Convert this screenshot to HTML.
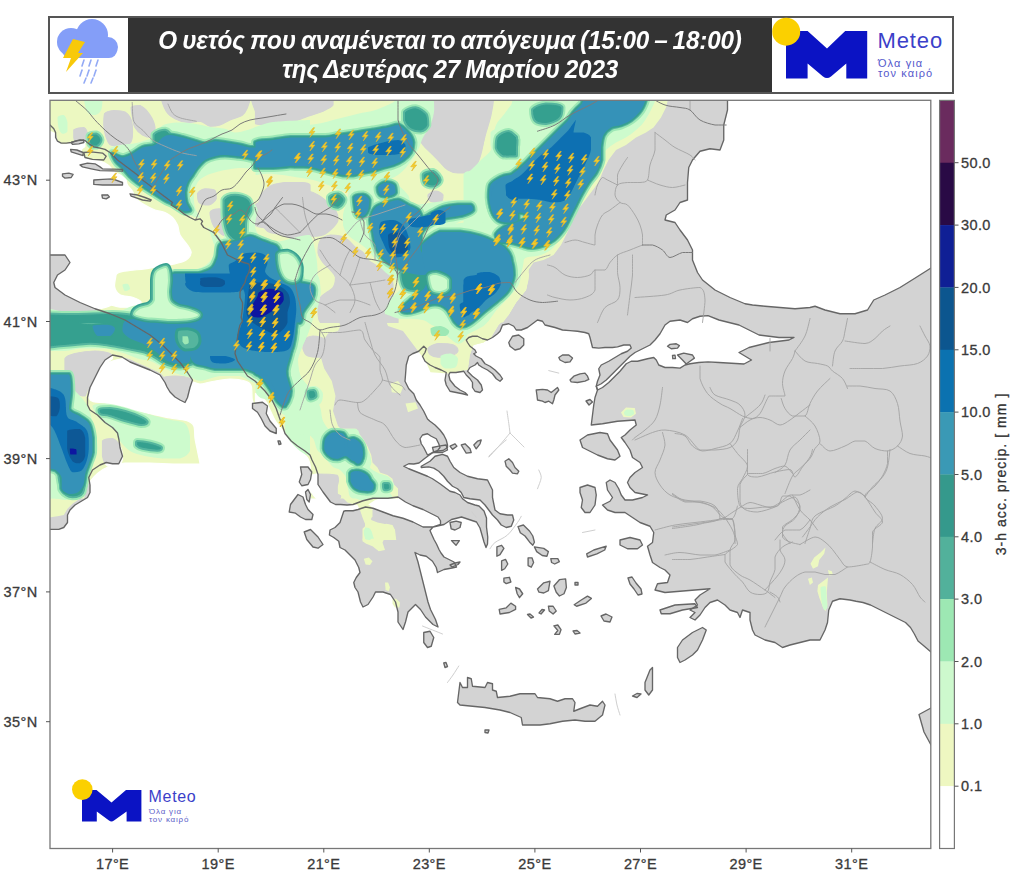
<!DOCTYPE html>
<html><head><meta charset="utf-8"><style>
html,body{margin:0;padding:0;background:#fff;width:1024px;height:884px;overflow:hidden;font-family:"Liberation Sans",sans-serif}
.ttl{color:#fff;font-weight:bold;font-style:italic;font-size:25px;line-height:26px;white-space:nowrap;letter-spacing:-0.2px;word-spacing:-1.5px;transform:scaleX(0.972);transform-origin:50% 50%}
.tk{font-family:"Liberation Sans",sans-serif;font-size:14.5px;fill:#3a3a3a;letter-spacing:0.4px;stroke:#3a3a3a;stroke-width:0.3px}
.tk2{font-family:"Liberation Sans",sans-serif;font-size:14px;fill:#333;letter-spacing:1.05px;stroke:#333;stroke-width:0.3px}
</style></head><body>
<svg style="position:absolute;left:0;top:0" width="1024" height="884" viewBox="0 0 1024 884">
<defs><clipPath id="mc"><rect x="50" y="100.3" width="880.8" height="748.2"/></clipPath><filter id="soft" x="0" y="0" width="1024" height="884" filterUnits="userSpaceOnUse"><feGaussianBlur stdDeviation="0.75"/></filter></defs>
<g clip-path="url(#mc)"><g filter="url(#soft)"><rect x="40" y="90" width="905" height="780" fill="#d3d3d3"/>
<path d="M40,125 L50,125 L53.8,128.8 L55.6,132.5 L55.6,137.5 L57.5,141.2 L61.2,143.1 L66.2,143.1 L71.2,142.5 L75,141.2 L80,140 L85,140.6 L88.8,143.8 L93.8,146.9 L100,148.1 L105,149.4 L110,152.5 L113.8,156.2 L117.5,160 L122.5,163.8 L127.5,167.5 L132.5,171.2 L137.5,175 L142.5,180 L147.5,183.8 L152.5,187.5 L157.5,191.2 L162.5,195 L167.5,198.8 L172.5,202.5 L171.2,205 L177.5,208.8 L183.8,213.8 L190,217.5 L195,220 L200,218.8 L202.5,221.2 L201.2,223.8 L203.8,227.5 L208.8,230 L213.8,232.5 L217.5,237.5 L221.2,242.5 L225,250 L227.5,255 L232.5,257.5 L237.5,260 L243.8,262.5 L248.8,263.8 L250,267.5 L248.8,272.5 L246.2,277.5 L245,282.5 L241.2,288.8 L240,292.5 L240,297.5 L242.5,302.5 L242.5,307.5 L241.9,312.5 L241.2,317.5 L242.5,321.2 L240,325 L238.8,330 L237.5,337.5 L236.2,346 L235,353.5 L237.5,361 L242.5,368.5 L247.5,376 L255,381 L260,386 L265,391 L268.8,396 L272.5,401 L276.2,408.5 L278.8,416 L282.5,426 L285,433.5 L291.2,441 L297.5,446 L305,451 L310,455 L312,460 L315.5,467 L318,474.5 L318,484.5 L323,492 L330.5,502 L335.5,504.5 L340.5,504.5 L347,505 L353,504.5 L363,500.75 L373,498.25 L388,498.25 L398,497 L405.5,502 L413,505.75 L423,509.5 L430.5,513.25 L438,517 L440.5,520.75 L440.5,524.5 L433,527 L423,527 L413,522 L403,518.25 L393,515.75 L383,512 L373,508.25 L365.5,507 L358,509.5 L353,510.75 L345.5,510.75 L343.75,511.25 L340,522.5 L335,527.5 L330,530 L329.4,535 L333.75,537.5 L338.75,541.25 L340,547.5 L345,550 L350,555 L355,560 L358.75,567.5 L360,572.5 L356.25,577.5 L353.75,582.5 L355,587.5 L358,592 L360.5,602 L363,607 L368,604.5 L373,597 L375.5,592 L383,592 L390.5,594.5 L395.5,602 L398,612 L398,622 L403,629.5 L405.5,622 L408,612 L415.5,604.5 L420.5,609.5 L425.5,617 L433,624.5 L438,627 L435.5,619.5 L430.5,609.5 L428,602 L425.5,592 L423,582 L420.5,572 L418,562 L415,552.5 L420,555 L426.25,556.25 L432.5,561.25 L436.25,567.5 L437.5,572.5 L444,569.5 L452,568 L456.5,567 L454,562 L448,559 L444,557 L441,553 L439,549.5 L436.5,544 L434,539.5 L431.5,534 L430,530.5 L433,527 L444,524.5 L451.5,519.5 L461.5,517 L469,519.5 L476.5,522 L480,528 L482,535 L484,542 L486,547.5 L487.5,544 L487.75,537 L486.5,527 L486.5,518 L484,511 L479,506 L475,505 L467.5,502.5 L462.5,498.75 L460,495 L455,492.5 L450,491.25 L445,487.5 L440,483.75 L436.25,481.25 L432.5,478.75 L427.5,476.25 L421.25,473.75 L415,471.25 L408.75,468.75 L403.75,466.25 L408.75,463.75 L413.75,464 L419,463 L424,459 L428,456 L433,452.5 L438,451 L443,450.5 L447.5,447.5 L447.5,445 L446.25,440 L443.75,435 L440,430 L435,425 L430,421.25 L427.5,419 L423.75,411.25 L420,405 L416.25,400 L413.75,393.75 L408.75,388.75 L405,381.25 L405.6,373.75 L406.25,365 L408.75,356.25 L412.5,353.75 L418.75,351.25 L423.75,346.25 L426.25,348.75 L425,352.5 L422.5,356.25 L425,361.25 L430,365 L435,367.5 L441.25,370 L446.25,372.5 L445,380 L446.25,385 L450,391.25 L456.25,392.5 L462.5,393.75 L467.5,395 L465,392.5 L460,390 L455,386.25 L450,380 L448.75,375 L450,372.5 L456,372.5 L463.75,371.25 L466.25,375 L470,378.75 L472.5,382.5 L472.5,387.5 L475,391.25 L480,392.5 L482.5,390 L481.25,385 L477.5,380 L472.5,376.25 L467.5,371.25 L470,367.5 L475,365 L477.5,362.5 L478.75,365 L482.5,367.5 L487.5,370 L492.5,373.75 L496.25,378.75 L500,381.25 L502.5,378.75 L500,375 L495,370 L490,366.25 L485,363.75 L481.25,358.75 L476,356 L473.75,353.75 L476.25,352.5 L475,350 L470,346.25 L467.5,342.5 L466.25,340 L468.75,337.5 L472.5,336.25 L477.5,336.25 L482.5,338.75 L487.5,340 L492.5,337.5 L497.5,333.75 L500,331.25 L502.5,325 L508.75,323.75 L513.75,326.25 L516.25,330 L521.25,330 L527.5,327.5 L532.5,323.75 L537.5,320 L542.5,321.25 L545,325 L550,326.25 L555,327.5 L562.5,330 L570,330.6 L577.5,331.25 L585,332.5 L588.75,333.75 L590,337.5 L591.25,342.5 L592.5,347.5 L598.75,348.1 L605,347.5 L612.5,347.5 L617.5,346.9 L623.75,345 L630,345 L631.25,348.1 L627.5,351.25 L621.25,353.75 L615,357.5 L608.75,361.25 L601.25,365 L598.75,368.75 L600,375 L597.5,381.25 L596.25,386.25 L597.5,390 L595,397.5 L593.75,405 L591.25,425 L602.5,423.75 L617.5,421.25 L635,420 L636.25,425 L630,430 L625,435 L621.25,437.5 L625,442.5 L630,450 L632.5,457.5 L640,462.5 L642.5,467.5 L635,472.5 L630,477.5 L627.5,482.5 L630,487.5 L635,492.5 L647.5,495 L642.5,497.5 L632.5,500 L625,500 L621.25,495 L618.75,488.75 L615,482.5 L610,480 L606.25,482.5 L607.5,490 L612.5,497.5 L610,501.25 L602.5,505 L607.5,510 L615,512.5 L625,512.5 L632.5,517.5 L640,522.5 L650,526.25 L653.75,532.5 L652.5,542.5 L647.5,546.25 L650,555 L652.5,562.5 L660,567.5 L665,570 L670,575 L667.5,582.5 L657.5,583.75 L655,590 L665,592.5 L680,591.25 L695,590 L710,588.75 L700,595 L695,600 L697.5,605 L690,610 L695,612.5 L690,617.5 L695,620 L700,615 L705,607.5 L710,602.5 L717.5,600 L725,605 L730,610 L737.5,612.5 L740,617.5 L742.5,610 L750,612.5 L750,620 L752.5,630 L755,635 L765,640 L775,642.5 L782.5,647.5 L790,645 L800,642.5 L810,640 L820,640 L822.5,635 L825,630 L827.5,622.5 L828.75,610 L832.5,601.25 L840,598.75 L850,600 L856,601.25 L863,602.5 L870.5,605 L878,608.75 L888,613.75 L898,618.75 L905.5,622.5 L910.5,627.5 L914.25,633.75 L918,641 L924,646 L931,652 L945,655 L945,870 L40,870Z" fill="#fff" />
<path d="M727.5,90 L727.5,100 L727.5,110 L723.75,125 L723.75,140 L720,150 L710,148.75 L700,151.25 L692.5,160 L688.75,167.5 L687.5,182.5 L687.5,200 L680,202.5 L675,210 L666.25,215 L665,220 L675,222.5 L680,230 L687.5,240 L692.5,250 L692.5,260 L697.5,272.5 L702.5,280 L715,290 L730,297.5 L745,303.75 L752.5,305 L765,306.25 L780,307.5 L795,308.75 L810,307.5 L815,306.25 L825,310 L840,313.75 L855,313.75 L867.5,310 L873.75,300 L885,295 L900,287.5 L910,281.25 L916,277.5 L931,268 L945,262 L945,90Z" fill="#fff" />
<path d="M596.25,386.25 L601.25,383.75 L606.25,380 L610,376.25 L615,371.25 L620,366.25 L625,361.25 L630,356.25 L635,352.5 L640,350 L645,347.5 L650,345 L655,340 L660,333.75 L665,325 L670,321.25 L680,320 L687.5,322.5 L692.5,318.75 L700,316.25 L708,315.6 L719,320 L739,325 L749,330 L759,335 L779,337.5 L794,337.5 L789,340 L769,342.5 L749,347.5 L739,352.5 L751.5,360 L744,364 L719,362.5 L708,361.9 L698.75,362.5 L690,363.75 L685,365 L680,368.1 L672.5,367.5 L665,367.5 L658.75,365 L656.25,360 L653.75,357.5 L647.5,358.75 L642.5,360 L637.5,361.25 L631.25,361.25 L626.25,363.75 L620,371.25 L613.75,377.5 L608.75,382.5 L602.5,387.5 L597.5,390Z" fill="#fff" />
<path d="M420,438.75 L422.5,435 L427.5,433.75 L431.25,436.25 L436.25,438.75 L438.75,443.75 L440,447.5 L437.5,450.6 L433.75,451.9 L430,453.75 L427.5,455 L426.25,452.5 L423.75,447.5 L421.25,443.75Z" fill="#fff" />
<path d="M30,250 L50,255 L65,255 L70,262.5 L65,270 L57.5,275 L53.75,282.5 L55,287.5 L65,295 L80,302.5 L95,308.75 L110,313.75 L125,320 L137.5,327.5 L150,335 L162.5,345 L172.5,355 L180,362.5 L187.5,372.5 L192.5,380 L190,387.5 L187.5,397.5 L185,402.5 L180,400 L175,397 L170,392 L167,387 L165,382.5 L160,375 L150,370 L140,366 L130,362 L122,357 L112.5,355 L105,360 L100,367.5 L95,377.5 L90,387.5 L87.5,397.5 L87.5,405 L90,410 L97.5,415 L105,422.5 L112.5,427.5 L117.5,433 L119,440 L120,447.5 L122.5,456.25 L118.75,463.75 L112.5,463.75 L106.25,462.5 L100,465 L92.5,470 L88.75,477.5 L90,485 L90,492.5 L87.5,497.5 L81.25,501.25 L75,505 L70,510 L67.5,515 L67.5,522.5 L63.75,527.5 L58.75,529.4 L50,529.4 L30,529.4Z" fill="#d3d3d3" />
<path d="M421.25,466.25 L430,461.25 L435,456.25 L442.5,454.4 L447.5,456.25 L450,461.25 L453.75,467.5 L460,472.5 L467.5,476.25 L477.5,478.75 L487.5,480 L490,485 L492.5,490 L492.5,497.5 L493.75,503.75 L495,510 L500,513.75 L507.5,515 L512.5,515 L513.75,520 L511.25,526.25 L506.25,527.5 L501.25,525 L497.5,520 L492.5,515 L488.75,510 L485,505 L480,500 L470,498.75 L463.75,497.5 L461.25,492.5 L457.5,488.75 L452.5,486.25 L447.5,481.25 L443.75,476.25 L438.75,471.25 L433.75,468.1 L428.75,466.9 L421.25,467.5Z" fill="#d3d3d3" />
<path d="M457.5,702.5 L460,682.5 L462.5,687.5 L467.5,687.5 L467.5,677.5 L471.25,678.75 L472.5,686.25 L485,687.5 L487.5,682.5 L492.5,683.75 L492.5,690 L496.25,691.25 L497.5,697.5 L510,696.25 L520,693.75 L535,693.75 L537.5,697.5 L550,698.75 L557.5,701.25 L565,698.75 L572.5,698.75 L575,702.5 L573.75,711.25 L580,708.75 L590,705 L597.5,706.25 L602.5,701.25 L605,705 L602.5,715 L595,721.25 L585,721.25 L575,720 L562.5,721.25 L550,723.75 L540,725 L522.5,725 L521.25,717.5 L510,712.5 L500,710 L485,707.5 L472.5,706.25 L460,705Z" fill="#d3d3d3" />
<path d="M677.5,647.5 L682.5,640 L692.5,632.5 L702.5,627.5 L706.25,630 L702.5,640 L697.5,650 L692.5,655 L685,660 L680,662.5 L677.5,657.5Z" fill="#d3d3d3" />
<path d="M645,682.5 L650,670 L652.5,667.5 L652.5,677.5 L652.5,690 L648.75,695 L645,690Z" fill="#d3d3d3" />
<path d="M632.5,696 L637,693.5 L641,694 L637,697.5Z" fill="#d3d3d3" />
<path d="M660,610 L675,605 L695,603.75 L697.5,607.5 L682.5,610 L670,613.75 L661.25,613.75Z" fill="#d3d3d3" />
<path d="M628,578 L632,577 L636,583 L641,589 L642,594 L638,595 L634,589 L630,584Z" fill="#d3d3d3" />
<path d="M601,616 L606,614 L612,617 L610,622 L604,621Z" fill="#d3d3d3" />
<path d="M580,440 L587.5,435 L600,432.5 L607.5,433.75 L610,440 L617.5,450 L620,456.25 L615,460 L607.5,458.75 L597.5,455 L590,451.25 L582.5,447.5Z" fill="#d3d3d3" />
<path d="M580,487.5 L587.5,485 L595,487.5 L596.25,495 L595,505 L590,512.5 L585,512.5 L581.25,507.5 L582.5,500 L580,492.5Z" fill="#d3d3d3" />
<path d="M620,540 L630,537.5 L640,540 L642.5,545 L637.5,548.75 L627.5,548.75 L620,545Z" fill="#d3d3d3" />
<path d="M586.7,553.9 L593.75,550 L606.25,546.1 L604.7,550 L596.9,553.9 L587.5,557Z" fill="#d3d3d3" />
<path d="M536.2,390 L542.5,389.4 L547.5,390 L551.2,392.5 L557.5,387.5 L558.8,390 L555,395 L553.8,400 L552.5,403.8 L548.8,401.2 L545,402.5 L542.5,401.2 L537.5,400 L536.9,395Z" fill="#d3d3d3" />
<path d="M558.8,357.5 L562.5,355 L568.8,355 L572.5,358.1 L570,361.9 L565,362.5 L560,360Z" fill="#d3d3d3" />
<path d="M570,380 L573.8,376.2 L580,373.8 L585,373.1 L587.5,376.2 L588.8,379.4 L585,381.2 L577.5,382.5 L571.2,381.9Z" fill="#d3d3d3" />
<path d="M586,401 L590,399.5 L592.5,402 L589,405Z" fill="#d3d3d3" />
<path d="M508.75,342.5 L512.5,336.25 L518.75,335 L523.75,338.75 L523.75,345 L520,348.75 L515,350 L510,346.25Z" fill="#d3d3d3" />
<path d="M505,461.2 L508.8,458.8 L512.5,462.5 L515,467.5 L518.8,471.2 L517.5,473.8 L512.5,473.1 L510,470 L506.2,466.2Z" fill="#d3d3d3" />
<path d="M432.5,447.5 L438.8,446.2 L446.2,445 L447.5,450 L442.5,452.5 L433.8,452.5Z" fill="#d3d3d3" />
<path d="M450,446.2 L455,443.8 L456.9,446.2 L452.5,449.4Z" fill="#d3d3d3" />
<path d="M461.2,445 L465,443.8 L470,448.8 L471.2,452.5 L466.2,453.1Z" fill="#d3d3d3" />
<path d="M473.8,445 L477.5,441.2 L481.2,440 L480,443.8 L476.2,448.8Z" fill="#d3d3d3" />
<path d="M518,526.6 L523.4,525 L529.7,531.25 L532.8,536 L534.4,542.2 L532.8,545.3 L529.7,542.2 L525,536 L520.3,532.8Z" fill="#d3d3d3" />
<path d="M534.4,546.9 L543.75,548.4 L548.4,551.6 L546.9,556.25 L542.2,555.5 L536.7,551.6Z" fill="#d3d3d3" />
<path d="M550.8,558.6 L557.8,558.6 L559.4,561.7 L554.7,564 L551.6,562.5Z" fill="#d3d3d3" />
<path d="M528.1,557.8 L532,557.8 L533.6,562.5 L531.25,567.2 L528.1,565.6Z" fill="#d3d3d3" />
<path d="M496.9,546.9 L501.6,545.3 L503.9,548.4 L500,554.7 L496.9,556.25Z" fill="#d3d3d3" />
<path d="M501.6,560.9 L505.5,559.4 L507.8,564 L504.7,568.75 L501.6,570.3Z" fill="#d3d3d3" />
<path d="M503.9,578.1 L509.4,577.3 L510.9,582 L506.25,583.6 L503.9,582Z" fill="#d3d3d3" />
<path d="M515.6,587.5 L519.5,589 L522.7,593.75 L519.5,597.7 L517.2,593.75Z" fill="#d3d3d3" />
<path d="M537.5,589 L543.75,582.8 L550,581.25 L548.4,590.6 L543.75,593 L539,592.2Z" fill="#d3d3d3" />
<path d="M553.9,586 L559.4,579.7 L565.6,578.9 L566.4,587.5 L564,593.75 L559.4,596 L556.25,592.2Z" fill="#d3d3d3" />
<path d="M499.2,609.4 L506.25,607.8 L510.9,603.1 L515.6,606.25 L515.6,609.4 L509.4,612.5 L500,614Z" fill="#d3d3d3" />
<path d="M548.4,606.25 L553.1,606.25 L556.25,611 L553.1,614 L549.2,611Z" fill="#d3d3d3" />
<path d="M574.2,604.7 L581.25,600 L587.5,596.1 L591.4,598.4 L586,603.1 L576.6,606.25Z" fill="#d3d3d3" />
<path d="M553.9,625.8 L557.8,625 L561,629.7 L559.4,634.4 L554.7,634.4 L557.8,630.5Z" fill="#d3d3d3" />
<path d="M527.5,614.5 L530,614 L533.5,617 L531,618Z" fill="#d3d3d3" />
<path d="M539,613 L542,609.5 L544.5,610 L541,614Z" fill="#d3d3d3" />
<path d="M573,631 L577,630.5 L580,633 L575,634Z" fill="#d3d3d3" />
<path d="M575,582.5 L578,582.5 L578,585 L575,585Z" fill="#d3d3d3" />
<path d="M451.5,540.6 L459.4,540.6 L456,545.3Z" fill="#d3d3d3" />
<path d="M450,522.5 L456.2,521.2 L461.2,522.5 L460,527.5 L455,530 L451.2,528.8Z" fill="#d3d3d3" />
<path d="M450,565 L455,563 L460,562 L458,564.5 L452,567Z" fill="#d3d3d3" />
<path d="M423.75,632.5 L430,631.25 L433.75,637.5 L431.25,646.25 L427.5,647.5 L423.75,642.5Z" fill="#d3d3d3" />
<path d="M443.75,663 L446,662.5 L447.5,666.5 L445,667.5Z" fill="#d3d3d3" />
<path d="M485,730 L489,730 L488,733 L485,732.5Z" fill="#d3d3d3" />
<path d="M252.5,403.5 L262.5,402.25 L267.5,406 L266.25,413.5 L270,421 L276.25,428.5 L276.25,433.5 L270,431 L265,426 L261.25,418.5 L257.5,412.25 L252.5,408.5Z" fill="#d3d3d3" />
<path d="M278,441 L280,441 L281,444 L279,444.5Z" fill="#d3d3d3" />
<path d="M300.5,467 L308,467 L311.75,472 L310.5,479.5 L308,484.5 L301.75,485.75 L299.25,482 L301.75,474.5Z" fill="#d3d3d3" />
<path d="M290.5,504.5 L298,494.5 L303,497 L305.5,504.5 L308,509.5 L313,514.5 L311.8,519.5 L305.5,519.5 L300.5,517 L295.5,513.2 L289.2,512Z" fill="#d3d3d3" />
<path d="M305.5,492 L308,489.5 L310.5,494.5 L309.2,502 L306.8,499.5Z" fill="#d3d3d3" />
<path d="M304.2,532 L310.5,529.5 L318,537 L323,544.5 L318,548.2 L313,547 L306.8,539.5Z" fill="#d3d3d3" />
<path d="M919,714.5 L931,708 L945,708 L945,745 L931,745 L924,732Z" fill="#d3d3d3" />
<path d="M70.6,149.4 L76.9,150 L83.1,152.5 L83.1,155.6 L77.5,153.8 L71.2,151.9Z" fill="#d3d3d3" />
<path d="M83.8,152.5 L91.2,151.9 L102.5,153.1 L106.2,156.2 L103.8,160 L92.5,159.4 L85,157.5Z" fill="#d3d3d3" />
<path d="M80,165 L87.5,163.1 L95,163.8 L100,166.9 L102.5,168.8 L122.5,169.4 L122.5,171.2 L100,170.6 L91.2,168.8 L82.5,166.9Z" fill="#d3d3d3" />
<path d="M62.5,173.8 L68.8,173.1 L73.1,174.4 L71.2,177.5 L65,178.1 L62.5,176.2Z" fill="#d3d3d3" />
<path d="M93.8,180 L102.5,179.4 L112.5,178.8 L122.5,182.5 L122.5,185 L112.5,185 L102.5,185 L93.8,184.4Z" fill="#d3d3d3" />
<path d="M101.9,195 L107.5,194.8 L109.4,196.9 L106.2,198.8 L102.5,198.1Z" fill="#d3d3d3" />
<path d="M130,193.8 L137.5,195 L145,197.5 L151.2,200 L150,201.2 L142.5,200 L131.2,196.2Z" fill="#d3d3d3" />
<path d="M71.2,142.5 L77.5,140.6 L83.8,140 L83.8,142.5 L78.8,143.8 L72.5,144.4Z" fill="#d3d3d3" />
<path d="M667.5,346.25 L670,344.4 L676.25,343.75 L679.4,345.6 L677.5,348.1 L671.25,348.75Z" fill="#d3d3d3" />
<path d="M677.5,355 L683.75,353.1 L692.5,355 L694.4,358.1 L690,361.25 L686.25,364 L682.5,360Z" fill="#d3d3d3" />
<path d="M672.5,355.5 L675,355.2 L675.5,358.5 L672.8,358.7Z" fill="#d3d3d3" />
<mask id="ym" maskUnits="userSpaceOnUse" x="0" y="0" width="1024" height="884">
<path d="M47.5,97.5 L310,97.5 L310,322.5 L47.5,322.5Z" fill="#fff"/>
<path d="M255.5,97.5 L518,97.5 L528,275 L526,290 L516,302.5 L508.5,315 L503,322.5 L255.5,322.5Z" fill="#fff"/>
<path d="M463.5,97.5 L668.5,97.5 L666,107.5 L661,117.5 L653.5,127.5 L646,132.5 L636,137.5 L626,145 L616,150 L608.5,160 L603.5,170 L598.5,182.5 L591,192.5 L583.5,202.5 L576,212.5 L571,225 L566,235 L561,245 L553.5,255 L543.5,260 L533.5,262.5 L528.5,270 L528.5,280 L526,290 L516,300 L503.5,310 L496,322.5 L463.5,322.5Z" fill="#fff"/>
<path d="M47.5,273.5 L310,273.5 L310,498.5 L47.5,498.5Z" fill="#fff"/>
<path d="M255.5,273.5 L318,273.5 L325.5,288.5 L333,306 L340.5,326 L338,331 L328,333.5 L323,341 L320.5,356 L324.2,368.5 L331.8,381 L335.5,396 L333,411 L338,426 L348,436 L358,446 L365.5,456 L373,466 L380.5,476 L390.5,481 L398,488.5 L398,498.5 L255.5,498.5Z" fill="#fff"/>
<path d="M378,273.5 L529.2,273.5 L528.5,277.5 L526,290 L516,302.5 L508.5,315 L498.5,325 L491,337.5 L483.5,342.5 L473.5,345 L469.8,355 L468.5,365 L468,369.8 L448,373.5 L430.5,372.2 L425.5,361 L418,351 L410.5,341 L403,331 L388,326 L383,313.5 L378,296Z" fill="#fff"/>
<path d="M390.5,383.5 L398,381 L403,387.2 L400.5,393.5 L391.8,392.2Z" fill="#fff"/>
<path d="M405.5,403.5 L415.5,402.2 L418,408.5 L408,412.2Z" fill="#fff"/>
<path d="M463.5,237.5 L563.5,237.5 L558.5,247.5 L548.5,257.5 L536,260 L528.5,265 L528.5,277.5 L526,290 L516,302.5 L508.5,315 L498.5,325 L491,337.5 L483.5,342.5 L473.5,345 L469.8,355 L468.5,365 L463.5,367.5Z" fill="#fff"/>
<path d="M621,412.5 L626,407.5 L634.8,408 L636,413.8 L631,417.5 L623.5,417Z" fill="#fff"/>
<path d="M290,437.5 L296.25,440 L302.5,447.5 L308.75,453.75 L315,457.5 L318.75,465 L326,467.5 L335,471 L337.5,477.5 L337.5,486 L338.75,492.5 L342.5,497.5 L347.5,502.5 L352.5,504 L357.5,505 L360,510 L362.5,517.5 L365,523.75 L365,530 L362.5,540 L396.25,540 L395,530 L390,525 L377.5,522.5 L371.25,520 L370,511.25 L367.5,505 L375,500 L382.5,497.5 L390,493.75 L393.75,485 L392.5,478.75 L387.5,475 L380,472.5 L377.5,467.5 L372.5,462.5 L371.25,455 L367.5,446.25 L363.75,440 L360,435 L356.25,428.75 L290,428.75Z" fill="#fff"/>
<path d="M361.2,505 L367.5,503.8 L372.5,507.5 L372.5,516.2 L368.8,522.5 L365,521.2 L362.5,513.8Z" fill="#fff"/>
<path d="M362.5,528.8 L367.5,523.8 L376.2,526.2 L386.2,523.8 L392.5,525 L395,530 L392.5,536.2 L385,537.5 L382.5,542.5 L385,550 L378.8,551.2 L372.5,546.2 L366.2,543.8 L362.5,541.2Z" fill="#fff"/>
<path d="M363.8,558.8 L368.8,557.5 L372.5,561.2 L370,565 L365.6,564.4Z" fill="#fff"/>
<path d="M385,582.5 L388.1,582.5 L390,587.5 L388.8,591.2 L385.6,590Z" fill="#fff"/>
<path d="M392.5,598.8 L396.2,598.8 L400,602.5 L399.4,607.5 L395,607.5 L392.5,603.8Z" fill="#fff"/>
<path d="M810.5,563.8 L814.2,557.5 L820.5,552.5 L825.5,547.5 L824.2,553.8 L819.2,560 L818,566.2 L813,568.8Z" fill="#fff"/>
<path d="M828,570 L831.8,571.2 L833,575 L829.2,575.6Z" fill="#fff"/>
<path d="M808,578.8 L811.8,577.5 L813,582.5 L809.9,585Z" fill="#fff"/>
<path d="M818,585 L828,577.5 L826.8,592.5 L827.4,605 L825.5,611.2 L823,607.5 L819.2,597.5 L817.4,591.2Z" fill="#fff"/>
<path d="M48.8,438.8 L103.8,438.8 L103.8,447.5 L102.5,457.5 L97.5,463.8 L91.2,470 L87.5,477.5 L88.8,487.5 L86.2,493.8 L80,498.8 L72.5,503.8 L67.5,508.8 L63.8,515 L57.5,516.2 L48.8,517.5Z" fill="#fff"/>
<path d="M47.5,131.2 C48.8,131.2 53.3,132.1 55,133.8 C56.7,135.5 56.0,139.4 57.5,141.2 C59.0,143.0 61.1,144.3 63.8,144.5 C66.5,144.5 70.7,142.9 73.8,142.5 C76.9,142.1 80.6,142.0 82.5,142 C84.4,142.6 85.0,144.9 85,146.2 C84.8,147.5 81.6,148.3 81.2,150 C81.2,151.7 81.2,154.5 82.5,156.2 C84.0,157.9 87.1,159.2 90,160 C92.9,160.8 96.9,160.3 100,161.2 C103.1,162.1 106.7,164.0 108.8,165.5 C110.9,167.0 111.0,168.6 112.5,170 C114.0,171.4 115.4,172.6 117.5,173.8 C119.6,175.1 123.3,175.6 125,177.5 C126.7,179.4 126.2,182.7 127.5,185 C128.8,187.3 131.1,188.9 132.5,191.2 C133.9,193.5 134.1,196.5 136.2,198.8 C138.3,201.1 141.9,203.1 145,205 C148.1,206.9 151.7,208.8 155,210 C158.3,211.2 162.1,211.2 165,212.5 C167.9,213.8 170.4,215.4 172.5,217.5 C174.6,219.6 176.2,222.1 177.5,225 C178.8,227.9 178.3,231.7 180,235 C181.7,238.3 185.6,242.1 187.5,245 C189.4,247.9 191.2,250.0 191.2,252.5 C191.0,255.0 188.9,258.1 186.2,260 C183.5,261.9 179.4,262.8 175,263.8 C170.6,264.8 165.0,265.4 160,266.2 C155.0,267.0 150.0,268.1 145,268.8 C140.0,269.5 134.4,269.9 130,270.5 C125.6,271.1 121.5,271.3 118.8,272.5 C116.1,273.7 114.8,275.0 113.8,277.5 C112.8,280.0 112.5,284.2 112.5,287.5 C112.6,290.8 114.5,294.6 114.5,297.5 C114.3,300.4 113.6,303.1 111.2,305 C108.8,306.9 104.0,307.6 100,308.8 C96.0,310.1 91.7,311.7 87.5,312.5 C83.3,313.3 79.6,313.8 75,313.8 C70.4,313.8 64.6,312.7 60,312.5 C55.4,312.5 49.6,312.5 47.5,312.5 C47.5,282.3 47.5,161.0 47.5,131.2Z" fill="#000" stroke="#000" stroke-width="1.2"/>
<path d="M73.8,130 C75.5,128.3 81.5,127.5 83.8,127.5 C86.1,128.3 87.3,132.4 87.5,135 C87.5,137.6 86.9,141.8 85,143 C83.1,143.0 78.1,143.0 76.2,142.5 C74.3,141.6 74.2,139.6 73.8,137.5 C73.8,135.4 73.8,131.7 73.8,130Z" fill="#000" stroke="#000" stroke-width="1.2"/>
<path d="M104.5,113.8 C106.2,111.4 110.4,110.8 113.8,110.5 C117.2,110.5 122.1,110.5 125,112 C127.9,113.6 129.9,116.6 131.2,120 C132.4,123.4 132.5,128.8 132.5,132.5 C132.4,136.2 132.5,140.2 130.5,142.5 C128.4,144.8 123.4,145.9 120,146.2 C116.6,146.2 112.4,146.2 110,144.5 C107.6,142.6 106.5,138.2 105.5,135 C104.5,131.8 104.0,128.5 103.8,125 C103.8,121.5 103.8,116.2 104.5,113.8Z" fill="#000" stroke="#000" stroke-width="1.2"/>
<path d="M131.2,107.5 C132.4,105.5 136.9,105.5 140,105.5 C143.1,106.8 147.5,111.3 150,115 C152.5,118.7 154.6,123.8 155,127.5 C155.0,131.2 154.6,136.2 152.5,137.5 C150.4,137.5 145.4,136.7 142.5,135 C139.6,133.3 136.7,130.4 135,127.5 C133.3,124.6 133.1,120.8 132.5,117.5 C131.9,114.2 131.2,109.5 131.2,107.5Z" fill="#000" stroke="#000" stroke-width="1.2"/>
<path d="M161.2,97.5 C175.2,97.5 235.6,97.5 250,97.5 C250.0,99.2 248.8,104.6 247.5,107.5 C246.2,110.4 245.4,112.9 242.5,115 C239.6,117.1 233.8,118.3 230,120 C226.2,121.7 223.3,124.0 220,125 C216.7,126.0 213.3,126.2 210,126.2 C206.7,125.6 203.8,121.8 200,121.2 C196.2,121.2 191.7,122.5 187.5,122.5 C183.3,122.1 178.6,120.7 175,118.8 C171.4,116.9 168.5,114.8 166.2,111.2 C163.9,107.7 161.2,99.8 161.2,97.5Z" fill="#000" stroke="#000" stroke-width="1.2"/>
<path d="M251.2,97.5 C259.9,97.5 300.2,97.5 310,97.5 C310.0,100.2 310.0,110.0 310,113.8 C307.1,117.5 297.5,118.3 292.5,120 C287.5,121.7 284.2,123.4 280,123.8 C275.8,123.8 271.2,123.8 267.5,122.5 C263.8,121.0 260.2,119.2 257.5,115 C254.8,110.8 251.2,100.4 251.2,97.5Z" fill="#000" stroke="#000" stroke-width="1.2"/>
<path d="M197.5,193.8 C198.5,191.5 202.1,189.4 205,188.8 C207.9,188.8 213.1,188.8 215,190.5 C216.2,192.2 216.2,196.4 216.2,198.8 C215.2,201.2 211.6,204.4 208.8,205 C206.0,205.0 201.1,204.4 199.2,202.5 C197.5,200.6 197.5,196.1 197.5,193.8Z" fill="#000" stroke="#000" stroke-width="1.2"/>
<path d="M210,212.5 C211.0,209.6 216.9,208.8 220,208.8 C223.1,209.6 227.1,213.6 228.8,217.5 C230.5,221.4 230.5,229.5 230.5,232.5 C229.7,235.5 226.6,235.5 223.8,235.5 C221.0,234.4 216.1,230.0 213.8,226.2 C211.5,222.4 210.0,215.4 210,212.5Z" fill="#000" stroke="#000" stroke-width="1.2"/>
<path d="M259.5,197.5 C261.4,193.9 265.8,188.7 270,186.2 C274.2,183.7 280.0,183.1 285,182.5 C290.0,182.5 295.8,182.5 300,182.5 C304.2,182.9 308.3,182.5 310,185 C310.0,194.6 310.0,230.8 310,240 C307.7,240.0 300.8,240.0 296.2,240 C291.6,239.2 287.3,236.5 282.5,235 C277.7,233.5 271.1,233.7 267.5,231.2 C263.9,228.7 262.2,223.9 260.8,220 C259.4,216.1 259.0,211.2 258.8,207.5 C258.8,203.8 258.8,201.1 259.5,197.5Z" fill="#000" stroke="#000" stroke-width="1.2"/>
<path d="M255.5,97.5 C268.4,97.5 320.1,97.5 333,97.5 C333.0,98.8 333.0,102.7 333,105 C331.3,107.3 327.2,109.3 323,111.2 C318.8,113.1 313.4,114.3 308,116.2 C302.6,118.1 296.3,121.0 290.5,122.5 C284.7,124.0 278.8,124.8 273,125 C267.2,125.0 258.4,125.0 255.5,123.8 C255.5,119.2 255.5,101.9 255.5,97.5Z" fill="#000" stroke="#000" stroke-width="1.2"/>
<path d="M255.5,205 C257.2,201.2 261.8,203.5 265.5,201.2 C269.2,198.9 273.8,193.5 278,191.2 C282.2,188.9 285.9,187.7 290.5,187.5 C295.1,187.5 300.9,188.8 305.5,190 C310.1,191.2 314.2,192.9 318,195 C321.8,197.1 325.1,200.0 328,202.5 C330.9,205.0 333.8,207.1 335.5,210 C337.2,212.9 338.0,217.1 338,220 C337.6,222.9 335.5,225.0 333,227.5 C330.5,230.0 326.3,233.6 323,235 C319.7,236.2 316.3,236.2 313,236.2 C309.7,236.2 306.3,235.6 303,235 C299.7,234.4 296.3,233.3 293,232.5 C289.7,231.7 286.3,230.4 283,230 C279.7,230.0 276.3,230.0 273,230 C269.7,229.6 265.9,228.3 263,227.5 C260.1,226.7 256.8,227.5 255.5,225 C255.5,221.2 255.5,209.0 255.5,205Z" fill="#000" stroke="#000" stroke-width="1.2"/>
<path d="M320.5,240 C322.6,237.1 327.2,235.6 330.5,235 C333.8,235.0 337.6,235.4 340.5,236.2 C343.4,237.0 345.5,238.1 348,240 C350.5,241.9 353.0,245.4 355.5,247.5 C358.0,249.6 360.9,250.4 363,252.5 C365.1,254.6 365.9,257.9 368,260 C370.1,262.1 373.0,263.3 375.5,265 C378.0,266.7 380.5,268.3 383,270 C385.5,271.7 388.8,272.5 390.5,275 C392.2,277.5 392.6,281.2 393,285 C393.0,288.8 393.0,293.8 393,297.5 C393.8,301.2 397.2,303.3 398,307.5 C398.0,311.7 398.0,320.0 398,322.5 C385.1,322.5 333.8,322.5 320.5,322.5 C318.0,320.4 318.0,314.2 318,310 C318.0,305.8 318.0,301.2 320.5,297.5 C323.0,293.8 330.5,290.8 333,287.5 C335.5,284.2 335.5,280.4 335.5,277.5 C335.1,274.6 332.6,272.5 330.5,270 C328.4,267.5 325.1,265.4 323,262.5 C320.9,259.6 318.4,256.2 318,252.5 C318.0,248.8 318.4,242.9 320.5,240Z" fill="#000" stroke="#000" stroke-width="1.2"/>
<path d="M433,97.5 C442.6,97.5 476.8,97.5 485.5,97.5 C485.5,102.1 485.5,117.1 485.5,125 C485.1,132.9 484.2,138.8 483,145 C481.8,151.2 480.1,158.1 478,162.5 C475.9,166.9 473.8,169.4 470.5,171.2 C467.2,172.9 461.8,173.0 458,173 C454.2,172.8 451.3,172.2 448,170 C444.7,167.8 440.9,162.9 438,160 C435.1,157.1 433.0,155.0 430.5,152.5 C428.0,150.0 425.1,147.9 423,145 C420.9,142.1 418.4,138.3 418,135 C418.0,131.7 418.8,128.3 420.5,125 C422.2,121.7 425.9,119.6 428,115 C430.1,110.4 428.0,100.4 433,97.5Z" fill="#000" stroke="#000" stroke-width="1.2"/>
<path d="M428,195 C428.8,193.3 433.0,191.2 435.5,191.2 C438.0,191.2 442.2,193.1 443,195 C443.0,196.9 442.6,201.5 440.5,202.5 C438.4,202.5 432.6,202.4 430.5,201.2 C428.4,199.9 428.0,196.7 428,195Z" fill="#000" stroke="#000" stroke-width="1.2"/>
<path d="M463.5,97.5 C468.5,97.5 488.9,97.5 493.5,97.5 C493.5,100.4 492.2,109.2 491,115 C489.8,120.8 487.7,126.7 486,132.5 C484.3,138.3 483.1,145.0 481,150 C478.9,155.0 476.4,158.8 473.5,162.5 C470.6,166.2 465.2,172.5 463.5,172.5 C463.5,161.7 463.5,110.0 463.5,97.5Z" fill="#000" stroke="#000" stroke-width="1.2"/>
<path d="M47.5,273.5 C59.0,273.5 105.0,273.5 116.2,273.5 C116.2,275.6 114.5,282.4 114.5,286 C115.1,289.6 117.0,292.9 120,294.8 C123.0,296.7 129.0,296.0 132.5,297.2 C136.0,298.4 141.2,300.5 141.2,302.2 C141.2,303.9 136.0,306.4 132.5,307.2 C129.0,307.2 123.8,307.2 120,307.2 C116.2,306.8 113.3,305.5 110,304.8 C106.7,304.1 103.3,304.1 100,303 C96.7,301.9 93.3,299.8 90,298 C86.7,296.2 84.2,294.0 80,292.2 C75.8,290.4 69.2,288.4 65,287.2 C60.8,286.0 57.9,285.2 55,284.8 C52.1,284.8 48.8,284.8 47.5,284.8 C47.5,282.9 47.5,275.4 47.5,273.5Z" fill="#000" stroke="#000" stroke-width="1.2"/>
<path d="M87.5,376 C89.2,370.6 95.8,369.7 100,367.2 C104.2,364.7 108.3,362.4 112.5,361 C116.7,359.6 120.8,358.5 125,358.5 C129.2,358.9 133.3,361.8 137.5,363.5 C141.7,365.2 146.2,367.2 150,369 C153.8,370.8 157.1,372.0 160,374 C162.9,376.0 164.2,379.3 167.5,381 C170.8,382.7 176.2,383.9 180,384 C183.8,384.0 186.7,381.5 190,381.5 C193.3,381.5 196.2,384.0 200,384 C203.8,384.0 207.5,382.3 212.5,381.5 C217.5,380.7 224.6,379.1 230,379 C235.4,379.0 241.5,379.8 245,381 C248.5,382.2 249.9,382.7 251.2,386 C252.4,389.3 251.4,396.8 252.5,401 C253.6,405.2 255.0,407.7 257.5,411 C260.0,414.3 264.6,417.7 267.5,421 C270.4,424.3 272.9,427.7 275,431 C277.1,434.3 277.5,437.7 280,441 C282.5,444.3 286.7,447.7 290,451 C293.3,454.3 296.7,457.7 300,461 C303.3,464.3 308.3,464.8 310,471 C310.0,477.2 310.0,493.9 310,498.5 C272.5,498.5 122.1,498.5 85,498.5 C85.0,496.4 85.4,490.2 87.5,486 C89.6,481.8 93.8,476.8 97.5,473.5 C101.2,470.2 105.4,467.8 110,466 C114.6,464.2 118.3,463.5 125,463 C131.7,463.0 141.7,463.0 150,463 C158.3,463.2 166.7,463.8 175,464 C183.3,464.0 196.2,464.0 200,464 C200.0,461.8 198.3,455.2 197.5,451 C196.7,446.8 195.6,442.7 195,438.5 C194.4,434.3 195.0,429.0 193.8,426 C192.3,423.0 190.2,421.8 186.2,420.5 C182.2,419.2 175.2,418.9 170,418 C164.8,417.1 160.4,416.0 155,414.8 C149.6,413.6 143.3,412.5 137.5,411 C131.7,409.5 125.4,407.3 120,406 C114.6,404.7 110.0,404.0 105,403 C100.0,402.0 92.9,403.0 90,399.8 C87.5,395.3 87.5,381.4 87.5,376Z" fill="#000" stroke="#000" stroke-width="1.2"/>
<path d="M65,358.5 C66.7,355.6 70.0,354.8 75,353.5 C80.0,352.2 89.2,351.0 95,351 C100.8,351.0 107.1,352.2 110,353.5 C112.5,354.8 112.5,356.2 112.5,358.5 C110.8,360.8 103.8,364.3 100,367.2 C96.2,370.1 92.1,372.9 90,376 C87.9,379.1 88.3,382.7 87.5,386 C86.7,389.3 86.7,394.8 85,396 C83.3,396.0 80.0,396.0 77.5,393.5 C75.0,391.0 72.1,384.8 70,381 C67.9,377.2 65.8,374.8 65,371 C65.0,367.2 65.0,361.4 65,358.5Z" fill="#000" stroke="#000" stroke-width="1.2"/>
<path d="M102.5,441 C104.2,438.5 109.6,438.5 112.5,438.5 C115.4,439.3 118.3,442.7 120,446 C121.7,449.3 122.5,455.2 122.5,458.5 C122.1,461.8 120.0,464.8 117.5,466 C115.0,466.0 110.0,466.0 107.5,466 C105.0,464.3 103.3,460.2 102.5,456 C102.5,451.8 102.5,443.9 102.5,441Z" fill="#000" stroke="#000" stroke-width="1.2"/>
<path d="M162.5,378.5 C164.2,376.0 170.4,376.0 175,376 C179.6,376.0 187.1,376.8 190,378.5 C192.5,380.2 192.5,381.8 192.5,386 C191.9,390.2 189.1,401.0 186.2,403.5 C183.3,403.5 178.5,402.7 175,401 C171.5,399.3 167.1,397.2 165,393.5 C162.9,389.8 162.5,381.4 162.5,378.5Z" fill="#000" stroke="#000" stroke-width="1.2"/>
<path d="M255.5,393.5 C257.2,393.5 263.0,398.1 265.5,401 C268.0,403.9 268.8,407.7 270.5,411 C272.2,414.3 273.4,417.7 275.5,421 C277.6,424.3 280.5,427.7 283,431 C285.5,434.3 287.6,437.7 290.5,441 C293.4,444.3 297.6,448.1 300.5,451 C303.4,453.9 306.3,455.2 308,458.5 C309.7,461.8 310.5,466.8 310.5,471 C310.1,475.2 306.8,478.9 305.5,483.5 C304.2,488.1 305.5,496.0 303,498.5 C294.7,498.5 263.4,498.5 255.5,498.5 C255.5,481.0 255.5,409.8 255.5,393.5Z" fill="#000" stroke="#000" stroke-width="1.2"/>
<path d="M304.2,339.8 C305.9,337.7 309.9,336.2 313,336 C316.1,336.0 320.9,336.4 323,338.5 C325.1,340.6 325.5,345.4 325.5,348.5 C325.1,351.6 323.4,355.9 320.5,357.2 C317.6,357.2 310.9,357.2 308,356 C305.1,354.6 303.6,351.2 303,348.5 C303.0,345.8 303.0,341.9 304.2,339.8Z" fill="#000" stroke="#000" stroke-width="1.2"/>
<path d="M428,348.5 C429.2,346.6 433.8,344.1 438,343.5 C442.2,343.5 449.7,343.6 453,344.8 C456.3,346.1 458.0,349.1 458,351 C457.6,352.9 453.8,355.0 450.5,356 C447.2,357.0 441.3,357.2 438,357.2 C434.7,357.0 432.2,356.2 430.5,354.8 C428.8,353.4 428.0,350.4 428,348.5Z" fill="#000" stroke="#000" stroke-width="1.2"/>
<path d="M316,474 C321.2,474.0 333.5,474.3 337.2,475.4 C338.4,476.5 338.4,478.8 338.4,480.7 C338.4,482.6 337.4,484.5 337.2,486.6 C337.2,488.8 337.2,492.0 337.2,493.6 C337.8,495.2 340.5,494.8 340.7,496 C340.7,497.2 339.6,499.3 338.4,500.7 C337.2,502.1 335.3,503.6 333.6,504.2 C331.9,504.2 330.6,504.2 328,504 C325.4,503.3 321.0,502.3 318,500 C315.0,497.7 312.0,493.3 310,490 C308.0,486.7 306.0,482.7 306,480 C307.0,477.3 310.8,474.8 316,474Z" fill="#000" stroke="#000" stroke-width="1.2"/>
</mask>
<rect x="40" y="90" width="905" height="780" fill="#ecf8c1" mask="url(#ym)"/>
<path d="M108.8,152.5 C108.8,149.8 109.3,148.8 111.2,147.5 C113.1,146.2 116.5,145.6 120,145 C123.5,144.4 128.8,144.4 132.5,143.8 C136.2,143.2 139.2,142.2 142.5,141.2 C145.8,140.1 149.6,139.8 152.5,137.5 C155.4,135.2 157.5,129.8 160,127.5 C162.5,125.2 164.2,124.6 167.5,123.8 C170.8,123.0 175.4,122.5 180,122.5 C184.6,122.5 190.0,123.0 195,123.8 C200.0,124.5 205.0,126.2 210,127 C215.0,127.8 220.8,127.9 225,128.8 C229.2,129.7 231.2,132.3 235,132.5 C238.8,132.5 243.8,131.1 247.5,130 C251.2,128.9 253.8,127.5 257.5,126.2 C261.2,125.0 265.8,123.3 270,122.5 C274.2,121.7 275.8,121.6 282.5,121.2 C289.2,120.8 305.4,120.0 310,120 C310.0,129.0 310.0,165.6 310,175 C307.9,176.2 301.2,176.2 297.5,176.2 C293.8,176.2 291.2,175.4 287.5,175 C283.8,174.6 278.8,174.6 275,173.8 C271.2,173.1 268.8,171.3 265,170.5 C261.2,169.7 256.7,169.2 252.5,168.8 C248.3,168.4 244.6,168.0 240,168 C235.4,168.2 229.2,169.2 225,170 C220.8,170.8 218.3,171.5 215,172.5 C211.7,173.5 207.9,174.5 205,176.2 C202.1,177.9 199.4,179.4 197.5,182.5 C195.6,185.6 194.2,190.8 193.8,195 C193.8,199.2 194.0,203.8 195,207.5 C196.0,211.2 200.0,216.1 200,217.5 C199.6,217.5 195.0,217.2 192.5,216.2 C190.0,215.1 187.9,212.9 185,211.2 C182.1,209.5 178.3,207.6 175,206.2 C171.7,204.8 168.3,203.7 165,202.5 C161.7,201.3 158.3,200.5 155,198.8 C151.7,197.1 148.3,194.6 145,192.5 C141.7,190.4 138.3,188.6 135,186.2 C131.7,183.8 127.9,180.5 125,178 C122.1,175.5 119.6,173.6 117.5,171.2 C115.4,168.8 114.0,166.9 112.5,163.8 C111.0,160.7 109.0,155.2 108.8,152.5Z" fill="#cdfbcd"/>
<path d="M207.5,227.5 C208.3,227.5 212.5,230.6 215,232.5 C217.5,234.4 220.8,238.8 222.5,238.8 C224.2,238.4 225.0,234.0 225,230 C225.0,226.0 223.3,219.6 222.5,215 C221.7,210.4 220.0,205.6 220,202.5 C220.4,199.4 222.1,197.4 225,196.2 C227.9,195.0 233.3,195.0 237.5,195 C241.7,195.6 246.7,197.5 250,200 C253.3,202.5 256.7,205.8 257.5,210 C257.5,214.2 255.0,220.8 255,225 C255.2,229.2 256.7,232.5 258.8,235 C260.9,237.5 264.0,239.0 267.5,240 C271.0,241.0 276.2,241.2 280,241.2 C283.8,241.0 286.7,239.6 290,238.8 C293.3,238.0 296.7,236.8 300,236.2 C303.3,235.6 307.5,235.0 310,235 C312.5,237.3 313.8,244.2 315,250 C316.2,255.8 317.5,263.3 317.5,270 C317.5,276.7 316.2,283.3 315,290 C313.8,296.7 311.2,304.6 310,310 C308.8,315.4 310.0,320.4 307.5,322.5 C263.8,322.5 90.8,322.5 47.5,322.5 C47.5,320.6 47.5,312.9 47.5,311.2 C50.0,311.2 55.8,311.7 62.5,312 C69.2,312.3 79.2,313.0 87.5,313 C95.8,313.0 104.2,312.0 112.5,312 C120.8,312.2 129.6,314.4 137.5,314.5 C145.4,314.5 155.2,314.5 160,312.5 C164.8,310.1 164.5,304.4 166.2,300 C167.9,295.6 168.5,290.2 170,286.2 C171.5,282.2 172.5,278.7 175,276.2 C177.5,273.7 180.8,272.6 185,271.2 C189.2,269.8 195.8,269.7 200,268 C204.2,266.3 207.5,264.2 210,261.2 C212.5,258.2 214.6,253.5 215,250 C215.0,246.5 213.3,242.9 212.5,240 C211.7,237.1 210.8,234.6 210,232.5 C209.2,230.4 207.5,227.5 207.5,227.5Z" fill="#cdfbcd"/>
<path d="M57.5,117.5 C58.3,115.2 62.1,115.0 63.8,115 C65.5,115.8 66.9,119.8 67.5,122.5 C67.5,125.2 67.5,129.3 67.5,131.2 C66.7,133.1 64.0,133.8 62.5,133.8 C61.0,133.4 59.6,131.5 58.8,128.8 C58.0,126.1 57.5,119.8 57.5,117.5Z" fill="#cdfbcd"/>
<path d="M83.8,97.5 C86.3,97.5 99.6,97.5 102.5,97.5 C102.5,99.6 102.5,107.1 101.2,110 C100.0,112.9 97.3,114.6 95,115 C92.7,115.0 89.4,115.0 87.5,112.5 C85.6,109.6 83.8,100.0 83.8,97.5Z" fill="#cdfbcd"/>
<path d="M87.5,137.5 C88.5,135.8 91.7,133.8 93.8,133.8 C95.9,133.8 99.0,135.6 100,137.5 C100.0,139.4 100.0,143.3 100,145 C98.8,146.7 94.6,147.5 92.5,147.5 C90.4,147.3 88.3,145.5 87.5,143.8 C87.5,142.1 87.5,139.2 87.5,137.5Z" fill="#cdfbcd"/>
<path d="M281.2,255 C282.7,251.2 286.9,250.4 290,250 C293.1,250.0 297.9,250.0 300,252.5 C302.1,255.0 302.5,260.8 302.5,265 C302.1,269.2 300.0,275.0 297.5,277.5 C295.0,280.0 290.2,280.0 287.5,280 C284.8,279.2 282.2,276.7 281.2,272.5 C281.2,268.3 281.2,258.8 281.2,255Z" fill="#cdfbcd"/>
<path d="M122.5,285 C122.9,283.8 126.2,283.8 127.5,283.8 C128.8,284.4 130.0,287.6 130,288.8 C129.6,290.0 126.2,291.2 125,291.2 C123.8,290.6 122.5,286.2 122.5,285Z" fill="#cdfbcd"/>
<path d="M255.5,133.8 C259.2,130.0 270.9,131.3 278,130 C285.1,128.7 291.3,127.2 298,126.2 C304.7,125.2 311.3,125.0 318,123.8 C324.7,122.6 331.3,120.5 338,118.8 C344.7,117.1 351.8,115.3 358,113.8 C364.2,112.3 369.7,111.9 375.5,110 C381.3,108.1 389.2,104.6 393,102.5 C396.8,100.4 393.0,98.3 398,97.5 C404.7,97.5 427.0,97.5 433,97.5 C434.2,99.6 434.2,105.4 434.2,110 C433.8,114.6 432.4,120.4 430.5,125 C428.6,129.6 425.1,133.3 423,137.5 C420.9,141.7 420.5,145.4 418,150 C415.5,154.6 411.3,160.8 408,165 C404.7,169.2 402.2,172.1 398,175 C393.8,177.9 388.0,180.4 383,182.5 C378.0,184.6 373.0,185.8 368,187.5 C363.0,189.2 357.6,192.1 353,192.5 C348.4,192.5 344.7,191.2 340.5,190 C336.3,188.8 332.6,186.7 328,185 C323.4,183.3 318.0,181.2 313,180 C308.0,178.8 303.0,178.3 298,177.5 C293.0,176.7 288.0,175.6 283,175 C278.0,174.4 272.6,173.8 268,173.8 C263.4,173.8 257.6,175.0 255.5,175 C255.5,168.3 255.5,141.3 255.5,133.8Z" fill="#cdfbcd"/>
<path d="M353,182.5 C356.8,180.0 364.7,180.4 370.5,180 C376.3,180.0 383.4,180.0 388,180 C392.6,180.8 394.7,182.5 398,185 C401.3,187.5 405.5,191.7 408,195 C410.5,198.3 408.8,203.8 413,205 C417.2,205.0 426.3,203.3 433,202.5 C439.7,201.7 446.8,200.4 453,200 C459.2,200.0 466.8,200.0 470.5,200 C474.2,201.2 475.5,204.6 475.5,207.5 C475.5,210.4 473.4,215.0 470.5,217.5 C467.6,220.0 461.8,220.4 458,222.5 C454.2,224.6 450.9,227.1 448,230 C445.1,232.9 442.2,235.8 440.5,240 C438.8,244.2 439.2,250.0 438,255 C436.8,260.0 435.5,266.7 433,270 C430.5,273.3 426.3,273.8 423,275 C419.7,276.2 416.3,276.7 413,277.5 C409.7,278.3 406.3,280.0 403,280 C399.7,280.0 396.3,279.2 393,277.5 C389.7,275.8 385.9,272.9 383,270 C380.1,267.1 378.0,263.3 375.5,260 C373.0,256.7 370.9,252.9 368,250 C365.1,247.1 361.3,245.0 358,242.5 C354.7,240.0 350.5,237.9 348,235 C345.5,232.1 343.8,228.3 343,225 C343.0,221.7 343.0,218.3 343,215 C343.4,211.7 344.7,208.3 345.5,205 C346.3,201.7 346.8,198.8 348,195 C349.2,191.2 349.2,185.0 353,182.5Z" fill="#cdfbcd"/>
<path d="M490.5,132.5 C492.2,129.6 495.9,128.8 500.5,127.5 C505.1,126.2 515.1,125.0 518,125 C518.0,130.8 518.0,156.2 518,162.5 C515.9,162.5 509.2,162.5 505.5,162.5 C501.8,161.2 498.0,157.9 495.5,155 C493.0,152.1 491.3,148.8 490.5,145 C490.5,141.2 490.5,135.4 490.5,132.5Z" fill="#cdfbcd"/>
<path d="M255.5,240 C257.6,240.0 263.8,240.0 268,240 C272.2,240.8 276.3,243.3 280.5,245 C284.7,246.7 289.7,247.5 293,250 C296.3,252.5 298.4,255.8 300.5,260 C302.6,264.2 304.2,270.0 305.5,275 C306.8,280.0 307.6,285.0 308,290 C308.0,295.0 308.0,299.6 308,305 C307.6,310.4 308.0,319.6 305.5,322.5 C296.8,322.5 263.8,322.5 255.5,322.5 C255.5,308.8 255.5,253.8 255.5,240Z" fill="#cdfbcd"/>
<path d="M516,97.5 C540.2,97.5 633.5,97.5 656,97.5 C656.0,99.6 653.1,105.8 651,110 C648.9,114.2 646.0,119.2 643.5,122.5 C641.0,125.8 638.9,127.5 636,130 C633.1,132.5 629.3,135.4 626,137.5 C622.7,139.6 619.3,140.4 616,142.5 C612.7,144.6 608.5,147.1 606,150 C603.5,152.9 602.7,156.2 601,160 C599.3,163.8 597.7,168.8 596,172.5 C594.3,176.2 593.1,179.2 591,182.5 C588.9,185.8 586.0,189.2 583.5,192.5 C581.0,195.8 578.1,199.2 576,202.5 C573.9,205.8 572.7,209.2 571,212.5 C569.3,215.8 567.7,219.2 566,222.5 C564.3,225.8 563.1,229.2 561,232.5 C558.9,235.8 556.0,239.6 553.5,242.5 C551.0,245.4 548.9,247.9 546,250 C543.1,252.1 539.3,253.8 536,255 C532.7,256.2 528.5,255.8 526,257.5 C523.5,259.2 521.8,262.1 521,265 C521.0,267.9 521.0,271.7 521,275 C520.6,278.3 520.2,281.7 518.5,285 C516.8,288.3 513.9,291.7 511,295 C508.1,298.3 504.3,301.7 501,305 C497.7,308.3 493.5,312.1 491,315 C488.5,317.9 490.6,321.2 486,322.5 C481.4,322.5 467.2,322.5 463.5,322.5 C463.5,297.9 463.5,200.4 463.5,175 C464.8,170.0 468.1,172.5 471,170 C473.9,167.5 477.7,163.3 481,160 C484.3,156.7 488.9,153.8 491,150 C493.1,146.2 492.7,141.7 493.5,137.5 C494.3,133.3 494.3,128.8 496,125 C497.7,121.2 501.0,118.3 503.5,115 C506.0,111.7 508.9,107.9 511,105 C513.1,102.1 511.0,98.8 516,97.5Z" fill="#cdfbcd"/>
<path d="M47.5,308.5 C49.6,308.5 55.4,310.2 60,311 C64.6,311.8 70.0,312.9 75,313.5 C80.0,314.1 85.0,314.8 90,314.8 C95.0,314.8 100.0,314.1 105,313.5 C110.0,312.9 115.4,312.2 120,311 C124.6,309.8 128.3,307.2 132.5,306 C136.7,304.8 141.2,305.2 145,303.5 C148.8,301.8 152.5,298.9 155,296 C157.5,293.1 158.3,289.8 160,286 C161.7,282.2 160.0,275.6 165,273.5 C190.9,273.5 289.6,273.5 315.5,273.5 C320.5,276.4 320.1,285.6 320.5,291 C320.5,296.4 319.2,301.4 318,306 C316.8,310.6 314.7,313.9 313,318.5 C311.3,323.1 310.1,328.1 308,333.5 C305.9,338.9 302.2,346.4 300.5,351 C298.8,355.6 298.0,356.8 298,361 C298.0,365.2 298.8,371.8 300.5,376 C302.2,380.2 305.5,382.7 308,386 C310.5,389.3 315.2,390.2 315.5,396 C315.5,401.8 312.6,417.7 310,421 C307.4,421.0 303.3,417.7 300,416 C296.7,414.3 293.3,412.7 290,411 C286.7,409.3 283.3,408.5 280,406 C276.7,403.5 273.3,399.3 270,396 C266.7,392.7 263.3,388.5 260,386 C256.7,383.5 253.3,382.7 250,381 C246.7,379.3 243.3,376.8 240,376 C236.7,376.0 233.3,376.0 230,376 C226.7,376.0 223.3,376.0 220,376 C216.7,376.4 213.3,377.7 210,378.5 C206.7,379.3 203.3,381.0 200,381 C196.7,380.8 193.3,378.2 190,377.2 C186.7,376.2 183.3,375.8 180,374.8 C176.7,373.8 173.3,372.5 170,371 C166.7,369.5 163.3,367.7 160,366 C156.7,364.3 153.8,362.2 150,361 C146.2,359.8 141.7,359.8 137.5,358.5 C133.3,357.2 128.8,354.8 125,353.5 C121.2,352.2 117.9,351.8 115,351 C112.1,350.2 110.8,348.9 107.5,348.5 C104.2,348.5 99.6,348.5 95,348.5 C90.4,348.5 85.0,348.5 80,348.5 C75.0,348.9 70.4,350.6 65,351 C59.6,351.0 50.4,351.0 47.5,351 C47.5,343.9 47.5,315.2 47.5,308.5Z" fill="#cdfbcd"/>
<path d="M47.5,371 C49.6,371.0 56.2,373.5 60,376 C63.8,378.5 66.7,382.7 70,386 C73.3,389.3 77.1,392.7 80,396 C82.9,399.3 85.4,401.8 87.5,406 C89.6,410.2 91.2,416.0 92.5,421 C93.8,426.0 95.0,431.0 95,436 C95.0,441.0 93.8,446.0 92.5,451 C91.2,456.0 89.6,461.0 87.5,466 C85.4,471.0 82.1,475.6 80,481 C77.9,486.4 80.0,495.6 75,498.5 C69.6,498.5 52.1,498.5 47.5,498.5 C47.5,477.2 47.5,391.4 47.5,371Z" fill="#cdfbcd"/>
<path d="M92.5,406 C93.8,403.9 100.4,403.5 105,403.5 C109.6,403.5 114.6,404.8 120,406 C125.4,407.2 131.7,409.3 137.5,411 C143.3,412.7 149.6,414.5 155,416 C160.4,417.5 165.0,418.6 170,419.8 C175.0,421.1 181.7,420.8 185,423.5 C188.3,426.2 189.2,431.4 190,436 C190.0,440.6 190.0,447.2 190,451 C188.3,454.8 184.6,457.2 180,458.5 C175.4,458.5 168.3,458.5 162.5,458.5 C156.7,458.1 150.4,457.2 145,456 C139.6,454.8 134.2,453.5 130,451 C125.8,448.5 122.5,444.3 120,441 C117.5,437.7 117.5,433.9 115,431 C112.5,428.1 107.9,426.0 105,423.5 C102.1,421.0 99.6,418.9 97.5,416 C95.4,413.1 92.5,408.1 92.5,406Z" fill="#cdfbcd"/>
<path d="M285,416 C286.7,416.0 290.8,416.0 295,416 C299.2,416.4 307.5,416.0 310,418.5 C310.0,425.2 310.0,450.6 310,456 C308.3,456.0 303.3,453.5 300,451 C296.7,448.5 292.5,444.3 290,441 C287.5,437.7 285.8,435.2 285,431 C285.0,426.8 285.0,418.5 285,416Z" fill="#cdfbcd"/>
<path d="M255.5,273.5 C265.5,273.5 304.7,273.5 315.5,273.5 C320.5,276.4 320.1,285.6 320.5,291 C320.5,296.4 319.2,301.4 318,306 C316.8,310.6 314.7,313.9 313,318.5 C311.3,323.1 310.1,328.1 308,333.5 C305.9,338.9 302.2,346.4 300.5,351 C298.8,355.6 298.0,356.8 298,361 C298.0,365.2 298.8,371.8 300.5,376 C302.2,380.2 305.5,382.7 308,386 C310.5,389.3 313.4,392.2 315.5,396 C317.6,399.8 319.2,404.3 320.5,408.5 C321.8,412.7 321.3,417.2 323,421 C324.7,424.8 327.6,428.5 330.5,431 C333.4,433.5 336.8,434.8 340.5,436 C344.2,437.2 349.2,436.8 353,438.5 C356.8,440.2 360.5,443.1 363,446 C365.5,448.9 367.2,452.7 368,456 C368.0,459.3 368.0,462.7 368,466 C368.8,469.3 371.3,472.7 373,476 C374.7,479.3 375.5,483.5 378,486 C380.5,488.5 385.5,488.9 388,491 C390.5,493.1 393.0,497.2 393,498.5 C387.2,498.5 360.5,498.5 353,498.5 C348.0,496.8 349.2,492.2 348,488.5 C346.8,484.8 346.8,479.8 345.5,476 C344.2,472.2 343.4,469.3 340.5,466 C337.6,462.7 331.8,458.5 328,456 C324.2,453.5 320.5,453.9 318,451 C315.5,448.1 315.5,441.8 313,438.5 C310.5,435.2 306.3,433.1 303,431 C299.7,428.9 295.9,428.5 293,426 C290.1,423.5 288.0,418.5 285.5,416 C283.0,413.5 280.5,413.5 278,411 C275.5,408.5 274.2,404.3 270.5,401 C266.8,397.7 258.0,401.0 255.5,391 C255.5,369.8 255.5,293.1 255.5,273.5Z" fill="#cdfbcd"/>
<path d="M305.5,388.5 C307.2,386.4 312.6,386.0 315.5,386 C318.4,386.8 322.2,390.6 323,393.5 C323.0,396.4 322.6,401.4 320.5,403.5 C318.4,405.6 313.0,406.0 310.5,406 C308.0,405.2 306.3,401.4 305.5,398.5 C305.5,395.6 305.5,390.6 305.5,388.5Z" fill="#cdfbcd"/>
<path d="M293,423.5 C294.2,421.6 297.6,418.5 300.5,418.5 C303.4,418.5 308.8,421.2 310.5,423.5 C310.5,425.8 310.5,430.3 310.5,432.2 C308.8,434.1 303.4,434.8 300.5,434.8 C297.6,434.4 294.2,431.7 293,429.8 C293.0,427.9 293.0,425.4 293,423.5Z" fill="#cdfbcd"/>
<path d="M440.5,356 C442.2,354.3 447.6,353.5 450.5,353.5 C453.4,353.9 457.2,356.2 458,358.5 C458.0,360.8 457.6,365.5 455.5,367.2 C453.4,368.5 448.0,368.5 445.5,368.5 C443.0,367.9 441.3,365.6 440.5,363.5 C440.5,361.4 440.5,357.7 440.5,356Z" fill="#cdfbcd"/>
<path d="M380.5,481 C381.5,479.3 385.7,478.5 388,478.5 C390.3,479.1 394.0,482.7 394.2,484.8 C394.2,486.9 391.3,490.4 389.2,491 C387.1,491.0 383.2,490.2 381.8,488.5 C380.5,486.8 380.5,482.7 380.5,481Z" fill="#cdfbcd"/>
<path d="M463.5,237.5 C479.3,237.5 543.5,237.5 558.5,237.5 C558.5,239.2 556.4,244.6 553.5,247.5 C550.6,250.4 545.6,253.3 541,255 C536.4,256.7 530.2,256.2 526,257.5 C521.8,258.8 518.1,259.2 516,262.5 C513.9,265.8 514.3,272.9 513.5,277.5 C512.7,282.1 512.7,285.8 511,290 C509.3,294.2 506.8,298.3 503.5,302.5 C500.2,306.7 494.8,311.2 491,315 C487.2,318.8 484.3,322.1 481,325 C477.7,327.9 473.9,330.8 471,332.5 C468.1,334.2 464.8,335.0 463.5,335 C463.5,319.2 463.5,253.8 463.5,237.5Z" fill="#cdfbcd"/>
<path d="M624,412.5 C624.3,411.5 625.7,409.9 627.2,409.5 C628.7,409.5 631.9,409.5 633,410 C634.0,410.7 634.0,412.8 634,413.8 C633.6,414.8 631.9,415.7 630.5,416 C629.1,416.0 626.6,416.0 625.5,415.5 C624.4,414.9 624.0,413.5 624,412.5Z" fill="#cdfbcd"/>
<path d="M320,428.75 C325.8,428.8 348.3,428.8 355,428.75 C360.0,429.8 358.5,433.1 360,435 C361.5,436.9 362.7,438.1 363.75,440 C364.8,441.9 365.2,443.8 366.25,446.25 C367.3,448.8 369.2,452.3 370,455 C370.8,457.7 371.2,460.4 371.25,462.5 C371.2,464.6 370.0,466.0 370,467.5 C370.6,469.0 373.3,470.2 375,471.25 C376.7,472.3 377.9,472.9 380,473.75 C382.1,474.6 385.6,475.2 387.5,476.25 C389.4,477.3 390.4,478.5 391.25,480 C392.1,481.5 392.5,483.3 392.5,485 C392.1,486.7 390.4,488.8 388.75,490 C387.1,491.2 384.8,491.7 382.5,492.5 C380.2,493.3 377.1,494.2 375,495 C372.9,495.8 371.7,496.7 370,497.5 C368.3,498.3 366.7,499.6 365,500 C363.3,500.0 361.7,500.0 360,500 C358.3,499.6 356.7,498.8 355,497.5 C353.3,496.2 351.2,494.6 350,492.5 C348.8,490.4 348.1,487.5 347.5,485 C346.9,482.5 347.5,480.0 346.25,477.5 C345.0,475.0 342.1,471.7 340,470 C337.9,468.3 335.4,468.5 333.75,467.5 C332.1,466.5 331.5,465.4 330,463.75 C328.5,462.1 326.5,459.8 325,457.5 C323.5,455.2 322.1,452.5 321.25,450 C320.4,447.5 320.2,445.0 320,442.5 C320.0,440.0 320.0,437.3 320,435 C320.0,432.7 320.0,429.8 320,428.75Z" fill="#cdfbcd"/>
<path d="M365,527.5 C365.8,527.5 368.8,527.5 370,528.8 C371.2,530.0 372.5,533.1 372.5,535 C372.5,536.9 371.2,539.4 370,540 C368.8,540.0 365.8,540.0 365,538.8 C365.0,536.7 365.0,529.2 365,527.5Z" fill="#cdfbcd"/>
<path d="M363.8,530 C364.5,528.8 367.4,528.8 368.8,528.8 C370.2,529.6 371.7,533.3 372.5,535 C373.3,536.7 373.8,538.2 373.8,538.8 C373.0,538.8 369.1,538.8 367.5,538.8 C365.9,538.4 365.0,537.7 364.4,536.2 C363.8,534.7 363.8,531.2 363.8,530Z" fill="#cdfbcd"/>
<path d="M820.5,587.5 C821.1,586.2 824.5,586.2 825.5,586.2 C826.5,588.3 826.5,596.5 826.8,600 C827.1,603.5 827.4,605.8 827.4,607.5 C827.0,609.2 825.1,610.0 824.2,610 C823.3,609.2 822.4,606.2 821.8,602.5 C821.2,598.8 820.5,590.2 820.5,587.5Z" fill="#cdfbcd"/>
<path d="M48.8,438.8 C56.5,438.8 86.9,438.8 95,438.8 C97.5,440.2 97.3,444.8 97.5,447.5 C97.5,450.2 97.0,452.5 96.2,455 C95.4,457.5 94.0,460.2 92.5,462.5 C91.0,464.8 89.0,466.3 87.5,468.8 C86.0,471.3 84.4,474.4 83.8,477.5 C83.8,480.6 83.8,484.8 83.8,487.5 C83.2,490.2 81.9,492.1 80,493.8 C78.1,495.5 75.0,496.5 72.5,497.5 C70.0,498.5 67.5,499.8 65,500 C62.5,500.0 60.2,499.2 57.5,498.8 C54.8,498.4 50.2,498.8 48.8,497.5 C48.8,487.5 48.8,448.6 48.8,438.8Z" fill="#cdfbcd"/>
<path d="M430,230 C438.7,226.2 458.3,222.8 470,222 C481.7,222.0 492.5,222.8 500,225 C507.5,227.2 512.1,230.8 515,235 C517.5,239.2 516.0,245.9 517.5,250 C519.0,254.1 523.2,255.2 523.75,259.4 C523.8,263.6 522.2,270.3 520.6,275 C519.0,279.7 517.0,283.9 514.4,287.5 C511.8,291.1 507.6,293.8 505,296.9 C502.4,300.0 500.8,303.1 498.75,306.25 C496.7,309.4 494.6,312.7 492.5,315.6 C490.4,318.5 488.3,321.3 486.25,323.4 C484.2,325.5 482.1,326.8 480,328.1 C477.9,329.4 475.8,330.2 473.75,331.25 C471.7,332.3 469.1,332.8 467.5,334.4 C465.9,336.0 466.0,339.0 464.4,340.6 C462.8,342.2 460.7,343.8 458.1,343.75 C455.5,343.2 451.9,340.1 448.75,337.5 C445.6,334.9 442.3,330.2 439.4,328.1 C436.5,326.0 434.2,326.3 431.6,325 C429.0,323.7 427.1,321.3 423.75,320.3 C420.4,319.3 415.4,319.0 411.25,318.75 C407.1,318.8 402.4,318.8 398.75,318.75 C395.1,318.2 391.7,316.6 389.4,315.6 C387.1,314.6 384.7,315.1 384.7,312.5 C384.8,309.9 387.4,303.8 390,300 C392.6,296.2 396.7,293.3 400,290 C403.3,286.7 407.5,284.2 410,280 C412.5,275.8 413.7,270.8 415,265 C416.3,259.2 415.5,250.8 418,245 C420.5,239.2 421.3,233.8 430,230Z" fill="#cdfbcd"/>
<path d="M225,200 C226.7,197.3 231.2,196.2 235,196.2 C238.8,196.2 245.0,197.7 247.5,200 C250.0,202.3 250.0,206.7 250,210 C249.6,213.3 246.0,215.8 245,220 C244.0,224.2 245.0,231.7 243.8,235 C242.6,238.3 239.8,240.0 237.5,240 C235.2,240.0 231.9,237.5 230,235 C228.1,232.5 227.0,228.8 226.2,225 C225.4,221.2 225.2,216.7 225,212.5 C225.0,208.3 225.0,202.7 225,200Z" fill="#9de8b5" stroke="#9de8b5" stroke-width="9" stroke-linejoin="round"/>
<path d="M90,136.2 C90.8,135.0 94.5,135.0 96.2,135 C97.9,135.6 100.0,138.3 100,140 C100.0,141.7 97.7,144.4 96.2,145 C94.7,145.0 92.2,145.0 91.2,143.8 C90.2,142.3 90.0,137.7 90,136.2Z" fill="#9de8b5" stroke="#9de8b5" stroke-width="9" stroke-linejoin="round"/>
<path d="M47.5,315 C52.1,315.0 64.2,315.5 75,315.5 C85.8,315.4 102.1,314.5 112.5,314.5 C122.9,314.7 129.2,316.4 137.5,316.5 C145.8,316.5 157.9,315.0 162.5,315 C165.0,316.0 165.0,321.2 165,322.5 C145.8,322.5 67.1,322.5 47.5,322.5 C47.5,321.2 47.5,316.2 47.5,315Z" fill="#9de8b5" stroke="#9de8b5" stroke-width="9" stroke-linejoin="round"/>
<path d="M155,135 C156.7,132.7 162.5,131.2 165,131.2 C167.5,131.6 169.6,134.4 170,137.5 C170.0,140.6 169.2,147.5 167.5,150 C165.8,152.5 162.1,152.5 160,152.5 C157.9,151.7 155.8,147.9 155,145 C155.0,142.1 155.0,137.3 155,135Z" fill="#9de8b5" stroke="#9de8b5" stroke-width="9" stroke-linejoin="round"/>
<path d="M405.5,112.5 C407.2,110.6 412.2,108.8 415.5,108.8 C418.8,109.2 423.6,112.3 425.5,115 C426.8,117.7 426.8,122.5 426.8,125 C426.0,127.5 423.2,129.6 420.5,130 C417.8,130.0 413.0,129.2 410.5,127.5 C408.0,125.8 406.3,122.5 405.5,120 C405.5,117.5 405.5,114.4 405.5,112.5Z" fill="#9de8b5" stroke="#9de8b5" stroke-width="9" stroke-linejoin="round"/>
<path d="M330.5,197.5 C331.5,196.0 335.9,195.0 338,195 C340.1,195.4 343.0,198.1 343,200 C343.0,201.9 339.9,205.6 338,206.2 C336.1,206.2 333.1,205.2 331.8,203.8 C330.6,202.4 330.5,199.0 330.5,197.5Z" fill="#9de8b5" stroke="#9de8b5" stroke-width="9" stroke-linejoin="round"/>
<path d="M424.2,175 C425.4,173.3 430.5,172.5 433,172.5 C435.5,173.3 439.2,177.9 439.2,180 C439.2,182.1 435.3,184.6 433,185 C430.7,185.0 427.0,184.2 425.5,182.5 C424.2,180.8 424.2,176.7 424.2,175Z" fill="#9de8b5" stroke="#9de8b5" stroke-width="9" stroke-linejoin="round"/>
<path d="M499.2,140 C500.0,137.7 502.8,135.4 505.5,135 C508.2,135.0 513.8,135.0 515.5,137.5 C515.5,140.8 515.5,152.1 515.5,155 C514.0,155.0 509.3,155.0 506.8,155 C504.3,154.0 501.8,151.3 500.5,148.8 C499.2,146.3 499.2,142.3 499.2,140Z" fill="#9de8b5" stroke="#9de8b5" stroke-width="9" stroke-linejoin="round"/>
<path d="M498.5,137.5 C500.4,135.0 505.6,132.5 508.5,132.5 C511.4,132.9 515.2,136.7 516,140 C516.0,143.3 515.6,150.0 513.5,152.5 C511.4,155.0 506.2,155.0 503.5,155 C500.8,154.2 498.0,150.4 497.2,147.5 C497.2,144.6 497.2,140.0 498.5,137.5Z" fill="#9de8b5" stroke="#9de8b5" stroke-width="9" stroke-linejoin="round"/>
<path d="M533.5,110 C535.2,107.5 541.4,105.4 546,105 C550.6,105.0 558.9,105.4 561,107.5 C561.0,109.6 561.0,115.0 558.5,117.5 C556.0,120.0 549.8,122.1 546,122.5 C542.2,122.5 538.1,122.1 536,120 C533.9,117.9 533.5,112.5 533.5,110Z" fill="#9de8b5" stroke="#9de8b5" stroke-width="9" stroke-linejoin="round"/>
<path d="M100,410.2 C101.5,409.6 105.8,409.5 110,409.5 C114.2,409.9 120.0,411.1 125,412.5 C130.0,413.9 136.5,416.4 140,418 C143.5,419.6 146.0,421.1 146.2,422 C146.2,422.9 144.7,423.5 141.2,423.5 C137.7,423.1 130.2,421.0 125,419.5 C119.8,418.0 114.0,415.6 110,414.5 C106.0,413.4 102.9,413.7 101.2,413 C100.0,412.3 100.0,410.8 100,410.2Z" fill="#9de8b5" stroke="#9de8b5" stroke-width="9" stroke-linejoin="round"/>
<path d="M137.5,442.5 C139.6,442.5 146.2,443.3 150,444.2 C153.8,445.1 159.2,447.0 160.5,447.8 C160.5,448.6 160.5,449.2 157.5,449.2 C154.5,449.1 145.8,447.9 142.5,447.2 C139.2,446.5 138.3,445.6 137.5,444.8 C137.5,444.0 137.5,442.6 137.5,442.5Z" fill="#9de8b5" stroke="#9de8b5" stroke-width="9" stroke-linejoin="round"/>
<path d="M47.5,318.5 C50.4,318.5 59.6,318.5 65,318.5 C70.4,319.3 75.0,322.4 80,323.5 C85.0,324.6 90.0,324.8 95,324.8 C100.0,324.6 105.0,323.0 110,322.2 C115.0,321.4 120.0,320.6 125,319.8 C130.0,319.0 135.8,318.2 140,317.2 C144.2,316.1 147.1,315.4 150,313.5 C152.9,311.6 155.0,308.1 157.5,306 C160.0,303.9 163.3,301.0 165,301 C166.7,302.2 166.7,309.3 167.5,313.5 C168.3,317.7 167.9,323.1 170,326 C172.1,328.9 176.7,329.8 180,331 C183.3,332.2 186.7,332.7 190,333.5 C193.3,334.3 197.5,333.5 200,336 C202.5,338.5 205.0,344.8 205,348.5 C205.0,352.2 202.5,356.0 200,358.5 C197.5,361.0 193.3,362.2 190,363.5 C186.7,364.8 183.8,366.0 180,366 C176.2,366.0 171.7,365.2 167.5,363.5 C163.3,361.8 158.8,358.1 155,356 C151.2,353.9 148.8,352.2 145,351 C141.2,349.8 136.7,349.3 132.5,348.5 C128.3,347.7 124.6,346.8 120,346 C115.4,345.2 110.0,344.1 105,343.5 C100.0,342.9 95.0,342.2 90,342.2 C85.0,342.2 80.0,343.1 75,343.5 C70.0,343.9 64.6,344.4 60,344.8 C55.4,345.2 49.6,346.0 47.5,346 C47.5,341.6 47.5,323.1 47.5,318.5Z" fill="#9de8b5" stroke="#9de8b5" stroke-width="9" stroke-linejoin="round"/>
<path d="M309.2,392.2 C309.7,391.5 312.5,391.5 313.5,391.5 C314.5,392.1 315.0,394.9 315,396 C314.5,397.1 311.5,398.0 310.5,398 C309.5,397.4 309.2,393.3 309.2,392.2Z" fill="#9de8b5" stroke="#9de8b5" stroke-width="9" stroke-linejoin="round"/>
<path d="M401.8,273.5 C406.0,273.5 426.1,273.5 430.5,273.5 C430.5,275.6 430.1,283.3 428,286 C425.9,288.7 421.8,289.6 418,289.8 C414.2,289.8 408.2,289.8 405.5,287.2 C402.8,284.5 401.8,275.8 401.8,273.5Z" fill="#9de8b5" stroke="#9de8b5" stroke-width="9" stroke-linejoin="round"/>
<path d="M384.4,484.4 C384.9,484.4 387.4,484.4 388.1,484.4 C388.8,485.0 388.8,487.4 388.8,488.1 C388.3,488.8 385.7,488.8 385,488.8 C384.4,488.2 384.4,485.1 384.4,484.4Z" fill="#9de8b5" stroke="#9de8b5" stroke-width="9" stroke-linejoin="round"/>
<path d="M59.9,474.1 C61.4,472.3 68.7,472.3 72.6,472.3 C76.5,472.9 81.9,474.4 83.4,477.7 C83.4,481.0 83.4,489.2 81.6,492.2 C79.8,495.2 75.6,495.8 72.6,495.8 C69.6,495.5 65.6,494.0 63.5,490.4 C61.4,486.8 59.9,477.1 59.9,474.1Z" fill="#9de8b5" stroke="#9de8b5" stroke-width="9" stroke-linejoin="round"/>
<path d="M112.5,153.8 C113.5,153.8 119.2,157.5 122.5,157.5 C125.8,157.5 129.2,155.5 132.5,153.8 C135.8,152.1 138.8,149.0 142.5,147.5 C146.2,146.0 151.7,146.7 155,145 C158.3,143.3 160.0,139.2 162.5,137.5 C165.0,135.8 166.7,135.0 170,135 C173.3,135.0 178.3,136.5 182.5,137.5 C186.7,138.5 191.2,140.1 195,141.2 C198.8,142.2 201.7,143.8 205,143.8 C208.3,143.8 211.7,141.4 215,141.2 C218.3,141.2 220.8,141.9 225,142.5 C229.2,143.1 235.8,144.2 240,145 C244.2,145.8 246.2,147.1 250,147.5 C253.8,147.5 258.3,147.5 262.5,147.5 C266.7,147.1 270.8,145.6 275,145 C279.2,144.4 281.7,144.0 287.5,143.8 C293.3,143.8 306.2,143.8 310,143.8 C310.0,147.5 310.0,162.5 310,166.2 C307.5,166.2 299.6,166.2 295,166.2 C290.4,165.8 286.7,164.4 282.5,163.8 C278.3,163.2 274.2,163.1 270,162.5 C265.8,161.9 261.2,160.8 257.5,160 C253.8,159.2 250.8,158.1 247.5,157.5 C244.2,156.9 241.2,156.6 237.5,156.2 C233.8,155.8 228.8,155.0 225,155 C221.2,155.0 218.3,155.4 215,156.2 C211.7,157.0 207.9,158.1 205,160 C202.1,161.9 199.6,165.0 197.5,167.5 C195.4,170.0 194.2,172.5 192.5,175 C190.8,177.5 188.8,179.6 187.5,182.5 C186.2,185.4 185.2,189.2 185,192.5 C185.0,195.8 185.4,199.6 186.2,202.5 C187.0,205.4 190.0,208.6 190,210 C189.8,211.2 187.5,211.2 185,211.2 C182.5,210.4 178.3,206.9 175,205 C171.7,203.1 168.3,201.9 165,200 C161.7,198.1 158.3,195.9 155,193.8 C151.7,191.7 147.9,189.4 145,187.5 C142.1,185.6 140.0,184.4 137.5,182.5 C135.0,180.6 132.5,178.7 130,176.2 C127.5,173.7 124.8,170.0 122.5,167.5 C120.2,165.0 117.9,163.5 116.2,161.2 C114.5,158.9 112.5,154.4 112.5,153.8Z" fill="#9de8b5" stroke="#9de8b5" stroke-width="9" stroke-linejoin="round"/>
<path d="M220,245 C222.1,242.5 226.7,243.3 230,242.5 C233.3,241.7 236.7,241.1 240,240 C243.3,238.9 246.7,236.2 250,236.2 C253.3,236.2 256.7,238.7 260,240 C263.3,241.3 267.1,242.6 270,243.8 C272.9,245.1 275.8,244.8 277.5,247.5 C279.2,250.2 279.8,255.4 280,260 C280.0,264.6 278.8,271.2 278.8,275 C279.6,278.8 282.3,281.2 285,282.5 C287.7,282.5 290.6,282.5 295,282.5 C299.4,282.9 308.1,283.8 311.2,285 C313.8,286.2 313.6,287.9 313.8,290 C313.8,292.1 313.6,295.0 312.5,297.5 C311.4,300.0 309.2,302.5 307.5,305 C305.8,307.5 303.8,309.6 302.5,312.5 C301.2,315.4 302.5,320.8 300,322.5 C277.1,322.5 187.1,322.5 165,322.5 C165.0,320.4 166.7,314.2 167.5,310 C168.3,305.8 169.2,301.7 170,297.5 C170.8,293.3 170.8,288.3 172.5,285 C174.2,281.7 177.1,279.2 180,277.5 C182.9,275.8 186.2,275.8 190,275 C193.8,274.2 198.8,273.8 202.5,272.5 C206.2,271.2 210.0,270.0 212.5,267.5 C215.0,265.0 216.2,261.2 217.5,257.5 C218.8,253.8 217.9,247.5 220,245Z" fill="#9de8b5" stroke="#9de8b5" stroke-width="9" stroke-linejoin="round"/>
<path d="M255.5,142.5 C258.4,140.0 267.2,140.8 273,140 C278.8,139.2 284.7,137.9 290.5,137.5 C296.3,137.5 302.2,137.5 308,137.5 C313.8,137.5 320.1,137.5 325.5,137.5 C330.9,137.1 335.1,135.8 340.5,135 C345.9,134.2 352.6,133.3 358,132.5 C363.4,131.7 368.0,130.8 373,130 C378.0,129.2 383.8,128.3 388,127.5 C392.2,126.7 394.7,125.0 398,125 C401.3,125.8 405.5,129.6 408,132.5 C410.5,135.4 412.6,139.2 413,142.5 C413.0,145.8 412.2,149.6 410.5,152.5 C408.8,155.4 405.9,157.9 403,160 C400.1,162.1 396.3,163.8 393,165 C389.7,166.2 385.9,166.7 383,167.5 C380.1,168.3 378.8,169.2 375.5,170 C372.2,170.8 366.8,171.7 363,172.5 C359.2,173.3 356.3,174.6 353,175 C349.7,175.0 346.3,175.0 343,175 C339.7,174.6 336.3,173.3 333,172.5 C329.7,171.7 326.3,170.8 323,170 C319.7,169.2 316.8,168.3 313,167.5 C309.2,166.7 304.7,165.2 300.5,165 C296.3,165.0 292.6,165.8 288,166.2 C283.4,166.6 278.4,167.3 273,167.5 C267.6,167.5 258.4,167.5 255.5,167.5 C255.5,163.3 255.5,147.1 255.5,142.5Z" fill="#9de8b5" stroke="#9de8b5" stroke-width="9" stroke-linejoin="round"/>
<path d="M375.5,207.5 C378.4,204.6 384.2,203.8 388,202.5 C391.8,201.2 394.7,200.0 398,200 C401.3,200.4 404.7,203.3 408,205 C411.3,206.7 415.5,207.9 418,210 C420.5,212.1 420.5,217.1 423,217.5 C425.5,217.5 429.7,214.2 433,212.5 C436.3,210.8 438.8,208.8 443,207.5 C447.2,206.2 453.4,205.4 458,205 C462.6,205.0 468.0,205.0 470.5,205 C473.0,205.8 473.0,208.3 473,210 C471.8,211.7 467.2,213.8 463,215 C458.8,216.2 452.2,216.7 448,217.5 C443.8,218.3 441.3,218.8 438,220 C434.7,221.2 430.9,222.5 428,225 C425.1,227.5 421.8,230.8 420.5,235 C420.5,239.2 420.5,245.8 420.5,250 C421.8,254.2 426.3,256.2 428,260 C429.7,263.8 430.5,270.0 430.5,272.5 C429.2,275.0 424.2,275.0 420.5,275 C416.8,275.0 411.8,273.8 408,272.5 C404.2,271.2 401.3,269.2 398,267.5 C394.7,265.8 390.9,264.6 388,262.5 C385.1,260.4 382.6,257.9 380.5,255 C378.4,252.1 376.8,248.8 375.5,245 C374.2,241.2 373.8,236.7 373,232.5 C372.2,228.3 370.5,224.2 370.5,220 C370.9,215.8 372.6,210.4 375.5,207.5Z" fill="#9de8b5" stroke="#9de8b5" stroke-width="9" stroke-linejoin="round"/>
<path d="M354.2,197.5 C355.2,195.0 360.5,195.0 363,195 C365.5,195.4 368.4,197.5 369.2,200 C369.2,202.5 369.0,207.3 368,210 C367.0,212.7 364.9,215.6 363,216.2 C361.1,216.2 358.3,216.2 356.8,213.8 C355.3,210.7 354.2,200.6 354.2,197.5Z" fill="#9de8b5" stroke="#9de8b5" stroke-width="9" stroke-linejoin="round"/>
<path d="M378,187.5 C378.8,185.4 382.8,182.9 385.5,182.5 C388.2,182.5 392.5,183.3 394.2,185 C395.5,186.7 395.5,190.6 395.5,192.5 C394.5,194.4 390.5,195.8 388,196.2 C385.5,196.2 382.2,196.2 380.5,195 C378.8,193.6 378.0,189.6 378,187.5Z" fill="#9de8b5" stroke="#9de8b5" stroke-width="9" stroke-linejoin="round"/>
<path d="M490.5,185 C492.4,181.7 497.2,179.2 500.5,177.5 C503.8,175.8 507.6,175.4 510.5,175 C513.4,175.0 516.8,175.0 518,175 C518.0,182.5 518.0,212.1 518,220 C516.3,222.5 511.3,222.5 508,222.5 C504.7,222.5 500.7,222.1 498,220 C495.3,217.9 493.3,213.8 491.8,210 C490.3,206.2 489.4,201.7 489.2,197.5 C489.2,193.3 489.2,188.3 490.5,185Z" fill="#9de8b5" stroke="#9de8b5" stroke-width="9" stroke-linejoin="round"/>
<path d="M255.5,250 C257.6,247.5 263.8,247.5 268,247.5 C272.2,247.9 276.8,250.0 280.5,252.5 C284.2,255.0 288.0,258.8 290.5,262.5 C293.0,266.2 294.2,270.4 295.5,275 C296.8,279.6 297.6,285.0 298,290 C298.0,295.0 298.0,299.6 298,305 C297.6,310.4 298.0,319.6 295.5,322.5 C288.4,322.5 262.2,322.5 255.5,322.5 C255.5,310.4 255.5,262.5 255.5,250Z" fill="#9de8b5" stroke="#9de8b5" stroke-width="9" stroke-linejoin="round"/>
<path d="M493.5,187.5 C495.2,184.6 498.1,182.1 501,180 C503.9,177.9 507.2,177.5 511,175 C514.8,172.5 520.2,167.9 523.5,165 C526.8,162.1 528.5,160.0 531,157.5 C533.5,155.0 536.0,152.5 538.5,150 C541.0,147.5 543.5,145.0 546,142.5 C548.5,140.0 551.0,137.5 553.5,135 C556.0,132.5 558.5,130.0 561,127.5 C563.5,125.0 566.4,122.5 568.5,120 C570.6,117.5 571.4,115.0 573.5,112.5 C575.6,110.0 578.1,107.5 581,105 C583.9,102.5 581.0,98.8 591,97.5 C601.8,97.5 637.7,97.5 646,97.5 C646.0,99.6 643.5,106.2 641,110 C638.5,113.8 634.3,117.5 631,120 C627.7,122.5 624.3,123.8 621,125 C617.7,126.2 613.9,125.8 611,127.5 C608.1,129.2 605.2,131.7 603.5,135 C601.8,138.3 601.4,143.3 601,147.5 C601.0,151.7 601.0,155.8 601,160 C600.2,164.2 598.1,168.8 596,172.5 C593.9,176.2 591.0,178.8 588.5,182.5 C586.0,186.2 583.1,191.2 581,195 C578.9,198.8 577.7,201.7 576,205 C574.3,208.3 572.7,211.7 571,215 C569.3,218.3 567.7,222.1 566,225 C564.3,227.9 563.1,230.0 561,232.5 C558.9,235.0 556.4,237.9 553.5,240 C550.6,242.1 547.2,243.8 543.5,245 C539.8,246.2 534.8,247.5 531,247.5 C527.2,247.5 524.3,245.8 521,245 C517.7,244.2 514.3,242.9 511,242.5 C507.7,242.5 503.5,242.5 501,242.5 C498.5,241.2 496.0,237.5 496,235 C496.4,232.5 500.2,229.6 503.5,227.5 C506.8,225.4 511.8,224.2 516,222.5 C520.2,220.8 527.7,219.2 528.5,217.5 C528.5,215.8 524.3,212.9 521,212.5 C517.7,212.5 512.7,214.2 508.5,215 C504.3,215.8 498.9,217.5 496,217.5 C493.1,216.2 491.8,210.8 491,207.5 C491.0,204.2 491.0,200.8 491,197.5 C491.4,194.2 491.8,190.4 493.5,187.5Z" fill="#9de8b5" stroke="#9de8b5" stroke-width="9" stroke-linejoin="round"/>
<path d="M463.5,240 C465.6,237.5 471.4,237.5 476,237.5 C480.6,237.9 486.4,240.4 491,242.5 C495.6,244.6 500.2,247.1 503.5,250 C506.8,252.9 509.3,255.8 511,260 C512.7,264.2 513.5,270.0 513.5,275 C513.1,280.0 511.0,285.8 508.5,290 C506.0,294.2 502.2,296.7 498.5,300 C494.8,303.3 490.2,306.7 486,310 C481.8,313.3 477.2,317.9 473.5,320 C469.8,322.1 465.2,322.5 463.5,322.5 C463.5,309.2 463.5,254.2 463.5,240Z" fill="#9de8b5" stroke="#9de8b5" stroke-width="9" stroke-linejoin="round"/>
<path d="M175,273.5 C196.4,273.5 277.1,273.5 297.5,273.5 C297.5,280.2 297.5,302.7 297.5,313.5 C296.9,324.3 295.1,331.4 293.8,338.5 C292.6,345.6 291.3,350.6 290,356 C288.7,361.4 286.6,365.6 286.2,371 C286.2,376.4 287.5,382.7 287.5,388.5 C287.3,394.3 286.7,403.9 285,406 C283.3,406.0 280.0,403.9 277.5,401 C275.0,398.1 272.9,392.7 270,388.5 C267.1,384.3 264.2,379.3 260,376 C255.8,372.7 250.0,369.8 245,368.5 C240.0,368.5 235.0,368.5 230,368.5 C225.0,368.5 219.2,368.5 215,368.5 C210.8,368.1 208.3,366.8 205,366 C201.7,365.2 197.5,365.2 195,363.5 C192.5,361.8 190.8,359.3 190,356 C190.0,352.7 190.0,346.4 190,343.5 C188.8,340.6 185.8,340.2 182.5,338.5 C179.2,336.8 172.5,336.4 170,333.5 C167.5,330.6 168.3,325.6 167.5,321 C166.7,316.4 165.3,311.4 165,306 C165.0,300.6 165.0,292.9 165.5,288.5 C166.1,284.1 167.2,282.3 168.8,279.8 C170.4,277.3 168.8,274.6 175,273.5Z" fill="#9de8b5" stroke="#9de8b5" stroke-width="9" stroke-linejoin="round"/>
<path d="M92.5,326 C94.2,324.8 103.8,324.8 107.5,324.8 C111.2,325.2 114.6,326.6 115,328.5 C115.0,330.4 112.9,334.8 110,336 C107.1,336.0 100.4,336.0 97.5,336 C94.6,334.3 92.5,327.9 92.5,326Z" fill="#9de8b5" stroke="#9de8b5" stroke-width="9" stroke-linejoin="round"/>
<path d="M125,321 C127.9,318.9 135.0,319.3 140,318.5 C145.0,317.7 150.4,316.0 155,316 C159.6,316.0 164.2,316.8 167.5,318.5 C170.8,320.2 172.9,323.1 175,326 C177.1,328.9 177.5,333.5 180,336 C182.5,338.5 188.3,336.8 190,341 C190.0,345.2 190.0,357.2 190,361 C188.3,363.5 183.8,363.5 180,363.5 C176.2,363.5 171.7,363.1 167.5,361 C163.3,358.9 159.2,353.9 155,351 C150.8,348.1 146.7,345.6 142.5,343.5 C138.3,341.4 133.3,340.6 130,338.5 C126.7,336.4 123.3,333.9 122.5,331 C122.5,328.1 122.5,323.1 125,321Z" fill="#9de8b5" stroke="#9de8b5" stroke-width="9" stroke-linejoin="round"/>
<path d="M255.5,273.5 C262.6,273.5 290.5,273.5 298,273.5 C300.5,275.6 300.5,281.4 300.5,286 C300.5,290.6 298.8,296.0 298,301 C297.2,306.0 295.9,311.0 295.5,316 C295.5,321.0 295.5,326.0 295.5,331 C295.1,336.0 294.2,341.4 293,346 C291.8,350.6 289.2,354.3 288,358.5 C286.8,362.7 285.5,367.2 285.5,371 C285.5,374.8 287.2,377.7 288,381 C288.8,384.3 290.5,387.7 290.5,391 C290.5,394.3 289.2,398.5 288,401 C286.8,403.5 284.7,406.0 283,406 C281.3,405.6 279.7,401.8 278,398.5 C276.3,395.2 274.7,389.8 273,386 C271.3,382.2 270.9,378.1 268,376 C265.1,373.9 257.6,376.0 255.5,373.5 C255.5,356.4 255.5,290.2 255.5,273.5Z" fill="#9de8b5" stroke="#9de8b5" stroke-width="9" stroke-linejoin="round"/>
<path d="M325.5,438.5 C327.0,435.8 330.1,433.0 333,432.2 C335.9,432.2 340.5,432.2 343,433.5 C345.5,435.0 346.3,440.2 348,441 C349.7,441.0 350.9,438.5 353,438.5 C355.1,438.9 358.8,441.0 360.5,443.5 C362.2,446.0 363.0,450.6 363,453.5 C363.0,456.4 362.2,459.8 360.5,461 C358.8,461.0 355.5,461.0 353,461 C350.5,460.2 348.0,456.4 345.5,456 C343.0,456.0 340.9,458.5 338,458.5 C335.1,458.3 330.3,456.5 328,454.8 C325.7,453.1 324.6,451.2 324.2,448.5 C324.2,445.8 324.2,441.2 325.5,438.5Z" fill="#9de8b5" stroke="#9de8b5" stroke-width="9" stroke-linejoin="round"/>
<path d="M350.5,473.5 C351.8,471.8 355.1,471.0 358,471 C360.9,471.4 365.9,473.5 368,476 C370.1,478.5 370.5,483.5 370.5,486 C370.1,488.5 368.0,490.6 365.5,491 C363.0,491.0 358.0,490.2 355.5,488.5 C353.0,486.8 351.3,483.5 350.5,481 C350.5,478.5 350.5,475.2 350.5,473.5Z" fill="#9de8b5" stroke="#9de8b5" stroke-width="9" stroke-linejoin="round"/>
<path d="M463.5,245 C466.4,240.0 476.0,240.0 481,240 C486.0,240.4 490.6,244.2 493.5,247.5 C496.4,250.8 496.8,256.2 498.5,260 C500.2,263.8 503.1,266.2 503.5,270 C503.5,273.8 502.7,278.3 501,282.5 C499.3,286.7 496.4,290.8 493.5,295 C490.6,299.2 486.8,303.8 483.5,307.5 C480.2,311.2 476.8,315.4 473.5,317.5 C470.2,319.6 465.2,320.0 463.5,320 C463.5,307.9 463.5,258.3 463.5,245Z" fill="#9de8b5" stroke="#9de8b5" stroke-width="9" stroke-linejoin="round"/>
<path d="M325,442.5 C325.6,439.8 327.9,437.6 330,436.2 C332.1,434.8 335.2,433.8 337.5,433.8 C339.8,434.0 342.6,435.6 343.8,437.5 C345.0,439.4 345.0,442.1 345,445 C344.8,447.9 343.8,452.7 342.5,455 C341.2,457.3 339.4,458.4 337.5,458.8 C335.6,458.8 333.1,458.6 331.2,457.5 C329.3,456.4 327.2,455.0 326.2,452.5 C325.2,450.0 325.0,445.2 325,442.5Z" fill="#9de8b5" stroke="#9de8b5" stroke-width="9" stroke-linejoin="round"/>
<path d="M347.5,440 C348.3,438.8 351.7,438.8 353.8,438.8 C355.9,439.4 358.6,441.5 360,443.8 C361.4,446.1 362.3,449.6 362.5,452.5 C362.5,455.4 362.0,459.3 361.2,461.2 C360.4,463.1 358.9,463.8 357.5,463.8 C356.1,463.4 353.9,460.9 352.5,458.8 C351.1,456.7 349.6,454.3 348.8,451.2 C348.0,448.1 347.5,442.1 347.5,440Z" fill="#9de8b5" stroke="#9de8b5" stroke-width="9" stroke-linejoin="round"/>
<path d="M351.2,472.5 C352.0,471.4 354.1,471.2 356.2,471.2 C358.3,471.8 361.5,474.7 363.8,476.2 C366.1,477.7 368.3,478.5 370,480 C371.7,481.5 373.4,483.3 373.8,485 C373.8,486.7 373.6,489.0 372.5,490 C371.4,491.0 369.4,491.2 367.5,491.2 C365.6,490.8 363.3,488.9 361.2,487.5 C359.1,486.1 356.7,484.2 355,482.5 C353.3,480.8 351.8,479.2 351.2,477.5 C351.2,475.8 351.2,473.6 351.2,472.5Z" fill="#9de8b5" stroke="#9de8b5" stroke-width="9" stroke-linejoin="round"/>
<path d="M422,245 C425.0,241.2 433.7,234.2 440,232 C446.3,232.0 453.3,232.0 460,232 C466.7,232.7 474.2,234.3 480,236 C485.8,237.7 490.8,240.0 495,242 C499.2,244.0 502.3,245.3 505,248 C507.7,250.7 509.9,254.0 511,258 C511.5,262.0 511.5,267.8 511.5,272 C511.0,276.2 509.4,279.8 508,283 C506.6,286.2 504.8,288.5 503,291 C501.2,293.5 499.2,295.7 497,298 C494.8,300.3 492.2,302.8 490,305 C487.8,307.2 486.0,309.0 484,311 C482.0,313.0 480.0,315.2 478,317 C476.0,318.8 474.0,320.6 472,322 C470.0,323.4 468.0,324.8 466,325.5 C464.0,326.0 461.8,326.0 460,326 C458.2,325.4 456.5,323.8 455,322 C453.5,320.2 452.3,317.2 451,315 C449.7,312.8 448.7,310.7 447,309 C445.3,307.3 443.0,305.8 441,305 C439.0,304.2 437.0,304.0 435,304 C433.0,304.0 431.2,304.2 429,305 C426.8,305.8 424.3,307.5 422,308.5 C419.7,309.5 417.5,310.3 415,311 C412.5,311.7 409.2,312.5 407,312.5 C404.8,312.5 402.3,312.2 402,311 C402.0,309.8 403.3,307.0 405,305 C406.7,303.0 409.7,301.0 412,299 C414.3,297.0 416.8,295.0 419,293 C421.2,291.0 423.7,289.5 425,287 C426.3,284.5 427.0,281.5 427,278 C426.8,274.5 424.8,269.8 424,266 C423.2,262.2 422.3,258.5 422,255 C422.0,251.5 422.0,248.8 422,245Z" fill="#9de8b5" stroke="#9de8b5" stroke-width="9" stroke-linejoin="round"/>
<path d="M45.4,374.6 C49.3,374.6 64.8,374.6 69,374.6 C70.8,377.3 70.8,385.2 70.8,390.9 C70.8,396.6 69.0,404.8 69,409 C70.5,413.2 76.5,413.8 79.8,416.2 C83.1,418.6 86.8,419.8 88.9,423.4 C91.0,427.0 91.9,433.1 92.5,437.9 C92.5,442.7 92.5,448.2 92.5,452.4 C91.9,456.6 90.1,459.7 88.9,463.3 C87.7,466.9 86.1,470.5 85.2,474.1 C84.3,477.7 84.6,482.0 83.4,485 C82.2,488.0 80.4,490.7 78,492.2 C75.6,493.7 71.7,494.0 69,494 C66.3,493.4 62.9,491.3 61.7,488.6 C61.7,485.9 61.7,480.7 61.7,477.7 C60.8,474.7 59.0,472.9 56.3,470.5 C53.6,468.1 47.2,470.5 45.4,463.3 C45.4,447.3 45.4,389.4 45.4,374.6Z" fill="#9de8b5" stroke="#9de8b5" stroke-width="9" stroke-linejoin="round"/>
<path d="M225,200 C226.7,197.3 231.2,196.2 235,196.2 C238.8,196.2 245.0,197.7 247.5,200 C250.0,202.3 250.0,206.7 250,210 C249.6,213.3 246.0,215.8 245,220 C244.0,224.2 245.0,231.7 243.8,235 C242.6,238.3 239.8,240.0 237.5,240 C235.2,240.0 231.9,237.5 230,235 C228.1,232.5 227.0,228.8 226.2,225 C225.4,221.2 225.2,216.7 225,212.5 C225.0,208.3 225.0,202.7 225,200Z" fill="#55b59e" stroke="#55b59e" stroke-width="5" stroke-linejoin="round"/>
<path d="M90,136.2 C90.8,135.0 94.5,135.0 96.2,135 C97.9,135.6 100.0,138.3 100,140 C100.0,141.7 97.7,144.4 96.2,145 C94.7,145.0 92.2,145.0 91.2,143.8 C90.2,142.3 90.0,137.7 90,136.2Z" fill="#55b59e" stroke="#55b59e" stroke-width="5" stroke-linejoin="round"/>
<path d="M47.5,315 C52.1,315.0 64.2,315.5 75,315.5 C85.8,315.4 102.1,314.5 112.5,314.5 C122.9,314.7 129.2,316.4 137.5,316.5 C145.8,316.5 157.9,315.0 162.5,315 C165.0,316.0 165.0,321.2 165,322.5 C145.8,322.5 67.1,322.5 47.5,322.5 C47.5,321.2 47.5,316.2 47.5,315Z" fill="#55b59e" stroke="#55b59e" stroke-width="5" stroke-linejoin="round"/>
<path d="M155,135 C156.7,132.7 162.5,131.2 165,131.2 C167.5,131.6 169.6,134.4 170,137.5 C170.0,140.6 169.2,147.5 167.5,150 C165.8,152.5 162.1,152.5 160,152.5 C157.9,151.7 155.8,147.9 155,145 C155.0,142.1 155.0,137.3 155,135Z" fill="#55b59e" stroke="#55b59e" stroke-width="5" stroke-linejoin="round"/>
<path d="M405.5,112.5 C407.2,110.6 412.2,108.8 415.5,108.8 C418.8,109.2 423.6,112.3 425.5,115 C426.8,117.7 426.8,122.5 426.8,125 C426.0,127.5 423.2,129.6 420.5,130 C417.8,130.0 413.0,129.2 410.5,127.5 C408.0,125.8 406.3,122.5 405.5,120 C405.5,117.5 405.5,114.4 405.5,112.5Z" fill="#55b59e" stroke="#55b59e" stroke-width="5" stroke-linejoin="round"/>
<path d="M330.5,197.5 C331.5,196.0 335.9,195.0 338,195 C340.1,195.4 343.0,198.1 343,200 C343.0,201.9 339.9,205.6 338,206.2 C336.1,206.2 333.1,205.2 331.8,203.8 C330.6,202.4 330.5,199.0 330.5,197.5Z" fill="#55b59e" stroke="#55b59e" stroke-width="5" stroke-linejoin="round"/>
<path d="M424.2,175 C425.4,173.3 430.5,172.5 433,172.5 C435.5,173.3 439.2,177.9 439.2,180 C439.2,182.1 435.3,184.6 433,185 C430.7,185.0 427.0,184.2 425.5,182.5 C424.2,180.8 424.2,176.7 424.2,175Z" fill="#55b59e" stroke="#55b59e" stroke-width="5" stroke-linejoin="round"/>
<path d="M499.2,140 C500.0,137.7 502.8,135.4 505.5,135 C508.2,135.0 513.8,135.0 515.5,137.5 C515.5,140.8 515.5,152.1 515.5,155 C514.0,155.0 509.3,155.0 506.8,155 C504.3,154.0 501.8,151.3 500.5,148.8 C499.2,146.3 499.2,142.3 499.2,140Z" fill="#55b59e" stroke="#55b59e" stroke-width="5" stroke-linejoin="round"/>
<path d="M498.5,137.5 C500.4,135.0 505.6,132.5 508.5,132.5 C511.4,132.9 515.2,136.7 516,140 C516.0,143.3 515.6,150.0 513.5,152.5 C511.4,155.0 506.2,155.0 503.5,155 C500.8,154.2 498.0,150.4 497.2,147.5 C497.2,144.6 497.2,140.0 498.5,137.5Z" fill="#55b59e" stroke="#55b59e" stroke-width="5" stroke-linejoin="round"/>
<path d="M533.5,110 C535.2,107.5 541.4,105.4 546,105 C550.6,105.0 558.9,105.4 561,107.5 C561.0,109.6 561.0,115.0 558.5,117.5 C556.0,120.0 549.8,122.1 546,122.5 C542.2,122.5 538.1,122.1 536,120 C533.9,117.9 533.5,112.5 533.5,110Z" fill="#55b59e" stroke="#55b59e" stroke-width="5" stroke-linejoin="round"/>
<path d="M100,410.2 C101.5,409.6 105.8,409.5 110,409.5 C114.2,409.9 120.0,411.1 125,412.5 C130.0,413.9 136.5,416.4 140,418 C143.5,419.6 146.0,421.1 146.2,422 C146.2,422.9 144.7,423.5 141.2,423.5 C137.7,423.1 130.2,421.0 125,419.5 C119.8,418.0 114.0,415.6 110,414.5 C106.0,413.4 102.9,413.7 101.2,413 C100.0,412.3 100.0,410.8 100,410.2Z" fill="#55b59e" stroke="#55b59e" stroke-width="5" stroke-linejoin="round"/>
<path d="M137.5,442.5 C139.6,442.5 146.2,443.3 150,444.2 C153.8,445.1 159.2,447.0 160.5,447.8 C160.5,448.6 160.5,449.2 157.5,449.2 C154.5,449.1 145.8,447.9 142.5,447.2 C139.2,446.5 138.3,445.6 137.5,444.8 C137.5,444.0 137.5,442.6 137.5,442.5Z" fill="#55b59e" stroke="#55b59e" stroke-width="5" stroke-linejoin="round"/>
<path d="M47.5,318.5 C50.4,318.5 59.6,318.5 65,318.5 C70.4,319.3 75.0,322.4 80,323.5 C85.0,324.6 90.0,324.8 95,324.8 C100.0,324.6 105.0,323.0 110,322.2 C115.0,321.4 120.0,320.6 125,319.8 C130.0,319.0 135.8,318.2 140,317.2 C144.2,316.1 147.1,315.4 150,313.5 C152.9,311.6 155.0,308.1 157.5,306 C160.0,303.9 163.3,301.0 165,301 C166.7,302.2 166.7,309.3 167.5,313.5 C168.3,317.7 167.9,323.1 170,326 C172.1,328.9 176.7,329.8 180,331 C183.3,332.2 186.7,332.7 190,333.5 C193.3,334.3 197.5,333.5 200,336 C202.5,338.5 205.0,344.8 205,348.5 C205.0,352.2 202.5,356.0 200,358.5 C197.5,361.0 193.3,362.2 190,363.5 C186.7,364.8 183.8,366.0 180,366 C176.2,366.0 171.7,365.2 167.5,363.5 C163.3,361.8 158.8,358.1 155,356 C151.2,353.9 148.8,352.2 145,351 C141.2,349.8 136.7,349.3 132.5,348.5 C128.3,347.7 124.6,346.8 120,346 C115.4,345.2 110.0,344.1 105,343.5 C100.0,342.9 95.0,342.2 90,342.2 C85.0,342.2 80.0,343.1 75,343.5 C70.0,343.9 64.6,344.4 60,344.8 C55.4,345.2 49.6,346.0 47.5,346 C47.5,341.6 47.5,323.1 47.5,318.5Z" fill="#55b59e" stroke="#55b59e" stroke-width="5" stroke-linejoin="round"/>
<path d="M309.2,392.2 C309.7,391.5 312.5,391.5 313.5,391.5 C314.5,392.1 315.0,394.9 315,396 C314.5,397.1 311.5,398.0 310.5,398 C309.5,397.4 309.2,393.3 309.2,392.2Z" fill="#55b59e" stroke="#55b59e" stroke-width="5" stroke-linejoin="round"/>
<path d="M401.8,273.5 C406.0,273.5 426.1,273.5 430.5,273.5 C430.5,275.6 430.1,283.3 428,286 C425.9,288.7 421.8,289.6 418,289.8 C414.2,289.8 408.2,289.8 405.5,287.2 C402.8,284.5 401.8,275.8 401.8,273.5Z" fill="#55b59e" stroke="#55b59e" stroke-width="5" stroke-linejoin="round"/>
<path d="M384.4,484.4 C384.9,484.4 387.4,484.4 388.1,484.4 C388.8,485.0 388.8,487.4 388.8,488.1 C388.3,488.8 385.7,488.8 385,488.8 C384.4,488.2 384.4,485.1 384.4,484.4Z" fill="#55b59e" stroke="#55b59e" stroke-width="5" stroke-linejoin="round"/>
<path d="M59.9,474.1 C61.4,472.3 68.7,472.3 72.6,472.3 C76.5,472.9 81.9,474.4 83.4,477.7 C83.4,481.0 83.4,489.2 81.6,492.2 C79.8,495.2 75.6,495.8 72.6,495.8 C69.6,495.5 65.6,494.0 63.5,490.4 C61.4,486.8 59.9,477.1 59.9,474.1Z" fill="#55b59e" stroke="#55b59e" stroke-width="5" stroke-linejoin="round"/>
<path d="M112.5,153.8 C113.5,153.8 119.2,157.5 122.5,157.5 C125.8,157.5 129.2,155.5 132.5,153.8 C135.8,152.1 138.8,149.0 142.5,147.5 C146.2,146.0 151.7,146.7 155,145 C158.3,143.3 160.0,139.2 162.5,137.5 C165.0,135.8 166.7,135.0 170,135 C173.3,135.0 178.3,136.5 182.5,137.5 C186.7,138.5 191.2,140.1 195,141.2 C198.8,142.2 201.7,143.8 205,143.8 C208.3,143.8 211.7,141.4 215,141.2 C218.3,141.2 220.8,141.9 225,142.5 C229.2,143.1 235.8,144.2 240,145 C244.2,145.8 246.2,147.1 250,147.5 C253.8,147.5 258.3,147.5 262.5,147.5 C266.7,147.1 270.8,145.6 275,145 C279.2,144.4 281.7,144.0 287.5,143.8 C293.3,143.8 306.2,143.8 310,143.8 C310.0,147.5 310.0,162.5 310,166.2 C307.5,166.2 299.6,166.2 295,166.2 C290.4,165.8 286.7,164.4 282.5,163.8 C278.3,163.2 274.2,163.1 270,162.5 C265.8,161.9 261.2,160.8 257.5,160 C253.8,159.2 250.8,158.1 247.5,157.5 C244.2,156.9 241.2,156.6 237.5,156.2 C233.8,155.8 228.8,155.0 225,155 C221.2,155.0 218.3,155.4 215,156.2 C211.7,157.0 207.9,158.1 205,160 C202.1,161.9 199.6,165.0 197.5,167.5 C195.4,170.0 194.2,172.5 192.5,175 C190.8,177.5 188.8,179.6 187.5,182.5 C186.2,185.4 185.2,189.2 185,192.5 C185.0,195.8 185.4,199.6 186.2,202.5 C187.0,205.4 190.0,208.6 190,210 C189.8,211.2 187.5,211.2 185,211.2 C182.5,210.4 178.3,206.9 175,205 C171.7,203.1 168.3,201.9 165,200 C161.7,198.1 158.3,195.9 155,193.8 C151.7,191.7 147.9,189.4 145,187.5 C142.1,185.6 140.0,184.4 137.5,182.5 C135.0,180.6 132.5,178.7 130,176.2 C127.5,173.7 124.8,170.0 122.5,167.5 C120.2,165.0 117.9,163.5 116.2,161.2 C114.5,158.9 112.5,154.4 112.5,153.8Z" fill="#55b59e" stroke="#55b59e" stroke-width="5" stroke-linejoin="round"/>
<path d="M220,245 C222.1,242.5 226.7,243.3 230,242.5 C233.3,241.7 236.7,241.1 240,240 C243.3,238.9 246.7,236.2 250,236.2 C253.3,236.2 256.7,238.7 260,240 C263.3,241.3 267.1,242.6 270,243.8 C272.9,245.1 275.8,244.8 277.5,247.5 C279.2,250.2 279.8,255.4 280,260 C280.0,264.6 278.8,271.2 278.8,275 C279.6,278.8 282.3,281.2 285,282.5 C287.7,282.5 290.6,282.5 295,282.5 C299.4,282.9 308.1,283.8 311.2,285 C313.8,286.2 313.6,287.9 313.8,290 C313.8,292.1 313.6,295.0 312.5,297.5 C311.4,300.0 309.2,302.5 307.5,305 C305.8,307.5 303.8,309.6 302.5,312.5 C301.2,315.4 302.5,320.8 300,322.5 C277.1,322.5 187.1,322.5 165,322.5 C165.0,320.4 166.7,314.2 167.5,310 C168.3,305.8 169.2,301.7 170,297.5 C170.8,293.3 170.8,288.3 172.5,285 C174.2,281.7 177.1,279.2 180,277.5 C182.9,275.8 186.2,275.8 190,275 C193.8,274.2 198.8,273.8 202.5,272.5 C206.2,271.2 210.0,270.0 212.5,267.5 C215.0,265.0 216.2,261.2 217.5,257.5 C218.8,253.8 217.9,247.5 220,245Z" fill="#55b59e" stroke="#55b59e" stroke-width="5" stroke-linejoin="round"/>
<path d="M255.5,142.5 C258.4,140.0 267.2,140.8 273,140 C278.8,139.2 284.7,137.9 290.5,137.5 C296.3,137.5 302.2,137.5 308,137.5 C313.8,137.5 320.1,137.5 325.5,137.5 C330.9,137.1 335.1,135.8 340.5,135 C345.9,134.2 352.6,133.3 358,132.5 C363.4,131.7 368.0,130.8 373,130 C378.0,129.2 383.8,128.3 388,127.5 C392.2,126.7 394.7,125.0 398,125 C401.3,125.8 405.5,129.6 408,132.5 C410.5,135.4 412.6,139.2 413,142.5 C413.0,145.8 412.2,149.6 410.5,152.5 C408.8,155.4 405.9,157.9 403,160 C400.1,162.1 396.3,163.8 393,165 C389.7,166.2 385.9,166.7 383,167.5 C380.1,168.3 378.8,169.2 375.5,170 C372.2,170.8 366.8,171.7 363,172.5 C359.2,173.3 356.3,174.6 353,175 C349.7,175.0 346.3,175.0 343,175 C339.7,174.6 336.3,173.3 333,172.5 C329.7,171.7 326.3,170.8 323,170 C319.7,169.2 316.8,168.3 313,167.5 C309.2,166.7 304.7,165.2 300.5,165 C296.3,165.0 292.6,165.8 288,166.2 C283.4,166.6 278.4,167.3 273,167.5 C267.6,167.5 258.4,167.5 255.5,167.5 C255.5,163.3 255.5,147.1 255.5,142.5Z" fill="#55b59e" stroke="#55b59e" stroke-width="5" stroke-linejoin="round"/>
<path d="M375.5,207.5 C378.4,204.6 384.2,203.8 388,202.5 C391.8,201.2 394.7,200.0 398,200 C401.3,200.4 404.7,203.3 408,205 C411.3,206.7 415.5,207.9 418,210 C420.5,212.1 420.5,217.1 423,217.5 C425.5,217.5 429.7,214.2 433,212.5 C436.3,210.8 438.8,208.8 443,207.5 C447.2,206.2 453.4,205.4 458,205 C462.6,205.0 468.0,205.0 470.5,205 C473.0,205.8 473.0,208.3 473,210 C471.8,211.7 467.2,213.8 463,215 C458.8,216.2 452.2,216.7 448,217.5 C443.8,218.3 441.3,218.8 438,220 C434.7,221.2 430.9,222.5 428,225 C425.1,227.5 421.8,230.8 420.5,235 C420.5,239.2 420.5,245.8 420.5,250 C421.8,254.2 426.3,256.2 428,260 C429.7,263.8 430.5,270.0 430.5,272.5 C429.2,275.0 424.2,275.0 420.5,275 C416.8,275.0 411.8,273.8 408,272.5 C404.2,271.2 401.3,269.2 398,267.5 C394.7,265.8 390.9,264.6 388,262.5 C385.1,260.4 382.6,257.9 380.5,255 C378.4,252.1 376.8,248.8 375.5,245 C374.2,241.2 373.8,236.7 373,232.5 C372.2,228.3 370.5,224.2 370.5,220 C370.9,215.8 372.6,210.4 375.5,207.5Z" fill="#55b59e" stroke="#55b59e" stroke-width="5" stroke-linejoin="round"/>
<path d="M354.2,197.5 C355.2,195.0 360.5,195.0 363,195 C365.5,195.4 368.4,197.5 369.2,200 C369.2,202.5 369.0,207.3 368,210 C367.0,212.7 364.9,215.6 363,216.2 C361.1,216.2 358.3,216.2 356.8,213.8 C355.3,210.7 354.2,200.6 354.2,197.5Z" fill="#55b59e" stroke="#55b59e" stroke-width="5" stroke-linejoin="round"/>
<path d="M378,187.5 C378.8,185.4 382.8,182.9 385.5,182.5 C388.2,182.5 392.5,183.3 394.2,185 C395.5,186.7 395.5,190.6 395.5,192.5 C394.5,194.4 390.5,195.8 388,196.2 C385.5,196.2 382.2,196.2 380.5,195 C378.8,193.6 378.0,189.6 378,187.5Z" fill="#55b59e" stroke="#55b59e" stroke-width="5" stroke-linejoin="round"/>
<path d="M490.5,185 C492.4,181.7 497.2,179.2 500.5,177.5 C503.8,175.8 507.6,175.4 510.5,175 C513.4,175.0 516.8,175.0 518,175 C518.0,182.5 518.0,212.1 518,220 C516.3,222.5 511.3,222.5 508,222.5 C504.7,222.5 500.7,222.1 498,220 C495.3,217.9 493.3,213.8 491.8,210 C490.3,206.2 489.4,201.7 489.2,197.5 C489.2,193.3 489.2,188.3 490.5,185Z" fill="#55b59e" stroke="#55b59e" stroke-width="5" stroke-linejoin="round"/>
<path d="M255.5,250 C257.6,247.5 263.8,247.5 268,247.5 C272.2,247.9 276.8,250.0 280.5,252.5 C284.2,255.0 288.0,258.8 290.5,262.5 C293.0,266.2 294.2,270.4 295.5,275 C296.8,279.6 297.6,285.0 298,290 C298.0,295.0 298.0,299.6 298,305 C297.6,310.4 298.0,319.6 295.5,322.5 C288.4,322.5 262.2,322.5 255.5,322.5 C255.5,310.4 255.5,262.5 255.5,250Z" fill="#55b59e" stroke="#55b59e" stroke-width="5" stroke-linejoin="round"/>
<path d="M493.5,187.5 C495.2,184.6 498.1,182.1 501,180 C503.9,177.9 507.2,177.5 511,175 C514.8,172.5 520.2,167.9 523.5,165 C526.8,162.1 528.5,160.0 531,157.5 C533.5,155.0 536.0,152.5 538.5,150 C541.0,147.5 543.5,145.0 546,142.5 C548.5,140.0 551.0,137.5 553.5,135 C556.0,132.5 558.5,130.0 561,127.5 C563.5,125.0 566.4,122.5 568.5,120 C570.6,117.5 571.4,115.0 573.5,112.5 C575.6,110.0 578.1,107.5 581,105 C583.9,102.5 581.0,98.8 591,97.5 C601.8,97.5 637.7,97.5 646,97.5 C646.0,99.6 643.5,106.2 641,110 C638.5,113.8 634.3,117.5 631,120 C627.7,122.5 624.3,123.8 621,125 C617.7,126.2 613.9,125.8 611,127.5 C608.1,129.2 605.2,131.7 603.5,135 C601.8,138.3 601.4,143.3 601,147.5 C601.0,151.7 601.0,155.8 601,160 C600.2,164.2 598.1,168.8 596,172.5 C593.9,176.2 591.0,178.8 588.5,182.5 C586.0,186.2 583.1,191.2 581,195 C578.9,198.8 577.7,201.7 576,205 C574.3,208.3 572.7,211.7 571,215 C569.3,218.3 567.7,222.1 566,225 C564.3,227.9 563.1,230.0 561,232.5 C558.9,235.0 556.4,237.9 553.5,240 C550.6,242.1 547.2,243.8 543.5,245 C539.8,246.2 534.8,247.5 531,247.5 C527.2,247.5 524.3,245.8 521,245 C517.7,244.2 514.3,242.9 511,242.5 C507.7,242.5 503.5,242.5 501,242.5 C498.5,241.2 496.0,237.5 496,235 C496.4,232.5 500.2,229.6 503.5,227.5 C506.8,225.4 511.8,224.2 516,222.5 C520.2,220.8 527.7,219.2 528.5,217.5 C528.5,215.8 524.3,212.9 521,212.5 C517.7,212.5 512.7,214.2 508.5,215 C504.3,215.8 498.9,217.5 496,217.5 C493.1,216.2 491.8,210.8 491,207.5 C491.0,204.2 491.0,200.8 491,197.5 C491.4,194.2 491.8,190.4 493.5,187.5Z" fill="#55b59e" stroke="#55b59e" stroke-width="5" stroke-linejoin="round"/>
<path d="M463.5,240 C465.6,237.5 471.4,237.5 476,237.5 C480.6,237.9 486.4,240.4 491,242.5 C495.6,244.6 500.2,247.1 503.5,250 C506.8,252.9 509.3,255.8 511,260 C512.7,264.2 513.5,270.0 513.5,275 C513.1,280.0 511.0,285.8 508.5,290 C506.0,294.2 502.2,296.7 498.5,300 C494.8,303.3 490.2,306.7 486,310 C481.8,313.3 477.2,317.9 473.5,320 C469.8,322.1 465.2,322.5 463.5,322.5 C463.5,309.2 463.5,254.2 463.5,240Z" fill="#55b59e" stroke="#55b59e" stroke-width="5" stroke-linejoin="round"/>
<path d="M175,273.5 C196.4,273.5 277.1,273.5 297.5,273.5 C297.5,280.2 297.5,302.7 297.5,313.5 C296.9,324.3 295.1,331.4 293.8,338.5 C292.6,345.6 291.3,350.6 290,356 C288.7,361.4 286.6,365.6 286.2,371 C286.2,376.4 287.5,382.7 287.5,388.5 C287.3,394.3 286.7,403.9 285,406 C283.3,406.0 280.0,403.9 277.5,401 C275.0,398.1 272.9,392.7 270,388.5 C267.1,384.3 264.2,379.3 260,376 C255.8,372.7 250.0,369.8 245,368.5 C240.0,368.5 235.0,368.5 230,368.5 C225.0,368.5 219.2,368.5 215,368.5 C210.8,368.1 208.3,366.8 205,366 C201.7,365.2 197.5,365.2 195,363.5 C192.5,361.8 190.8,359.3 190,356 C190.0,352.7 190.0,346.4 190,343.5 C188.8,340.6 185.8,340.2 182.5,338.5 C179.2,336.8 172.5,336.4 170,333.5 C167.5,330.6 168.3,325.6 167.5,321 C166.7,316.4 165.3,311.4 165,306 C165.0,300.6 165.0,292.9 165.5,288.5 C166.1,284.1 167.2,282.3 168.8,279.8 C170.4,277.3 168.8,274.6 175,273.5Z" fill="#55b59e" stroke="#55b59e" stroke-width="5" stroke-linejoin="round"/>
<path d="M92.5,326 C94.2,324.8 103.8,324.8 107.5,324.8 C111.2,325.2 114.6,326.6 115,328.5 C115.0,330.4 112.9,334.8 110,336 C107.1,336.0 100.4,336.0 97.5,336 C94.6,334.3 92.5,327.9 92.5,326Z" fill="#55b59e" stroke="#55b59e" stroke-width="5" stroke-linejoin="round"/>
<path d="M125,321 C127.9,318.9 135.0,319.3 140,318.5 C145.0,317.7 150.4,316.0 155,316 C159.6,316.0 164.2,316.8 167.5,318.5 C170.8,320.2 172.9,323.1 175,326 C177.1,328.9 177.5,333.5 180,336 C182.5,338.5 188.3,336.8 190,341 C190.0,345.2 190.0,357.2 190,361 C188.3,363.5 183.8,363.5 180,363.5 C176.2,363.5 171.7,363.1 167.5,361 C163.3,358.9 159.2,353.9 155,351 C150.8,348.1 146.7,345.6 142.5,343.5 C138.3,341.4 133.3,340.6 130,338.5 C126.7,336.4 123.3,333.9 122.5,331 C122.5,328.1 122.5,323.1 125,321Z" fill="#55b59e" stroke="#55b59e" stroke-width="5" stroke-linejoin="round"/>
<path d="M255.5,273.5 C262.6,273.5 290.5,273.5 298,273.5 C300.5,275.6 300.5,281.4 300.5,286 C300.5,290.6 298.8,296.0 298,301 C297.2,306.0 295.9,311.0 295.5,316 C295.5,321.0 295.5,326.0 295.5,331 C295.1,336.0 294.2,341.4 293,346 C291.8,350.6 289.2,354.3 288,358.5 C286.8,362.7 285.5,367.2 285.5,371 C285.5,374.8 287.2,377.7 288,381 C288.8,384.3 290.5,387.7 290.5,391 C290.5,394.3 289.2,398.5 288,401 C286.8,403.5 284.7,406.0 283,406 C281.3,405.6 279.7,401.8 278,398.5 C276.3,395.2 274.7,389.8 273,386 C271.3,382.2 270.9,378.1 268,376 C265.1,373.9 257.6,376.0 255.5,373.5 C255.5,356.4 255.5,290.2 255.5,273.5Z" fill="#55b59e" stroke="#55b59e" stroke-width="5" stroke-linejoin="round"/>
<path d="M325.5,438.5 C327.0,435.8 330.1,433.0 333,432.2 C335.9,432.2 340.5,432.2 343,433.5 C345.5,435.0 346.3,440.2 348,441 C349.7,441.0 350.9,438.5 353,438.5 C355.1,438.9 358.8,441.0 360.5,443.5 C362.2,446.0 363.0,450.6 363,453.5 C363.0,456.4 362.2,459.8 360.5,461 C358.8,461.0 355.5,461.0 353,461 C350.5,460.2 348.0,456.4 345.5,456 C343.0,456.0 340.9,458.5 338,458.5 C335.1,458.3 330.3,456.5 328,454.8 C325.7,453.1 324.6,451.2 324.2,448.5 C324.2,445.8 324.2,441.2 325.5,438.5Z" fill="#55b59e" stroke="#55b59e" stroke-width="5" stroke-linejoin="round"/>
<path d="M350.5,473.5 C351.8,471.8 355.1,471.0 358,471 C360.9,471.4 365.9,473.5 368,476 C370.1,478.5 370.5,483.5 370.5,486 C370.1,488.5 368.0,490.6 365.5,491 C363.0,491.0 358.0,490.2 355.5,488.5 C353.0,486.8 351.3,483.5 350.5,481 C350.5,478.5 350.5,475.2 350.5,473.5Z" fill="#55b59e" stroke="#55b59e" stroke-width="5" stroke-linejoin="round"/>
<path d="M463.5,245 C466.4,240.0 476.0,240.0 481,240 C486.0,240.4 490.6,244.2 493.5,247.5 C496.4,250.8 496.8,256.2 498.5,260 C500.2,263.8 503.1,266.2 503.5,270 C503.5,273.8 502.7,278.3 501,282.5 C499.3,286.7 496.4,290.8 493.5,295 C490.6,299.2 486.8,303.8 483.5,307.5 C480.2,311.2 476.8,315.4 473.5,317.5 C470.2,319.6 465.2,320.0 463.5,320 C463.5,307.9 463.5,258.3 463.5,245Z" fill="#55b59e" stroke="#55b59e" stroke-width="5" stroke-linejoin="round"/>
<path d="M325,442.5 C325.6,439.8 327.9,437.6 330,436.2 C332.1,434.8 335.2,433.8 337.5,433.8 C339.8,434.0 342.6,435.6 343.8,437.5 C345.0,439.4 345.0,442.1 345,445 C344.8,447.9 343.8,452.7 342.5,455 C341.2,457.3 339.4,458.4 337.5,458.8 C335.6,458.8 333.1,458.6 331.2,457.5 C329.3,456.4 327.2,455.0 326.2,452.5 C325.2,450.0 325.0,445.2 325,442.5Z" fill="#55b59e" stroke="#55b59e" stroke-width="5" stroke-linejoin="round"/>
<path d="M347.5,440 C348.3,438.8 351.7,438.8 353.8,438.8 C355.9,439.4 358.6,441.5 360,443.8 C361.4,446.1 362.3,449.6 362.5,452.5 C362.5,455.4 362.0,459.3 361.2,461.2 C360.4,463.1 358.9,463.8 357.5,463.8 C356.1,463.4 353.9,460.9 352.5,458.8 C351.1,456.7 349.6,454.3 348.8,451.2 C348.0,448.1 347.5,442.1 347.5,440Z" fill="#55b59e" stroke="#55b59e" stroke-width="5" stroke-linejoin="round"/>
<path d="M351.2,472.5 C352.0,471.4 354.1,471.2 356.2,471.2 C358.3,471.8 361.5,474.7 363.8,476.2 C366.1,477.7 368.3,478.5 370,480 C371.7,481.5 373.4,483.3 373.8,485 C373.8,486.7 373.6,489.0 372.5,490 C371.4,491.0 369.4,491.2 367.5,491.2 C365.6,490.8 363.3,488.9 361.2,487.5 C359.1,486.1 356.7,484.2 355,482.5 C353.3,480.8 351.8,479.2 351.2,477.5 C351.2,475.8 351.2,473.6 351.2,472.5Z" fill="#55b59e" stroke="#55b59e" stroke-width="5" stroke-linejoin="round"/>
<path d="M422,245 C425.0,241.2 433.7,234.2 440,232 C446.3,232.0 453.3,232.0 460,232 C466.7,232.7 474.2,234.3 480,236 C485.8,237.7 490.8,240.0 495,242 C499.2,244.0 502.3,245.3 505,248 C507.7,250.7 509.9,254.0 511,258 C511.5,262.0 511.5,267.8 511.5,272 C511.0,276.2 509.4,279.8 508,283 C506.6,286.2 504.8,288.5 503,291 C501.2,293.5 499.2,295.7 497,298 C494.8,300.3 492.2,302.8 490,305 C487.8,307.2 486.0,309.0 484,311 C482.0,313.0 480.0,315.2 478,317 C476.0,318.8 474.0,320.6 472,322 C470.0,323.4 468.0,324.8 466,325.5 C464.0,326.0 461.8,326.0 460,326 C458.2,325.4 456.5,323.8 455,322 C453.5,320.2 452.3,317.2 451,315 C449.7,312.8 448.7,310.7 447,309 C445.3,307.3 443.0,305.8 441,305 C439.0,304.2 437.0,304.0 435,304 C433.0,304.0 431.2,304.2 429,305 C426.8,305.8 424.3,307.5 422,308.5 C419.7,309.5 417.5,310.3 415,311 C412.5,311.7 409.2,312.5 407,312.5 C404.8,312.5 402.3,312.2 402,311 C402.0,309.8 403.3,307.0 405,305 C406.7,303.0 409.7,301.0 412,299 C414.3,297.0 416.8,295.0 419,293 C421.2,291.0 423.7,289.5 425,287 C426.3,284.5 427.0,281.5 427,278 C426.8,274.5 424.8,269.8 424,266 C423.2,262.2 422.3,258.5 422,255 C422.0,251.5 422.0,248.8 422,245Z" fill="#55b59e" stroke="#55b59e" stroke-width="5" stroke-linejoin="round"/>
<path d="M45.4,374.6 C49.3,374.6 64.8,374.6 69,374.6 C70.8,377.3 70.8,385.2 70.8,390.9 C70.8,396.6 69.0,404.8 69,409 C70.5,413.2 76.5,413.8 79.8,416.2 C83.1,418.6 86.8,419.8 88.9,423.4 C91.0,427.0 91.9,433.1 92.5,437.9 C92.5,442.7 92.5,448.2 92.5,452.4 C91.9,456.6 90.1,459.7 88.9,463.3 C87.7,466.9 86.1,470.5 85.2,474.1 C84.3,477.7 84.6,482.0 83.4,485 C82.2,488.0 80.4,490.7 78,492.2 C75.6,493.7 71.7,494.0 69,494 C66.3,493.4 62.9,491.3 61.7,488.6 C61.7,485.9 61.7,480.7 61.7,477.7 C60.8,474.7 59.0,472.9 56.3,470.5 C53.6,468.1 47.2,470.5 45.4,463.3 C45.4,447.3 45.4,389.4 45.4,374.6Z" fill="#55b59e" stroke="#55b59e" stroke-width="5" stroke-linejoin="round"/>
<path d="M225,200 C226.7,197.3 231.2,196.2 235,196.2 C238.8,196.2 245.0,197.7 247.5,200 C250.0,202.3 250.0,206.7 250,210 C249.6,213.3 246.0,215.8 245,220 C244.0,224.2 245.0,231.7 243.8,235 C242.6,238.3 239.8,240.0 237.5,240 C235.2,240.0 231.9,237.5 230,235 C228.1,232.5 227.0,228.8 226.2,225 C225.4,221.2 225.2,216.7 225,212.5 C225.0,208.3 225.0,202.7 225,200Z" fill="#35a08f" stroke="#35a08f" stroke-width="1"/>
<path d="M90,136.2 C90.8,135.0 94.5,135.0 96.2,135 C97.9,135.6 100.0,138.3 100,140 C100.0,141.7 97.7,144.4 96.2,145 C94.7,145.0 92.2,145.0 91.2,143.8 C90.2,142.3 90.0,137.7 90,136.2Z" fill="#35a08f" stroke="#35a08f" stroke-width="1"/>
<path d="M47.5,315 C52.1,315.0 64.2,315.5 75,315.5 C85.8,315.4 102.1,314.5 112.5,314.5 C122.9,314.7 129.2,316.4 137.5,316.5 C145.8,316.5 157.9,315.0 162.5,315 C165.0,316.0 165.0,321.2 165,322.5 C145.8,322.5 67.1,322.5 47.5,322.5 C47.5,321.2 47.5,316.2 47.5,315Z" fill="#35a08f" stroke="#35a08f" stroke-width="1"/>
<path d="M155,135 C156.7,132.7 162.5,131.2 165,131.2 C167.5,131.6 169.6,134.4 170,137.5 C170.0,140.6 169.2,147.5 167.5,150 C165.8,152.5 162.1,152.5 160,152.5 C157.9,151.7 155.8,147.9 155,145 C155.0,142.1 155.0,137.3 155,135Z" fill="#35a08f" stroke="#35a08f" stroke-width="1"/>
<path d="M405.5,112.5 C407.2,110.6 412.2,108.8 415.5,108.8 C418.8,109.2 423.6,112.3 425.5,115 C426.8,117.7 426.8,122.5 426.8,125 C426.0,127.5 423.2,129.6 420.5,130 C417.8,130.0 413.0,129.2 410.5,127.5 C408.0,125.8 406.3,122.5 405.5,120 C405.5,117.5 405.5,114.4 405.5,112.5Z" fill="#35a08f" stroke="#35a08f" stroke-width="1"/>
<path d="M330.5,197.5 C331.5,196.0 335.9,195.0 338,195 C340.1,195.4 343.0,198.1 343,200 C343.0,201.9 339.9,205.6 338,206.2 C336.1,206.2 333.1,205.2 331.8,203.8 C330.6,202.4 330.5,199.0 330.5,197.5Z" fill="#35a08f" stroke="#35a08f" stroke-width="1"/>
<path d="M424.2,175 C425.4,173.3 430.5,172.5 433,172.5 C435.5,173.3 439.2,177.9 439.2,180 C439.2,182.1 435.3,184.6 433,185 C430.7,185.0 427.0,184.2 425.5,182.5 C424.2,180.8 424.2,176.7 424.2,175Z" fill="#35a08f" stroke="#35a08f" stroke-width="1"/>
<path d="M499.2,140 C500.0,137.7 502.8,135.4 505.5,135 C508.2,135.0 513.8,135.0 515.5,137.5 C515.5,140.8 515.5,152.1 515.5,155 C514.0,155.0 509.3,155.0 506.8,155 C504.3,154.0 501.8,151.3 500.5,148.8 C499.2,146.3 499.2,142.3 499.2,140Z" fill="#35a08f" stroke="#35a08f" stroke-width="1"/>
<path d="M498.5,137.5 C500.4,135.0 505.6,132.5 508.5,132.5 C511.4,132.9 515.2,136.7 516,140 C516.0,143.3 515.6,150.0 513.5,152.5 C511.4,155.0 506.2,155.0 503.5,155 C500.8,154.2 498.0,150.4 497.2,147.5 C497.2,144.6 497.2,140.0 498.5,137.5Z" fill="#35a08f" stroke="#35a08f" stroke-width="1"/>
<path d="M533.5,110 C535.2,107.5 541.4,105.4 546,105 C550.6,105.0 558.9,105.4 561,107.5 C561.0,109.6 561.0,115.0 558.5,117.5 C556.0,120.0 549.8,122.1 546,122.5 C542.2,122.5 538.1,122.1 536,120 C533.9,117.9 533.5,112.5 533.5,110Z" fill="#35a08f" stroke="#35a08f" stroke-width="1"/>
<path d="M100,410.2 C101.5,409.6 105.8,409.5 110,409.5 C114.2,409.9 120.0,411.1 125,412.5 C130.0,413.9 136.5,416.4 140,418 C143.5,419.6 146.0,421.1 146.2,422 C146.2,422.9 144.7,423.5 141.2,423.5 C137.7,423.1 130.2,421.0 125,419.5 C119.8,418.0 114.0,415.6 110,414.5 C106.0,413.4 102.9,413.7 101.2,413 C100.0,412.3 100.0,410.8 100,410.2Z" fill="#35a08f" stroke="#35a08f" stroke-width="1"/>
<path d="M137.5,442.5 C139.6,442.5 146.2,443.3 150,444.2 C153.8,445.1 159.2,447.0 160.5,447.8 C160.5,448.6 160.5,449.2 157.5,449.2 C154.5,449.1 145.8,447.9 142.5,447.2 C139.2,446.5 138.3,445.6 137.5,444.8 C137.5,444.0 137.5,442.6 137.5,442.5Z" fill="#35a08f" stroke="#35a08f" stroke-width="1"/>
<path d="M47.5,318.5 C50.4,318.5 59.6,318.5 65,318.5 C70.4,319.3 75.0,322.4 80,323.5 C85.0,324.6 90.0,324.8 95,324.8 C100.0,324.6 105.0,323.0 110,322.2 C115.0,321.4 120.0,320.6 125,319.8 C130.0,319.0 135.8,318.2 140,317.2 C144.2,316.1 147.1,315.4 150,313.5 C152.9,311.6 155.0,308.1 157.5,306 C160.0,303.9 163.3,301.0 165,301 C166.7,302.2 166.7,309.3 167.5,313.5 C168.3,317.7 167.9,323.1 170,326 C172.1,328.9 176.7,329.8 180,331 C183.3,332.2 186.7,332.7 190,333.5 C193.3,334.3 197.5,333.5 200,336 C202.5,338.5 205.0,344.8 205,348.5 C205.0,352.2 202.5,356.0 200,358.5 C197.5,361.0 193.3,362.2 190,363.5 C186.7,364.8 183.8,366.0 180,366 C176.2,366.0 171.7,365.2 167.5,363.5 C163.3,361.8 158.8,358.1 155,356 C151.2,353.9 148.8,352.2 145,351 C141.2,349.8 136.7,349.3 132.5,348.5 C128.3,347.7 124.6,346.8 120,346 C115.4,345.2 110.0,344.1 105,343.5 C100.0,342.9 95.0,342.2 90,342.2 C85.0,342.2 80.0,343.1 75,343.5 C70.0,343.9 64.6,344.4 60,344.8 C55.4,345.2 49.6,346.0 47.5,346 C47.5,341.6 47.5,323.1 47.5,318.5Z" fill="#35a08f" stroke="#35a08f" stroke-width="1"/>
<path d="M309.2,392.2 C309.7,391.5 312.5,391.5 313.5,391.5 C314.5,392.1 315.0,394.9 315,396 C314.5,397.1 311.5,398.0 310.5,398 C309.5,397.4 309.2,393.3 309.2,392.2Z" fill="#35a08f" stroke="#35a08f" stroke-width="1"/>
<path d="M401.8,273.5 C406.0,273.5 426.1,273.5 430.5,273.5 C430.5,275.6 430.1,283.3 428,286 C425.9,288.7 421.8,289.6 418,289.8 C414.2,289.8 408.2,289.8 405.5,287.2 C402.8,284.5 401.8,275.8 401.8,273.5Z" fill="#35a08f" stroke="#35a08f" stroke-width="1"/>
<path d="M384.4,484.4 C384.9,484.4 387.4,484.4 388.1,484.4 C388.8,485.0 388.8,487.4 388.8,488.1 C388.3,488.8 385.7,488.8 385,488.8 C384.4,488.2 384.4,485.1 384.4,484.4Z" fill="#35a08f" stroke="#35a08f" stroke-width="1"/>
<path d="M59.9,474.1 C61.4,472.3 68.7,472.3 72.6,472.3 C76.5,472.9 81.9,474.4 83.4,477.7 C83.4,481.0 83.4,489.2 81.6,492.2 C79.8,495.2 75.6,495.8 72.6,495.8 C69.6,495.5 65.6,494.0 63.5,490.4 C61.4,486.8 59.9,477.1 59.9,474.1Z" fill="#35a08f" stroke="#35a08f" stroke-width="1"/>
<path d="M112.5,153.8 C113.5,153.8 119.2,157.5 122.5,157.5 C125.8,157.5 129.2,155.5 132.5,153.8 C135.8,152.1 138.8,149.0 142.5,147.5 C146.2,146.0 151.7,146.7 155,145 C158.3,143.3 160.0,139.2 162.5,137.5 C165.0,135.8 166.7,135.0 170,135 C173.3,135.0 178.3,136.5 182.5,137.5 C186.7,138.5 191.2,140.1 195,141.2 C198.8,142.2 201.7,143.8 205,143.8 C208.3,143.8 211.7,141.4 215,141.2 C218.3,141.2 220.8,141.9 225,142.5 C229.2,143.1 235.8,144.2 240,145 C244.2,145.8 246.2,147.1 250,147.5 C253.8,147.5 258.3,147.5 262.5,147.5 C266.7,147.1 270.8,145.6 275,145 C279.2,144.4 281.7,144.0 287.5,143.8 C293.3,143.8 306.2,143.8 310,143.8 C310.0,147.5 310.0,162.5 310,166.2 C307.5,166.2 299.6,166.2 295,166.2 C290.4,165.8 286.7,164.4 282.5,163.8 C278.3,163.2 274.2,163.1 270,162.5 C265.8,161.9 261.2,160.8 257.5,160 C253.8,159.2 250.8,158.1 247.5,157.5 C244.2,156.9 241.2,156.6 237.5,156.2 C233.8,155.8 228.8,155.0 225,155 C221.2,155.0 218.3,155.4 215,156.2 C211.7,157.0 207.9,158.1 205,160 C202.1,161.9 199.6,165.0 197.5,167.5 C195.4,170.0 194.2,172.5 192.5,175 C190.8,177.5 188.8,179.6 187.5,182.5 C186.2,185.4 185.2,189.2 185,192.5 C185.0,195.8 185.4,199.6 186.2,202.5 C187.0,205.4 190.0,208.6 190,210 C189.8,211.2 187.5,211.2 185,211.2 C182.5,210.4 178.3,206.9 175,205 C171.7,203.1 168.3,201.9 165,200 C161.7,198.1 158.3,195.9 155,193.8 C151.7,191.7 147.9,189.4 145,187.5 C142.1,185.6 140.0,184.4 137.5,182.5 C135.0,180.6 132.5,178.7 130,176.2 C127.5,173.7 124.8,170.0 122.5,167.5 C120.2,165.0 117.9,163.5 116.2,161.2 C114.5,158.9 112.5,154.4 112.5,153.8Z" fill="#35a08f" stroke="#35a08f" stroke-width="3" stroke-linejoin="round"/>
<path d="M220,245 C222.1,242.5 226.7,243.3 230,242.5 C233.3,241.7 236.7,241.1 240,240 C243.3,238.9 246.7,236.2 250,236.2 C253.3,236.2 256.7,238.7 260,240 C263.3,241.3 267.1,242.6 270,243.8 C272.9,245.1 275.8,244.8 277.5,247.5 C279.2,250.2 279.8,255.4 280,260 C280.0,264.6 278.8,271.2 278.8,275 C279.6,278.8 282.3,281.2 285,282.5 C287.7,282.5 290.6,282.5 295,282.5 C299.4,282.9 308.1,283.8 311.2,285 C313.8,286.2 313.6,287.9 313.8,290 C313.8,292.1 313.6,295.0 312.5,297.5 C311.4,300.0 309.2,302.5 307.5,305 C305.8,307.5 303.8,309.6 302.5,312.5 C301.2,315.4 302.5,320.8 300,322.5 C277.1,322.5 187.1,322.5 165,322.5 C165.0,320.4 166.7,314.2 167.5,310 C168.3,305.8 169.2,301.7 170,297.5 C170.8,293.3 170.8,288.3 172.5,285 C174.2,281.7 177.1,279.2 180,277.5 C182.9,275.8 186.2,275.8 190,275 C193.8,274.2 198.8,273.8 202.5,272.5 C206.2,271.2 210.0,270.0 212.5,267.5 C215.0,265.0 216.2,261.2 217.5,257.5 C218.8,253.8 217.9,247.5 220,245Z" fill="#35a08f" stroke="#35a08f" stroke-width="3" stroke-linejoin="round"/>
<path d="M255.5,142.5 C258.4,140.0 267.2,140.8 273,140 C278.8,139.2 284.7,137.9 290.5,137.5 C296.3,137.5 302.2,137.5 308,137.5 C313.8,137.5 320.1,137.5 325.5,137.5 C330.9,137.1 335.1,135.8 340.5,135 C345.9,134.2 352.6,133.3 358,132.5 C363.4,131.7 368.0,130.8 373,130 C378.0,129.2 383.8,128.3 388,127.5 C392.2,126.7 394.7,125.0 398,125 C401.3,125.8 405.5,129.6 408,132.5 C410.5,135.4 412.6,139.2 413,142.5 C413.0,145.8 412.2,149.6 410.5,152.5 C408.8,155.4 405.9,157.9 403,160 C400.1,162.1 396.3,163.8 393,165 C389.7,166.2 385.9,166.7 383,167.5 C380.1,168.3 378.8,169.2 375.5,170 C372.2,170.8 366.8,171.7 363,172.5 C359.2,173.3 356.3,174.6 353,175 C349.7,175.0 346.3,175.0 343,175 C339.7,174.6 336.3,173.3 333,172.5 C329.7,171.7 326.3,170.8 323,170 C319.7,169.2 316.8,168.3 313,167.5 C309.2,166.7 304.7,165.2 300.5,165 C296.3,165.0 292.6,165.8 288,166.2 C283.4,166.6 278.4,167.3 273,167.5 C267.6,167.5 258.4,167.5 255.5,167.5 C255.5,163.3 255.5,147.1 255.5,142.5Z" fill="#35a08f" stroke="#35a08f" stroke-width="3" stroke-linejoin="round"/>
<path d="M375.5,207.5 C378.4,204.6 384.2,203.8 388,202.5 C391.8,201.2 394.7,200.0 398,200 C401.3,200.4 404.7,203.3 408,205 C411.3,206.7 415.5,207.9 418,210 C420.5,212.1 420.5,217.1 423,217.5 C425.5,217.5 429.7,214.2 433,212.5 C436.3,210.8 438.8,208.8 443,207.5 C447.2,206.2 453.4,205.4 458,205 C462.6,205.0 468.0,205.0 470.5,205 C473.0,205.8 473.0,208.3 473,210 C471.8,211.7 467.2,213.8 463,215 C458.8,216.2 452.2,216.7 448,217.5 C443.8,218.3 441.3,218.8 438,220 C434.7,221.2 430.9,222.5 428,225 C425.1,227.5 421.8,230.8 420.5,235 C420.5,239.2 420.5,245.8 420.5,250 C421.8,254.2 426.3,256.2 428,260 C429.7,263.8 430.5,270.0 430.5,272.5 C429.2,275.0 424.2,275.0 420.5,275 C416.8,275.0 411.8,273.8 408,272.5 C404.2,271.2 401.3,269.2 398,267.5 C394.7,265.8 390.9,264.6 388,262.5 C385.1,260.4 382.6,257.9 380.5,255 C378.4,252.1 376.8,248.8 375.5,245 C374.2,241.2 373.8,236.7 373,232.5 C372.2,228.3 370.5,224.2 370.5,220 C370.9,215.8 372.6,210.4 375.5,207.5Z" fill="#35a08f" stroke="#35a08f" stroke-width="3" stroke-linejoin="round"/>
<path d="M354.2,197.5 C355.2,195.0 360.5,195.0 363,195 C365.5,195.4 368.4,197.5 369.2,200 C369.2,202.5 369.0,207.3 368,210 C367.0,212.7 364.9,215.6 363,216.2 C361.1,216.2 358.3,216.2 356.8,213.8 C355.3,210.7 354.2,200.6 354.2,197.5Z" fill="#35a08f" stroke="#35a08f" stroke-width="3" stroke-linejoin="round"/>
<path d="M378,187.5 C378.8,185.4 382.8,182.9 385.5,182.5 C388.2,182.5 392.5,183.3 394.2,185 C395.5,186.7 395.5,190.6 395.5,192.5 C394.5,194.4 390.5,195.8 388,196.2 C385.5,196.2 382.2,196.2 380.5,195 C378.8,193.6 378.0,189.6 378,187.5Z" fill="#35a08f" stroke="#35a08f" stroke-width="3" stroke-linejoin="round"/>
<path d="M490.5,185 C492.4,181.7 497.2,179.2 500.5,177.5 C503.8,175.8 507.6,175.4 510.5,175 C513.4,175.0 516.8,175.0 518,175 C518.0,182.5 518.0,212.1 518,220 C516.3,222.5 511.3,222.5 508,222.5 C504.7,222.5 500.7,222.1 498,220 C495.3,217.9 493.3,213.8 491.8,210 C490.3,206.2 489.4,201.7 489.2,197.5 C489.2,193.3 489.2,188.3 490.5,185Z" fill="#35a08f" stroke="#35a08f" stroke-width="3" stroke-linejoin="round"/>
<path d="M255.5,250 C257.6,247.5 263.8,247.5 268,247.5 C272.2,247.9 276.8,250.0 280.5,252.5 C284.2,255.0 288.0,258.8 290.5,262.5 C293.0,266.2 294.2,270.4 295.5,275 C296.8,279.6 297.6,285.0 298,290 C298.0,295.0 298.0,299.6 298,305 C297.6,310.4 298.0,319.6 295.5,322.5 C288.4,322.5 262.2,322.5 255.5,322.5 C255.5,310.4 255.5,262.5 255.5,250Z" fill="#35a08f" stroke="#35a08f" stroke-width="3" stroke-linejoin="round"/>
<path d="M493.5,187.5 C495.2,184.6 498.1,182.1 501,180 C503.9,177.9 507.2,177.5 511,175 C514.8,172.5 520.2,167.9 523.5,165 C526.8,162.1 528.5,160.0 531,157.5 C533.5,155.0 536.0,152.5 538.5,150 C541.0,147.5 543.5,145.0 546,142.5 C548.5,140.0 551.0,137.5 553.5,135 C556.0,132.5 558.5,130.0 561,127.5 C563.5,125.0 566.4,122.5 568.5,120 C570.6,117.5 571.4,115.0 573.5,112.5 C575.6,110.0 578.1,107.5 581,105 C583.9,102.5 581.0,98.8 591,97.5 C601.8,97.5 637.7,97.5 646,97.5 C646.0,99.6 643.5,106.2 641,110 C638.5,113.8 634.3,117.5 631,120 C627.7,122.5 624.3,123.8 621,125 C617.7,126.2 613.9,125.8 611,127.5 C608.1,129.2 605.2,131.7 603.5,135 C601.8,138.3 601.4,143.3 601,147.5 C601.0,151.7 601.0,155.8 601,160 C600.2,164.2 598.1,168.8 596,172.5 C593.9,176.2 591.0,178.8 588.5,182.5 C586.0,186.2 583.1,191.2 581,195 C578.9,198.8 577.7,201.7 576,205 C574.3,208.3 572.7,211.7 571,215 C569.3,218.3 567.7,222.1 566,225 C564.3,227.9 563.1,230.0 561,232.5 C558.9,235.0 556.4,237.9 553.5,240 C550.6,242.1 547.2,243.8 543.5,245 C539.8,246.2 534.8,247.5 531,247.5 C527.2,247.5 524.3,245.8 521,245 C517.7,244.2 514.3,242.9 511,242.5 C507.7,242.5 503.5,242.5 501,242.5 C498.5,241.2 496.0,237.5 496,235 C496.4,232.5 500.2,229.6 503.5,227.5 C506.8,225.4 511.8,224.2 516,222.5 C520.2,220.8 527.7,219.2 528.5,217.5 C528.5,215.8 524.3,212.9 521,212.5 C517.7,212.5 512.7,214.2 508.5,215 C504.3,215.8 498.9,217.5 496,217.5 C493.1,216.2 491.8,210.8 491,207.5 C491.0,204.2 491.0,200.8 491,197.5 C491.4,194.2 491.8,190.4 493.5,187.5Z" fill="#35a08f" stroke="#35a08f" stroke-width="3" stroke-linejoin="round"/>
<path d="M463.5,240 C465.6,237.5 471.4,237.5 476,237.5 C480.6,237.9 486.4,240.4 491,242.5 C495.6,244.6 500.2,247.1 503.5,250 C506.8,252.9 509.3,255.8 511,260 C512.7,264.2 513.5,270.0 513.5,275 C513.1,280.0 511.0,285.8 508.5,290 C506.0,294.2 502.2,296.7 498.5,300 C494.8,303.3 490.2,306.7 486,310 C481.8,313.3 477.2,317.9 473.5,320 C469.8,322.1 465.2,322.5 463.5,322.5 C463.5,309.2 463.5,254.2 463.5,240Z" fill="#35a08f" stroke="#35a08f" stroke-width="3" stroke-linejoin="round"/>
<path d="M175,273.5 C196.4,273.5 277.1,273.5 297.5,273.5 C297.5,280.2 297.5,302.7 297.5,313.5 C296.9,324.3 295.1,331.4 293.8,338.5 C292.6,345.6 291.3,350.6 290,356 C288.7,361.4 286.6,365.6 286.2,371 C286.2,376.4 287.5,382.7 287.5,388.5 C287.3,394.3 286.7,403.9 285,406 C283.3,406.0 280.0,403.9 277.5,401 C275.0,398.1 272.9,392.7 270,388.5 C267.1,384.3 264.2,379.3 260,376 C255.8,372.7 250.0,369.8 245,368.5 C240.0,368.5 235.0,368.5 230,368.5 C225.0,368.5 219.2,368.5 215,368.5 C210.8,368.1 208.3,366.8 205,366 C201.7,365.2 197.5,365.2 195,363.5 C192.5,361.8 190.8,359.3 190,356 C190.0,352.7 190.0,346.4 190,343.5 C188.8,340.6 185.8,340.2 182.5,338.5 C179.2,336.8 172.5,336.4 170,333.5 C167.5,330.6 168.3,325.6 167.5,321 C166.7,316.4 165.3,311.4 165,306 C165.0,300.6 165.0,292.9 165.5,288.5 C166.1,284.1 167.2,282.3 168.8,279.8 C170.4,277.3 168.8,274.6 175,273.5Z" fill="#35a08f" stroke="#35a08f" stroke-width="3" stroke-linejoin="round"/>
<path d="M92.5,326 C94.2,324.8 103.8,324.8 107.5,324.8 C111.2,325.2 114.6,326.6 115,328.5 C115.0,330.4 112.9,334.8 110,336 C107.1,336.0 100.4,336.0 97.5,336 C94.6,334.3 92.5,327.9 92.5,326Z" fill="#35a08f" stroke="#35a08f" stroke-width="3" stroke-linejoin="round"/>
<path d="M125,321 C127.9,318.9 135.0,319.3 140,318.5 C145.0,317.7 150.4,316.0 155,316 C159.6,316.0 164.2,316.8 167.5,318.5 C170.8,320.2 172.9,323.1 175,326 C177.1,328.9 177.5,333.5 180,336 C182.5,338.5 188.3,336.8 190,341 C190.0,345.2 190.0,357.2 190,361 C188.3,363.5 183.8,363.5 180,363.5 C176.2,363.5 171.7,363.1 167.5,361 C163.3,358.9 159.2,353.9 155,351 C150.8,348.1 146.7,345.6 142.5,343.5 C138.3,341.4 133.3,340.6 130,338.5 C126.7,336.4 123.3,333.9 122.5,331 C122.5,328.1 122.5,323.1 125,321Z" fill="#35a08f" stroke="#35a08f" stroke-width="3" stroke-linejoin="round"/>
<path d="M255.5,273.5 C262.6,273.5 290.5,273.5 298,273.5 C300.5,275.6 300.5,281.4 300.5,286 C300.5,290.6 298.8,296.0 298,301 C297.2,306.0 295.9,311.0 295.5,316 C295.5,321.0 295.5,326.0 295.5,331 C295.1,336.0 294.2,341.4 293,346 C291.8,350.6 289.2,354.3 288,358.5 C286.8,362.7 285.5,367.2 285.5,371 C285.5,374.8 287.2,377.7 288,381 C288.8,384.3 290.5,387.7 290.5,391 C290.5,394.3 289.2,398.5 288,401 C286.8,403.5 284.7,406.0 283,406 C281.3,405.6 279.7,401.8 278,398.5 C276.3,395.2 274.7,389.8 273,386 C271.3,382.2 270.9,378.1 268,376 C265.1,373.9 257.6,376.0 255.5,373.5 C255.5,356.4 255.5,290.2 255.5,273.5Z" fill="#35a08f" stroke="#35a08f" stroke-width="3" stroke-linejoin="round"/>
<path d="M325.5,438.5 C327.0,435.8 330.1,433.0 333,432.2 C335.9,432.2 340.5,432.2 343,433.5 C345.5,435.0 346.3,440.2 348,441 C349.7,441.0 350.9,438.5 353,438.5 C355.1,438.9 358.8,441.0 360.5,443.5 C362.2,446.0 363.0,450.6 363,453.5 C363.0,456.4 362.2,459.8 360.5,461 C358.8,461.0 355.5,461.0 353,461 C350.5,460.2 348.0,456.4 345.5,456 C343.0,456.0 340.9,458.5 338,458.5 C335.1,458.3 330.3,456.5 328,454.8 C325.7,453.1 324.6,451.2 324.2,448.5 C324.2,445.8 324.2,441.2 325.5,438.5Z" fill="#35a08f" stroke="#35a08f" stroke-width="3" stroke-linejoin="round"/>
<path d="M350.5,473.5 C351.8,471.8 355.1,471.0 358,471 C360.9,471.4 365.9,473.5 368,476 C370.1,478.5 370.5,483.5 370.5,486 C370.1,488.5 368.0,490.6 365.5,491 C363.0,491.0 358.0,490.2 355.5,488.5 C353.0,486.8 351.3,483.5 350.5,481 C350.5,478.5 350.5,475.2 350.5,473.5Z" fill="#35a08f" stroke="#35a08f" stroke-width="3" stroke-linejoin="round"/>
<path d="M463.5,245 C466.4,240.0 476.0,240.0 481,240 C486.0,240.4 490.6,244.2 493.5,247.5 C496.4,250.8 496.8,256.2 498.5,260 C500.2,263.8 503.1,266.2 503.5,270 C503.5,273.8 502.7,278.3 501,282.5 C499.3,286.7 496.4,290.8 493.5,295 C490.6,299.2 486.8,303.8 483.5,307.5 C480.2,311.2 476.8,315.4 473.5,317.5 C470.2,319.6 465.2,320.0 463.5,320 C463.5,307.9 463.5,258.3 463.5,245Z" fill="#35a08f" stroke="#35a08f" stroke-width="3" stroke-linejoin="round"/>
<path d="M325,442.5 C325.6,439.8 327.9,437.6 330,436.2 C332.1,434.8 335.2,433.8 337.5,433.8 C339.8,434.0 342.6,435.6 343.8,437.5 C345.0,439.4 345.0,442.1 345,445 C344.8,447.9 343.8,452.7 342.5,455 C341.2,457.3 339.4,458.4 337.5,458.8 C335.6,458.8 333.1,458.6 331.2,457.5 C329.3,456.4 327.2,455.0 326.2,452.5 C325.2,450.0 325.0,445.2 325,442.5Z" fill="#35a08f" stroke="#35a08f" stroke-width="3" stroke-linejoin="round"/>
<path d="M347.5,440 C348.3,438.8 351.7,438.8 353.8,438.8 C355.9,439.4 358.6,441.5 360,443.8 C361.4,446.1 362.3,449.6 362.5,452.5 C362.5,455.4 362.0,459.3 361.2,461.2 C360.4,463.1 358.9,463.8 357.5,463.8 C356.1,463.4 353.9,460.9 352.5,458.8 C351.1,456.7 349.6,454.3 348.8,451.2 C348.0,448.1 347.5,442.1 347.5,440Z" fill="#35a08f" stroke="#35a08f" stroke-width="3" stroke-linejoin="round"/>
<path d="M351.2,472.5 C352.0,471.4 354.1,471.2 356.2,471.2 C358.3,471.8 361.5,474.7 363.8,476.2 C366.1,477.7 368.3,478.5 370,480 C371.7,481.5 373.4,483.3 373.8,485 C373.8,486.7 373.6,489.0 372.5,490 C371.4,491.0 369.4,491.2 367.5,491.2 C365.6,490.8 363.3,488.9 361.2,487.5 C359.1,486.1 356.7,484.2 355,482.5 C353.3,480.8 351.8,479.2 351.2,477.5 C351.2,475.8 351.2,473.6 351.2,472.5Z" fill="#35a08f" stroke="#35a08f" stroke-width="3" stroke-linejoin="round"/>
<path d="M422,245 C425.0,241.2 433.7,234.2 440,232 C446.3,232.0 453.3,232.0 460,232 C466.7,232.7 474.2,234.3 480,236 C485.8,237.7 490.8,240.0 495,242 C499.2,244.0 502.3,245.3 505,248 C507.7,250.7 509.9,254.0 511,258 C511.5,262.0 511.5,267.8 511.5,272 C511.0,276.2 509.4,279.8 508,283 C506.6,286.2 504.8,288.5 503,291 C501.2,293.5 499.2,295.7 497,298 C494.8,300.3 492.2,302.8 490,305 C487.8,307.2 486.0,309.0 484,311 C482.0,313.0 480.0,315.2 478,317 C476.0,318.8 474.0,320.6 472,322 C470.0,323.4 468.0,324.8 466,325.5 C464.0,326.0 461.8,326.0 460,326 C458.2,325.4 456.5,323.8 455,322 C453.5,320.2 452.3,317.2 451,315 C449.7,312.8 448.7,310.7 447,309 C445.3,307.3 443.0,305.8 441,305 C439.0,304.2 437.0,304.0 435,304 C433.0,304.0 431.2,304.2 429,305 C426.8,305.8 424.3,307.5 422,308.5 C419.7,309.5 417.5,310.3 415,311 C412.5,311.7 409.2,312.5 407,312.5 C404.8,312.5 402.3,312.2 402,311 C402.0,309.8 403.3,307.0 405,305 C406.7,303.0 409.7,301.0 412,299 C414.3,297.0 416.8,295.0 419,293 C421.2,291.0 423.7,289.5 425,287 C426.3,284.5 427.0,281.5 427,278 C426.8,274.5 424.8,269.8 424,266 C423.2,262.2 422.3,258.5 422,255 C422.0,251.5 422.0,248.8 422,245Z" fill="#35a08f" stroke="#35a08f" stroke-width="3" stroke-linejoin="round"/>
<path d="M45.4,374.6 C49.3,374.6 64.8,374.6 69,374.6 C70.8,377.3 70.8,385.2 70.8,390.9 C70.8,396.6 69.0,404.8 69,409 C70.5,413.2 76.5,413.8 79.8,416.2 C83.1,418.6 86.8,419.8 88.9,423.4 C91.0,427.0 91.9,433.1 92.5,437.9 C92.5,442.7 92.5,448.2 92.5,452.4 C91.9,456.6 90.1,459.7 88.9,463.3 C87.7,466.9 86.1,470.5 85.2,474.1 C84.3,477.7 84.6,482.0 83.4,485 C82.2,488.0 80.4,490.7 78,492.2 C75.6,493.7 71.7,494.0 69,494 C66.3,493.4 62.9,491.3 61.7,488.6 C61.7,485.9 61.7,480.7 61.7,477.7 C60.8,474.7 59.0,472.9 56.3,470.5 C53.6,468.1 47.2,470.5 45.4,463.3 C45.4,447.3 45.4,389.4 45.4,374.6Z" fill="#35a08f" stroke="#35a08f" stroke-width="3" stroke-linejoin="round"/>
<path d="M112.5,153.8 C113.5,153.8 119.2,157.5 122.5,157.5 C125.8,157.5 129.2,155.5 132.5,153.8 C135.8,152.1 138.8,149.0 142.5,147.5 C146.2,146.0 151.7,146.7 155,145 C158.3,143.3 160.0,139.2 162.5,137.5 C165.0,135.8 166.7,135.0 170,135 C173.3,135.0 178.3,136.5 182.5,137.5 C186.7,138.5 191.2,140.1 195,141.2 C198.8,142.2 201.7,143.8 205,143.8 C208.3,143.8 211.7,141.4 215,141.2 C218.3,141.2 220.8,141.9 225,142.5 C229.2,143.1 235.8,144.2 240,145 C244.2,145.8 246.2,147.1 250,147.5 C253.8,147.5 258.3,147.5 262.5,147.5 C266.7,147.1 270.8,145.6 275,145 C279.2,144.4 281.7,144.0 287.5,143.8 C293.3,143.8 306.2,143.8 310,143.8 C310.0,147.5 310.0,162.5 310,166.2 C307.5,166.2 299.6,166.2 295,166.2 C290.4,165.8 286.7,164.4 282.5,163.8 C278.3,163.2 274.2,163.1 270,162.5 C265.8,161.9 261.2,160.8 257.5,160 C253.8,159.2 250.8,158.1 247.5,157.5 C244.2,156.9 241.2,156.6 237.5,156.2 C233.8,155.8 228.8,155.0 225,155 C221.2,155.0 218.3,155.4 215,156.2 C211.7,157.0 207.9,158.1 205,160 C202.1,161.9 199.6,165.0 197.5,167.5 C195.4,170.0 194.2,172.5 192.5,175 C190.8,177.5 188.8,179.6 187.5,182.5 C186.2,185.4 185.2,189.2 185,192.5 C185.0,195.8 185.4,199.6 186.2,202.5 C187.0,205.4 190.0,208.6 190,210 C189.8,211.2 187.5,211.2 185,211.2 C182.5,210.4 178.3,206.9 175,205 C171.7,203.1 168.3,201.9 165,200 C161.7,198.1 158.3,195.9 155,193.8 C151.7,191.7 147.9,189.4 145,187.5 C142.1,185.6 140.0,184.4 137.5,182.5 C135.0,180.6 132.5,178.7 130,176.2 C127.5,173.7 124.8,170.0 122.5,167.5 C120.2,165.0 117.9,163.5 116.2,161.2 C114.5,158.9 112.5,154.4 112.5,153.8Z" fill="#3592b8"/>
<path d="M220,245 C222.1,242.5 226.7,243.3 230,242.5 C233.3,241.7 236.7,241.1 240,240 C243.3,238.9 246.7,236.2 250,236.2 C253.3,236.2 256.7,238.7 260,240 C263.3,241.3 267.1,242.6 270,243.8 C272.9,245.1 275.8,244.8 277.5,247.5 C279.2,250.2 279.8,255.4 280,260 C280.0,264.6 278.8,271.2 278.8,275 C279.6,278.8 282.3,281.2 285,282.5 C287.7,282.5 290.6,282.5 295,282.5 C299.4,282.9 308.1,283.8 311.2,285 C313.8,286.2 313.6,287.9 313.8,290 C313.8,292.1 313.6,295.0 312.5,297.5 C311.4,300.0 309.2,302.5 307.5,305 C305.8,307.5 303.8,309.6 302.5,312.5 C301.2,315.4 302.5,320.8 300,322.5 C277.1,322.5 187.1,322.5 165,322.5 C165.0,320.4 166.7,314.2 167.5,310 C168.3,305.8 169.2,301.7 170,297.5 C170.8,293.3 170.8,288.3 172.5,285 C174.2,281.7 177.1,279.2 180,277.5 C182.9,275.8 186.2,275.8 190,275 C193.8,274.2 198.8,273.8 202.5,272.5 C206.2,271.2 210.0,270.0 212.5,267.5 C215.0,265.0 216.2,261.2 217.5,257.5 C218.8,253.8 217.9,247.5 220,245Z" fill="#3592b8"/>
<path d="M255.5,142.5 C258.4,140.0 267.2,140.8 273,140 C278.8,139.2 284.7,137.9 290.5,137.5 C296.3,137.5 302.2,137.5 308,137.5 C313.8,137.5 320.1,137.5 325.5,137.5 C330.9,137.1 335.1,135.8 340.5,135 C345.9,134.2 352.6,133.3 358,132.5 C363.4,131.7 368.0,130.8 373,130 C378.0,129.2 383.8,128.3 388,127.5 C392.2,126.7 394.7,125.0 398,125 C401.3,125.8 405.5,129.6 408,132.5 C410.5,135.4 412.6,139.2 413,142.5 C413.0,145.8 412.2,149.6 410.5,152.5 C408.8,155.4 405.9,157.9 403,160 C400.1,162.1 396.3,163.8 393,165 C389.7,166.2 385.9,166.7 383,167.5 C380.1,168.3 378.8,169.2 375.5,170 C372.2,170.8 366.8,171.7 363,172.5 C359.2,173.3 356.3,174.6 353,175 C349.7,175.0 346.3,175.0 343,175 C339.7,174.6 336.3,173.3 333,172.5 C329.7,171.7 326.3,170.8 323,170 C319.7,169.2 316.8,168.3 313,167.5 C309.2,166.7 304.7,165.2 300.5,165 C296.3,165.0 292.6,165.8 288,166.2 C283.4,166.6 278.4,167.3 273,167.5 C267.6,167.5 258.4,167.5 255.5,167.5 C255.5,163.3 255.5,147.1 255.5,142.5Z" fill="#3592b8"/>
<path d="M375.5,207.5 C378.4,204.6 384.2,203.8 388,202.5 C391.8,201.2 394.7,200.0 398,200 C401.3,200.4 404.7,203.3 408,205 C411.3,206.7 415.5,207.9 418,210 C420.5,212.1 420.5,217.1 423,217.5 C425.5,217.5 429.7,214.2 433,212.5 C436.3,210.8 438.8,208.8 443,207.5 C447.2,206.2 453.4,205.4 458,205 C462.6,205.0 468.0,205.0 470.5,205 C473.0,205.8 473.0,208.3 473,210 C471.8,211.7 467.2,213.8 463,215 C458.8,216.2 452.2,216.7 448,217.5 C443.8,218.3 441.3,218.8 438,220 C434.7,221.2 430.9,222.5 428,225 C425.1,227.5 421.8,230.8 420.5,235 C420.5,239.2 420.5,245.8 420.5,250 C421.8,254.2 426.3,256.2 428,260 C429.7,263.8 430.5,270.0 430.5,272.5 C429.2,275.0 424.2,275.0 420.5,275 C416.8,275.0 411.8,273.8 408,272.5 C404.2,271.2 401.3,269.2 398,267.5 C394.7,265.8 390.9,264.6 388,262.5 C385.1,260.4 382.6,257.9 380.5,255 C378.4,252.1 376.8,248.8 375.5,245 C374.2,241.2 373.8,236.7 373,232.5 C372.2,228.3 370.5,224.2 370.5,220 C370.9,215.8 372.6,210.4 375.5,207.5Z" fill="#3592b8"/>
<path d="M354.2,197.5 C355.2,195.0 360.5,195.0 363,195 C365.5,195.4 368.4,197.5 369.2,200 C369.2,202.5 369.0,207.3 368,210 C367.0,212.7 364.9,215.6 363,216.2 C361.1,216.2 358.3,216.2 356.8,213.8 C355.3,210.7 354.2,200.6 354.2,197.5Z" fill="#3592b8"/>
<path d="M378,187.5 C378.8,185.4 382.8,182.9 385.5,182.5 C388.2,182.5 392.5,183.3 394.2,185 C395.5,186.7 395.5,190.6 395.5,192.5 C394.5,194.4 390.5,195.8 388,196.2 C385.5,196.2 382.2,196.2 380.5,195 C378.8,193.6 378.0,189.6 378,187.5Z" fill="#3592b8"/>
<path d="M490.5,185 C492.4,181.7 497.2,179.2 500.5,177.5 C503.8,175.8 507.6,175.4 510.5,175 C513.4,175.0 516.8,175.0 518,175 C518.0,182.5 518.0,212.1 518,220 C516.3,222.5 511.3,222.5 508,222.5 C504.7,222.5 500.7,222.1 498,220 C495.3,217.9 493.3,213.8 491.8,210 C490.3,206.2 489.4,201.7 489.2,197.5 C489.2,193.3 489.2,188.3 490.5,185Z" fill="#3592b8"/>
<path d="M255.5,250 C257.6,247.5 263.8,247.5 268,247.5 C272.2,247.9 276.8,250.0 280.5,252.5 C284.2,255.0 288.0,258.8 290.5,262.5 C293.0,266.2 294.2,270.4 295.5,275 C296.8,279.6 297.6,285.0 298,290 C298.0,295.0 298.0,299.6 298,305 C297.6,310.4 298.0,319.6 295.5,322.5 C288.4,322.5 262.2,322.5 255.5,322.5 C255.5,310.4 255.5,262.5 255.5,250Z" fill="#3592b8"/>
<path d="M493.5,187.5 C495.2,184.6 498.1,182.1 501,180 C503.9,177.9 507.2,177.5 511,175 C514.8,172.5 520.2,167.9 523.5,165 C526.8,162.1 528.5,160.0 531,157.5 C533.5,155.0 536.0,152.5 538.5,150 C541.0,147.5 543.5,145.0 546,142.5 C548.5,140.0 551.0,137.5 553.5,135 C556.0,132.5 558.5,130.0 561,127.5 C563.5,125.0 566.4,122.5 568.5,120 C570.6,117.5 571.4,115.0 573.5,112.5 C575.6,110.0 578.1,107.5 581,105 C583.9,102.5 581.0,98.8 591,97.5 C601.8,97.5 637.7,97.5 646,97.5 C646.0,99.6 643.5,106.2 641,110 C638.5,113.8 634.3,117.5 631,120 C627.7,122.5 624.3,123.8 621,125 C617.7,126.2 613.9,125.8 611,127.5 C608.1,129.2 605.2,131.7 603.5,135 C601.8,138.3 601.4,143.3 601,147.5 C601.0,151.7 601.0,155.8 601,160 C600.2,164.2 598.1,168.8 596,172.5 C593.9,176.2 591.0,178.8 588.5,182.5 C586.0,186.2 583.1,191.2 581,195 C578.9,198.8 577.7,201.7 576,205 C574.3,208.3 572.7,211.7 571,215 C569.3,218.3 567.7,222.1 566,225 C564.3,227.9 563.1,230.0 561,232.5 C558.9,235.0 556.4,237.9 553.5,240 C550.6,242.1 547.2,243.8 543.5,245 C539.8,246.2 534.8,247.5 531,247.5 C527.2,247.5 524.3,245.8 521,245 C517.7,244.2 514.3,242.9 511,242.5 C507.7,242.5 503.5,242.5 501,242.5 C498.5,241.2 496.0,237.5 496,235 C496.4,232.5 500.2,229.6 503.5,227.5 C506.8,225.4 511.8,224.2 516,222.5 C520.2,220.8 527.7,219.2 528.5,217.5 C528.5,215.8 524.3,212.9 521,212.5 C517.7,212.5 512.7,214.2 508.5,215 C504.3,215.8 498.9,217.5 496,217.5 C493.1,216.2 491.8,210.8 491,207.5 C491.0,204.2 491.0,200.8 491,197.5 C491.4,194.2 491.8,190.4 493.5,187.5Z" fill="#3592b8"/>
<path d="M463.5,240 C465.6,237.5 471.4,237.5 476,237.5 C480.6,237.9 486.4,240.4 491,242.5 C495.6,244.6 500.2,247.1 503.5,250 C506.8,252.9 509.3,255.8 511,260 C512.7,264.2 513.5,270.0 513.5,275 C513.1,280.0 511.0,285.8 508.5,290 C506.0,294.2 502.2,296.7 498.5,300 C494.8,303.3 490.2,306.7 486,310 C481.8,313.3 477.2,317.9 473.5,320 C469.8,322.1 465.2,322.5 463.5,322.5 C463.5,309.2 463.5,254.2 463.5,240Z" fill="#3592b8"/>
<path d="M175,273.5 C196.4,273.5 277.1,273.5 297.5,273.5 C297.5,280.2 297.5,302.7 297.5,313.5 C296.9,324.3 295.1,331.4 293.8,338.5 C292.6,345.6 291.3,350.6 290,356 C288.7,361.4 286.6,365.6 286.2,371 C286.2,376.4 287.5,382.7 287.5,388.5 C287.3,394.3 286.7,403.9 285,406 C283.3,406.0 280.0,403.9 277.5,401 C275.0,398.1 272.9,392.7 270,388.5 C267.1,384.3 264.2,379.3 260,376 C255.8,372.7 250.0,369.8 245,368.5 C240.0,368.5 235.0,368.5 230,368.5 C225.0,368.5 219.2,368.5 215,368.5 C210.8,368.1 208.3,366.8 205,366 C201.7,365.2 197.5,365.2 195,363.5 C192.5,361.8 190.8,359.3 190,356 C190.0,352.7 190.0,346.4 190,343.5 C188.8,340.6 185.8,340.2 182.5,338.5 C179.2,336.8 172.5,336.4 170,333.5 C167.5,330.6 168.3,325.6 167.5,321 C166.7,316.4 165.3,311.4 165,306 C165.0,300.6 165.0,292.9 165.5,288.5 C166.1,284.1 167.2,282.3 168.8,279.8 C170.4,277.3 168.8,274.6 175,273.5Z" fill="#3592b8"/>
<path d="M92.5,326 C94.2,324.8 103.8,324.8 107.5,324.8 C111.2,325.2 114.6,326.6 115,328.5 C115.0,330.4 112.9,334.8 110,336 C107.1,336.0 100.4,336.0 97.5,336 C94.6,334.3 92.5,327.9 92.5,326Z" fill="#3592b8"/>
<path d="M125,321 C127.9,318.9 135.0,319.3 140,318.5 C145.0,317.7 150.4,316.0 155,316 C159.6,316.0 164.2,316.8 167.5,318.5 C170.8,320.2 172.9,323.1 175,326 C177.1,328.9 177.5,333.5 180,336 C182.5,338.5 188.3,336.8 190,341 C190.0,345.2 190.0,357.2 190,361 C188.3,363.5 183.8,363.5 180,363.5 C176.2,363.5 171.7,363.1 167.5,361 C163.3,358.9 159.2,353.9 155,351 C150.8,348.1 146.7,345.6 142.5,343.5 C138.3,341.4 133.3,340.6 130,338.5 C126.7,336.4 123.3,333.9 122.5,331 C122.5,328.1 122.5,323.1 125,321Z" fill="#3592b8"/>
<path d="M255.5,273.5 C262.6,273.5 290.5,273.5 298,273.5 C300.5,275.6 300.5,281.4 300.5,286 C300.5,290.6 298.8,296.0 298,301 C297.2,306.0 295.9,311.0 295.5,316 C295.5,321.0 295.5,326.0 295.5,331 C295.1,336.0 294.2,341.4 293,346 C291.8,350.6 289.2,354.3 288,358.5 C286.8,362.7 285.5,367.2 285.5,371 C285.5,374.8 287.2,377.7 288,381 C288.8,384.3 290.5,387.7 290.5,391 C290.5,394.3 289.2,398.5 288,401 C286.8,403.5 284.7,406.0 283,406 C281.3,405.6 279.7,401.8 278,398.5 C276.3,395.2 274.7,389.8 273,386 C271.3,382.2 270.9,378.1 268,376 C265.1,373.9 257.6,376.0 255.5,373.5 C255.5,356.4 255.5,290.2 255.5,273.5Z" fill="#3592b8"/>
<path d="M325.5,438.5 C327.0,435.8 330.1,433.0 333,432.2 C335.9,432.2 340.5,432.2 343,433.5 C345.5,435.0 346.3,440.2 348,441 C349.7,441.0 350.9,438.5 353,438.5 C355.1,438.9 358.8,441.0 360.5,443.5 C362.2,446.0 363.0,450.6 363,453.5 C363.0,456.4 362.2,459.8 360.5,461 C358.8,461.0 355.5,461.0 353,461 C350.5,460.2 348.0,456.4 345.5,456 C343.0,456.0 340.9,458.5 338,458.5 C335.1,458.3 330.3,456.5 328,454.8 C325.7,453.1 324.6,451.2 324.2,448.5 C324.2,445.8 324.2,441.2 325.5,438.5Z" fill="#3592b8"/>
<path d="M350.5,473.5 C351.8,471.8 355.1,471.0 358,471 C360.9,471.4 365.9,473.5 368,476 C370.1,478.5 370.5,483.5 370.5,486 C370.1,488.5 368.0,490.6 365.5,491 C363.0,491.0 358.0,490.2 355.5,488.5 C353.0,486.8 351.3,483.5 350.5,481 C350.5,478.5 350.5,475.2 350.5,473.5Z" fill="#3592b8"/>
<path d="M463.5,245 C466.4,240.0 476.0,240.0 481,240 C486.0,240.4 490.6,244.2 493.5,247.5 C496.4,250.8 496.8,256.2 498.5,260 C500.2,263.8 503.1,266.2 503.5,270 C503.5,273.8 502.7,278.3 501,282.5 C499.3,286.7 496.4,290.8 493.5,295 C490.6,299.2 486.8,303.8 483.5,307.5 C480.2,311.2 476.8,315.4 473.5,317.5 C470.2,319.6 465.2,320.0 463.5,320 C463.5,307.9 463.5,258.3 463.5,245Z" fill="#3592b8"/>
<path d="M325,442.5 C325.6,439.8 327.9,437.6 330,436.2 C332.1,434.8 335.2,433.8 337.5,433.8 C339.8,434.0 342.6,435.6 343.8,437.5 C345.0,439.4 345.0,442.1 345,445 C344.8,447.9 343.8,452.7 342.5,455 C341.2,457.3 339.4,458.4 337.5,458.8 C335.6,458.8 333.1,458.6 331.2,457.5 C329.3,456.4 327.2,455.0 326.2,452.5 C325.2,450.0 325.0,445.2 325,442.5Z" fill="#3592b8"/>
<path d="M347.5,440 C348.3,438.8 351.7,438.8 353.8,438.8 C355.9,439.4 358.6,441.5 360,443.8 C361.4,446.1 362.3,449.6 362.5,452.5 C362.5,455.4 362.0,459.3 361.2,461.2 C360.4,463.1 358.9,463.8 357.5,463.8 C356.1,463.4 353.9,460.9 352.5,458.8 C351.1,456.7 349.6,454.3 348.8,451.2 C348.0,448.1 347.5,442.1 347.5,440Z" fill="#3592b8"/>
<path d="M351.2,472.5 C352.0,471.4 354.1,471.2 356.2,471.2 C358.3,471.8 361.5,474.7 363.8,476.2 C366.1,477.7 368.3,478.5 370,480 C371.7,481.5 373.4,483.3 373.8,485 C373.8,486.7 373.6,489.0 372.5,490 C371.4,491.0 369.4,491.2 367.5,491.2 C365.6,490.8 363.3,488.9 361.2,487.5 C359.1,486.1 356.7,484.2 355,482.5 C353.3,480.8 351.8,479.2 351.2,477.5 C351.2,475.8 351.2,473.6 351.2,472.5Z" fill="#3592b8"/>
<path d="M422,245 C425.0,241.2 433.7,234.2 440,232 C446.3,232.0 453.3,232.0 460,232 C466.7,232.7 474.2,234.3 480,236 C485.8,237.7 490.8,240.0 495,242 C499.2,244.0 502.3,245.3 505,248 C507.7,250.7 509.9,254.0 511,258 C511.5,262.0 511.5,267.8 511.5,272 C511.0,276.2 509.4,279.8 508,283 C506.6,286.2 504.8,288.5 503,291 C501.2,293.5 499.2,295.7 497,298 C494.8,300.3 492.2,302.8 490,305 C487.8,307.2 486.0,309.0 484,311 C482.0,313.0 480.0,315.2 478,317 C476.0,318.8 474.0,320.6 472,322 C470.0,323.4 468.0,324.8 466,325.5 C464.0,326.0 461.8,326.0 460,326 C458.2,325.4 456.5,323.8 455,322 C453.5,320.2 452.3,317.2 451,315 C449.7,312.8 448.7,310.7 447,309 C445.3,307.3 443.0,305.8 441,305 C439.0,304.2 437.0,304.0 435,304 C433.0,304.0 431.2,304.2 429,305 C426.8,305.8 424.3,307.5 422,308.5 C419.7,309.5 417.5,310.3 415,311 C412.5,311.7 409.2,312.5 407,312.5 C404.8,312.5 402.3,312.2 402,311 C402.0,309.8 403.3,307.0 405,305 C406.7,303.0 409.7,301.0 412,299 C414.3,297.0 416.8,295.0 419,293 C421.2,291.0 423.7,289.5 425,287 C426.3,284.5 427.0,281.5 427,278 C426.8,274.5 424.8,269.8 424,266 C423.2,262.2 422.3,258.5 422,255 C422.0,251.5 422.0,248.8 422,245Z" fill="#3592b8"/>
<path d="M45.4,374.6 C49.3,374.6 64.8,374.6 69,374.6 C70.8,377.3 70.8,385.2 70.8,390.9 C70.8,396.6 69.0,404.8 69,409 C70.5,413.2 76.5,413.8 79.8,416.2 C83.1,418.6 86.8,419.8 88.9,423.4 C91.0,427.0 91.9,433.1 92.5,437.9 C92.5,442.7 92.5,448.2 92.5,452.4 C91.9,456.6 90.1,459.7 88.9,463.3 C87.7,466.9 86.1,470.5 85.2,474.1 C84.3,477.7 84.6,482.0 83.4,485 C82.2,488.0 80.4,490.7 78,492.2 C75.6,493.7 71.7,494.0 69,494 C66.3,493.4 62.9,491.3 61.7,488.6 C61.7,485.9 61.7,480.7 61.7,477.7 C60.8,474.7 59.0,472.9 56.3,470.5 C53.6,468.1 47.2,470.5 45.4,463.3 C45.4,447.3 45.4,389.4 45.4,374.6Z" fill="#3592b8"/>
<path d="M280,255 C281.1,253.8 285.0,253.8 287.5,253.75 C290.0,254.4 293.1,256.5 295,258.75 C296.9,261.0 298.3,264.4 298.75,267.5 C298.8,270.6 298.5,275.4 297.5,277.5 C296.5,279.6 294.4,280.0 292.5,280 C290.6,280.0 287.9,279.0 286.25,277.5 C284.6,276.0 283.4,273.5 282.5,271.25 C281.6,269.0 281.0,266.5 280.6,263.75 C280.2,261.0 280.0,256.7 280,255Z" fill="#35a08f" stroke="#35a08f" stroke-width="10" stroke-linejoin="round"/>
<path d="M430,277 C430.5,275.0 433.2,275.0 436,275 C438.8,275.5 445.2,277.8 447,280 C447.0,282.2 447.0,286.2 447,288 C445.8,289.8 442.3,290.8 440,291 C437.7,291.0 434.7,291.0 433,289 C431.3,286.7 430.0,279.3 430,277Z" fill="#35a08f" stroke="#35a08f" stroke-width="10" stroke-linejoin="round"/>
<path d="M157,272 C158.8,270.0 164.2,268.0 166,268 C167.8,269.3 167.8,276.0 168,280 C168.0,284.0 167.0,288.3 167,292 C167.2,295.7 167.3,299.3 169,302 C170.7,304.7 173.7,306.5 177,308 C180.3,309.5 185.5,309.8 189,311 C192.5,312.2 197.8,313.8 198,315 C198.0,316.2 194.3,317.3 190,318 C185.7,318.7 177.3,319.0 172,319 C166.7,319.0 162.5,318.3 158,318 C153.5,317.7 148.8,317.7 145,317 C141.2,316.3 135.8,315.3 135,314 C135.0,312.7 137.5,310.3 140,309 C142.5,307.7 147.5,307.5 150,306 C152.5,304.5 154.2,302.7 155,300 C155.0,297.3 155.0,293.3 155,290 C155.0,286.7 155.0,283.0 155,280 C155.3,277.0 155.2,274.0 157,272Z" fill="#35a08f" stroke="#35a08f" stroke-width="10" stroke-linejoin="round"/>
<path d="M280,255 C281.1,253.8 285.0,253.8 287.5,253.75 C290.0,254.4 293.1,256.5 295,258.75 C296.9,261.0 298.3,264.4 298.75,267.5 C298.8,270.6 298.5,275.4 297.5,277.5 C296.5,279.6 294.4,280.0 292.5,280 C290.6,280.0 287.9,279.0 286.25,277.5 C284.6,276.0 283.4,273.5 282.5,271.25 C281.6,269.0 281.0,266.5 280.6,263.75 C280.2,261.0 280.0,256.7 280,255Z" fill="#55b59e" stroke="#55b59e" stroke-width="7" stroke-linejoin="round"/>
<path d="M430,277 C430.5,275.0 433.2,275.0 436,275 C438.8,275.5 445.2,277.8 447,280 C447.0,282.2 447.0,286.2 447,288 C445.8,289.8 442.3,290.8 440,291 C437.7,291.0 434.7,291.0 433,289 C431.3,286.7 430.0,279.3 430,277Z" fill="#55b59e" stroke="#55b59e" stroke-width="7" stroke-linejoin="round"/>
<path d="M157,272 C158.8,270.0 164.2,268.0 166,268 C167.8,269.3 167.8,276.0 168,280 C168.0,284.0 167.0,288.3 167,292 C167.2,295.7 167.3,299.3 169,302 C170.7,304.7 173.7,306.5 177,308 C180.3,309.5 185.5,309.8 189,311 C192.5,312.2 197.8,313.8 198,315 C198.0,316.2 194.3,317.3 190,318 C185.7,318.7 177.3,319.0 172,319 C166.7,319.0 162.5,318.3 158,318 C153.5,317.7 148.8,317.7 145,317 C141.2,316.3 135.8,315.3 135,314 C135.0,312.7 137.5,310.3 140,309 C142.5,307.7 147.5,307.5 150,306 C152.5,304.5 154.2,302.7 155,300 C155.0,297.3 155.0,293.3 155,290 C155.0,286.7 155.0,283.0 155,280 C155.3,277.0 155.2,274.0 157,272Z" fill="#55b59e" stroke="#55b59e" stroke-width="7" stroke-linejoin="round"/>
<path d="M280,255 C281.1,253.8 285.0,253.8 287.5,253.75 C290.0,254.4 293.1,256.5 295,258.75 C296.9,261.0 298.3,264.4 298.75,267.5 C298.8,270.6 298.5,275.4 297.5,277.5 C296.5,279.6 294.4,280.0 292.5,280 C290.6,280.0 287.9,279.0 286.25,277.5 C284.6,276.0 283.4,273.5 282.5,271.25 C281.6,269.0 281.0,266.5 280.6,263.75 C280.2,261.0 280.0,256.7 280,255Z" fill="#9de8b5" stroke="#9de8b5" stroke-width="4" stroke-linejoin="round"/>
<path d="M430,277 C430.5,275.0 433.2,275.0 436,275 C438.8,275.5 445.2,277.8 447,280 C447.0,282.2 447.0,286.2 447,288 C445.8,289.8 442.3,290.8 440,291 C437.7,291.0 434.7,291.0 433,289 C431.3,286.7 430.0,279.3 430,277Z" fill="#9de8b5" stroke="#9de8b5" stroke-width="4" stroke-linejoin="round"/>
<path d="M157,272 C158.8,270.0 164.2,268.0 166,268 C167.8,269.3 167.8,276.0 168,280 C168.0,284.0 167.0,288.3 167,292 C167.2,295.7 167.3,299.3 169,302 C170.7,304.7 173.7,306.5 177,308 C180.3,309.5 185.5,309.8 189,311 C192.5,312.2 197.8,313.8 198,315 C198.0,316.2 194.3,317.3 190,318 C185.7,318.7 177.3,319.0 172,319 C166.7,319.0 162.5,318.3 158,318 C153.5,317.7 148.8,317.7 145,317 C141.2,316.3 135.8,315.3 135,314 C135.0,312.7 137.5,310.3 140,309 C142.5,307.7 147.5,307.5 150,306 C152.5,304.5 154.2,302.7 155,300 C155.0,297.3 155.0,293.3 155,290 C155.0,286.7 155.0,283.0 155,280 C155.3,277.0 155.2,274.0 157,272Z" fill="#9de8b5" stroke="#9de8b5" stroke-width="4" stroke-linejoin="round"/>
<path d="M280,255 C281.1,253.8 285.0,253.8 287.5,253.75 C290.0,254.4 293.1,256.5 295,258.75 C296.9,261.0 298.3,264.4 298.75,267.5 C298.8,270.6 298.5,275.4 297.5,277.5 C296.5,279.6 294.4,280.0 292.5,280 C290.6,280.0 287.9,279.0 286.25,277.5 C284.6,276.0 283.4,273.5 282.5,271.25 C281.6,269.0 281.0,266.5 280.6,263.75 C280.2,261.0 280.0,256.7 280,255Z" fill="#cdfbcd"/>
<path d="M430,277 C430.5,275.0 433.2,275.0 436,275 C438.8,275.5 445.2,277.8 447,280 C447.0,282.2 447.0,286.2 447,288 C445.8,289.8 442.3,290.8 440,291 C437.7,291.0 434.7,291.0 433,289 C431.3,286.7 430.0,279.3 430,277Z" fill="#cdfbcd"/>
<path d="M157,272 C158.8,270.0 164.2,268.0 166,268 C167.8,269.3 167.8,276.0 168,280 C168.0,284.0 167.0,288.3 167,292 C167.2,295.7 167.3,299.3 169,302 C170.7,304.7 173.7,306.5 177,308 C180.3,309.5 185.5,309.8 189,311 C192.5,312.2 197.8,313.8 198,315 C198.0,316.2 194.3,317.3 190,318 C185.7,318.7 177.3,319.0 172,319 C166.7,319.0 162.5,318.3 158,318 C153.5,317.7 148.8,317.7 145,317 C141.2,316.3 135.8,315.3 135,314 C135.0,312.7 137.5,310.3 140,309 C142.5,307.7 147.5,307.5 150,306 C152.5,304.5 154.2,302.7 155,300 C155.0,297.3 155.0,293.3 155,290 C155.0,286.7 155.0,283.0 155,280 C155.3,277.0 155.2,274.0 157,272Z" fill="#cdfbcd"/>
<path d="M177.5,330 C179.4,328.8 184.2,328.8 187.5,328.75 C190.8,329.2 195.4,330.4 197.5,332.5 C199.6,334.6 200.0,338.5 200,341.25 C199.6,344.0 197.5,347.3 195,348.75 C192.5,350.0 187.7,350.0 185,350 C182.3,349.4 180.2,347.1 178.75,345 C177.3,342.9 176.5,340.0 176.25,337.5 C176.2,335.0 176.2,331.5 177.5,330Z" fill="#55b59e" stroke="#35a08f" stroke-width="3"/>
<path d="M182.5,336.25 C183.3,336.2 186.5,336.2 187.5,336.25 C188.5,337.3 188.8,341.1 188.75,342.5 C188.3,343.9 186.0,344.4 185,344.4 C184.0,344.2 182.9,342.6 182.5,341.25 C182.5,339.9 182.5,337.1 182.5,336.25Z" fill="#9de8b5"/>
<path d="M430.5,328.5 C431.8,326.8 437.4,326.0 440.5,326 C443.6,326.4 448.4,329.3 449.2,331 C449.2,332.7 448.2,335.2 445.5,336 C442.8,336.0 435.5,336.0 433,336 C430.5,334.8 430.5,330.2 430.5,328.5Z" fill="#9de8b5"/>
<path d="M185,283.8 C185.4,281.7 190.8,279.9 195,278.8 C199.2,277.8 205.0,277.9 210,277.5 C215.0,277.1 220.0,276.6 225,276.2 C230.0,275.8 236.7,275.0 240,275 C243.3,275.6 244.6,277.5 245,280 C245.0,282.5 245.0,287.9 242.5,290 C240.0,292.1 235.4,292.1 230,292.5 C224.6,292.5 216.2,292.5 210,292.5 C203.8,292.3 196.7,292.5 192.5,291.2 C188.3,289.8 185.0,285.9 185,283.8Z" fill="#0e70b2"/>
<path d="M368,147.5 C370.5,145.8 378.0,143.8 383,142.5 C388.0,141.2 394.2,140.0 398,140 C401.8,140.4 404.7,142.9 405.5,145 C405.5,147.1 405.5,150.8 403,152.5 C400.5,154.2 395.1,154.6 390.5,155 C385.9,155.0 379.2,155.0 375.5,155 C371.8,154.6 369.2,153.8 368,152.5 C368.0,151.2 368.0,149.2 368,147.5Z" fill="#0e70b2"/>
<path d="M380.5,222.5 C382.8,220.4 389.2,220.0 393,220 C396.8,220.4 400.5,222.5 403,225 C405.5,227.5 406.8,231.2 408,235 C409.2,238.8 410.5,244.2 410.5,247.5 C410.1,250.8 408.0,253.3 405.5,255 C403.0,256.7 398.4,257.5 395.5,257.5 C392.6,257.1 390.1,255.0 388,252.5 C385.9,250.0 384.5,245.8 383,242.5 C381.5,239.2 379.6,235.8 379.2,232.5 C379.2,229.2 379.2,224.6 380.5,222.5Z" fill="#0e70b2"/>
<path d="M408,220 C409.2,218.6 414.2,218.3 418,217.5 C421.8,216.7 427.2,215.0 430.5,215 C433.8,215.0 437.6,215.8 438,217.5 C438.0,219.2 435.9,223.3 433,225 C430.1,226.7 424.2,227.3 420.5,227.5 C416.8,227.5 412.6,227.4 410.5,226.2 C408.4,224.9 408.0,221.4 408,220Z" fill="#0e70b2"/>
<path d="M430.5,213.8 C431.5,211.7 435.5,210.2 438,210 C440.5,210.0 444.2,210.4 445.5,212.5 C445.5,214.6 445.5,220.4 445.5,222.5 C444.2,224.6 440.3,225.0 438,225 C435.7,225.0 433.1,224.4 431.8,222.5 C430.6,220.6 430.5,215.9 430.5,213.8Z" fill="#0e70b2"/>
<path d="M505.5,185 C507.2,182.1 515.9,180.0 518,180 C518.0,182.5 518.0,197.1 518,200 C516.3,200.0 510.1,200.0 508,197.5 C505.9,195.0 505.5,187.9 505.5,185Z" fill="#0e70b2"/>
<path d="M506,195 C506.0,192.3 508.5,185.8 511,182.5 C513.5,179.2 517.7,177.9 521,175 C524.3,172.1 527.7,168.3 531,165 C534.3,161.7 537.7,157.9 541,155 C544.3,152.1 547.7,150.4 551,147.5 C554.3,144.6 558.1,140.4 561,137.5 C563.9,134.6 566.0,132.9 568.5,130 C571.0,127.1 575.2,120.0 576,120 C576.0,120.4 573.5,130.4 573.5,132.5 C574.8,132.5 580.6,132.5 583.5,132.5 C586.4,133.3 589.8,134.6 591,137.5 C591.0,140.4 591.0,145.8 591,150 C590.2,154.2 587.7,158.8 586,162.5 C584.3,166.2 582.7,169.2 581,172.5 C579.3,175.8 577.7,179.2 576,182.5 C574.3,185.8 572.7,189.6 571,192.5 C569.3,195.4 568.9,198.3 566,200 C563.1,201.7 557.7,202.5 553.5,202.5 C549.3,202.5 545.2,200.6 541,200 C536.8,199.4 532.7,199.0 528.5,198.8 C524.3,198.8 519.8,198.8 516,198.8 C512.2,198.2 506.8,197.7 506,195Z" fill="#0e70b2"/>
<path d="M471,280 C473.9,278.3 477.2,275.8 481,275 C484.8,275.0 490.2,275.0 493.5,275 C496.8,276.2 500.6,279.6 501,282.5 C501.0,285.4 498.5,289.6 496,292.5 C493.5,295.4 489.3,297.1 486,300 C482.7,302.9 479.8,307.5 476,310 C472.2,312.5 465.6,315.0 463.5,315 C463.5,310.8 463.5,290.8 463.5,285 C464.8,280.0 468.1,281.7 471,280Z" fill="#0e70b2"/>
<path d="M185,273.5 C195.4,273.5 239.6,273.5 250,273.5 C250.0,275.6 250.0,283.1 247.5,286 C243.3,288.9 232.9,290.2 225,291 C217.1,291.0 206.2,291.0 200,291 C193.8,290.2 190.0,288.9 187.5,286 C185.0,283.1 185.0,275.6 185,273.5Z" fill="#0e70b2"/>
<path d="M210,356 C212.1,356.0 220.8,356.0 225,356 C229.2,356.6 235.0,358.6 235,359.8 C235.0,361.1 228.8,363.1 225,363.5 C221.2,363.5 215.0,363.4 212.5,362.2 C210.0,360.9 210.0,357.0 210,356Z" fill="#0e70b2"/>
<path d="M463.5,280 C465.6,275.0 472.2,276.2 476,275 C479.8,273.8 482.7,272.5 486,272.5 C489.3,272.5 493.9,273.3 496,275 C498.1,276.7 498.5,280.0 498.5,282.5 C498.1,285.0 495.6,287.5 493.5,290 C491.4,292.5 488.9,294.6 486,297.5 C483.1,300.4 479.8,304.2 476,307.5 C472.2,310.8 465.6,317.5 463.5,317.5 C463.5,312.9 463.5,287.1 463.5,280Z" fill="#0e70b2"/>
<path d="M243.75,253.75 C247.3,252.5 252.7,252.5 256.25,252.5 C259.8,252.7 263.1,253.3 265,255 C266.9,256.7 267.5,259.8 267.5,262.5 C267.5,265.2 265.0,268.8 265,271.25 C265.4,273.8 267.5,275.6 270,277.5 C272.5,279.4 276.7,280.8 280,282.5 C283.3,284.2 287.5,285.0 290,287.5 C292.5,290.0 294.0,293.8 295,297.5 C296.0,301.2 296.2,305.8 296.25,310 C296.2,314.2 295.6,317.5 295,322.5 C294.4,327.5 293.8,335.4 292.5,340 C291.2,344.6 291.2,348.0 287.5,350 C283.8,352.0 276.2,352.0 270,352 C263.8,352.0 255.0,351.2 250,350 C245.0,348.8 242.1,347.5 240,345 C237.9,342.5 237.5,338.3 237.5,335 C237.7,331.7 240.2,329.2 241.25,325 C242.3,320.8 243.1,315.0 243.75,310 C244.4,305.0 245.0,299.0 245,295 C244.6,291.0 242.9,288.3 241.25,286.25 C239.6,284.2 236.9,284.6 235,282.5 C233.1,280.4 231.0,276.7 230,273.75 C229.0,270.8 228.8,267.1 228.75,265 C229.6,262.9 232.5,263.1 235,261.25 C237.5,259.4 240.2,255.2 243.75,253.75Z" fill="#0e70b2"/>
<path d="M476.9,273.4 C479.0,271.9 485.8,271.9 489.4,271.9 C493.0,272.4 496.9,274.8 498.75,276.6 C500.3,278.4 500.3,281.0 500.3,282.8 C499.3,284.6 495.4,285.4 492.5,287.5 C489.6,289.6 485.7,292.7 483.1,295.3 C480.5,297.9 478.7,300.5 476.9,303.1 C475.1,305.7 473.8,308.8 472.2,310.9 C470.6,313.0 469.3,315.3 467.5,315.6 C465.7,315.6 462.6,314.3 461.25,312.5 C459.9,310.7 459.7,306.8 459.7,304.7 C460.7,302.6 465.2,301.8 467.5,300 C469.8,298.2 472.2,296.4 473.75,293.75 C475.3,291.1 476.4,287.8 476.9,284.4 C476.9,281.0 476.9,275.5 476.9,273.4Z" fill="#0e70b2"/>
<path d="M45.4,387.2 C48.4,387.2 59.9,389.7 63.5,394.5 C67.1,399.3 65.0,411.7 67.1,416.2 C69.2,420.7 72.9,419.2 76.2,421.6 C79.5,424.0 85.0,426.8 87.1,430.7 C88.9,434.6 88.9,440.4 88.9,445.2 C88.9,450.0 88.3,455.4 87.1,459.6 C85.9,463.8 84.0,468.4 81.6,470.5 C79.2,472.3 75.0,472.3 72.6,472.3 C70.2,471.1 68.9,467.2 67.1,463.3 C65.3,459.4 63.8,454.2 61.7,448.8 C59.6,443.4 57.2,436.1 54.5,430.7 C51.8,425.3 46.9,423.4 45.4,416.2 C45.4,408.9 45.4,390.8 45.4,387.2Z" fill="#0e70b2"/>
<path d="M200,281.2 C201.7,280.4 206.2,279.6 210,279.5 C213.8,279.5 220.0,279.8 222.5,280.5 C225.0,281.2 225.0,282.7 225,283.8 C224.6,284.9 223.3,286.5 220,287 C216.7,287.0 208.3,287.0 205,287 C201.7,286.6 200.8,285.5 200,284.5 C200.0,283.5 200.0,282.0 200,281.2Z" fill="#0b5896"/>
<path d="M388,235 C389.5,232.5 395.1,232.5 398,232.5 C400.9,232.9 403.8,235.0 405.5,237.5 C407.2,240.0 408.0,244.8 408,247.5 C407.6,250.2 405.3,252.8 403,253.8 C400.7,253.8 396.5,253.8 394.2,253.8 C391.9,252.8 390.2,250.6 389.2,247.5 C388.2,244.4 388.0,237.5 388,235Z" fill="#0b5896"/>
<path d="M200,278.5 C201.7,277.2 210.8,277.2 215,277.2 C219.2,277.6 224.2,279.5 225,281 C225.0,282.5 223.3,285.2 220,286 C216.7,286.0 208.3,286.0 205,286 C201.7,284.8 200.0,280.0 200,278.5Z" fill="#0b5896"/>
<path d="M250,283.75 C252.3,282.5 257.9,282.5 262.5,282.5 C267.1,282.7 273.3,283.3 277.5,285 C281.7,286.7 285.4,289.6 287.5,292.5 C289.6,295.4 290.0,299.2 290,302.5 C290.0,305.8 287.9,309.2 287.5,312.5 C287.5,315.8 287.5,319.6 287.5,322.5 C286.7,325.4 284.6,328.1 282.5,330 C280.4,331.9 277.9,333.8 275,333.75 C272.1,333.8 268.1,331.5 265,330 C261.9,328.5 258.8,326.7 256.25,325 C253.8,323.3 251.7,322.1 250,320 C248.3,317.9 246.7,315.8 246.25,312.5 C246.2,309.2 247.1,303.8 247.5,300 C247.9,296.2 248.3,292.7 248.75,290 C249.2,287.3 248.8,285.0 250,283.75Z" fill="#0b5896"/>
<path d="M67.1,430.7 C69.2,428.9 76.8,428.9 79.8,428.9 C82.8,430.1 84.3,433.4 85.2,437.9 C85.2,442.4 85.2,451.8 85.2,456 C84.3,460.2 81.9,462.4 79.8,463.3 C77.7,463.3 74.7,463.3 72.6,461.4 C70.5,459.0 68.0,453.9 67.1,448.8 C67.1,443.7 67.1,434.0 67.1,430.7Z" fill="#0b5896"/>
<path d="M47.2,396.3 C49.0,396.3 56.0,396.3 58.1,398.1 C59.9,399.9 59.9,404.1 59.9,407.1 C59.6,410.1 58.4,415.0 56.3,416.2 C54.2,416.2 48.7,416.2 47.2,414.4 C47.2,411.1 47.2,399.0 47.2,396.3Z" fill="#0b5896"/>
<path d="M258.75,292.5 C260.8,291.2 266.0,288.8 270,288.75 C274.0,288.8 280.2,290.6 282.5,292.5 C283.8,294.4 283.8,297.5 283.75,300 C282.9,302.5 279.8,305.4 277.5,307.5 C275.2,309.6 272.9,310.8 270,312.5 C267.1,314.2 262.9,316.9 260,317.5 C257.1,317.5 254.2,317.5 252.5,316.25 C250.8,315.0 250.0,312.3 250,310 C250.2,307.7 252.5,304.8 253.75,302.5 C255.0,300.2 256.7,297.9 257.5,296.25 C258.3,294.6 257.5,293.8 258.75,292.5Z" fill="#0c16a0"/>
<path d="M69.9,448.4 C70.9,448.4 75.1,448.4 76.2,449.3 C76.6,450.3 76.6,453.7 76.6,454.6 C75.6,454.6 71.5,454.6 70.4,454.6 C69.9,453.6 69.9,449.3 69.9,448.4Z" fill="#0c16a0"/>
<path d="M40,125 L50,125 L53.8,128.8 L55.6,132.5 L55.6,137.5 L57.5,141.2 L61.2,143.1 L66.2,143.1 L71.2,142.5 L75,141.2 L80,140 L85,140.6 L88.8,143.8 L93.8,146.9 L100,148.1 L105,149.4 L110,152.5 L113.8,156.2 L117.5,160 L122.5,163.8 L127.5,167.5 L132.5,171.2 L137.5,175 L142.5,180 L147.5,183.8 L152.5,187.5 L157.5,191.2 L162.5,195 L167.5,198.8 L172.5,202.5 L171.2,205 L177.5,208.8 L183.8,213.8 L190,217.5 L195,220 L200,218.8 L202.5,221.2 L201.2,223.8 L203.8,227.5 L208.8,230 L213.8,232.5 L217.5,237.5 L221.2,242.5 L225,250 L227.5,255 L232.5,257.5 L237.5,260 L243.8,262.5 L248.8,263.8 L250,267.5 L248.8,272.5 L246.2,277.5 L245,282.5 L241.2,288.8 L240,292.5 L240,297.5 L242.5,302.5 L242.5,307.5 L241.9,312.5 L241.2,317.5 L242.5,321.2 L240,325 L238.8,330 L237.5,337.5 L236.2,346 L235,353.5 L237.5,361 L242.5,368.5 L247.5,376 L255,381 L260,386 L265,391 L268.8,396 L272.5,401 L276.2,408.5 L278.8,416 L282.5,426 L285,433.5 L291.2,441 L297.5,446 L305,451 L310,455 L312,460 L315.5,467 L318,474.5 L318,484.5 L323,492 L330.5,502 L335.5,504.5 L340.5,504.5 L347,505 L353,504.5 L363,500.75 L373,498.25 L388,498.25 L398,497 L405.5,502 L413,505.75 L423,509.5 L430.5,513.25 L438,517 L440.5,520.75 L440.5,524.5 L433,527 L423,527 L413,522 L403,518.25 L393,515.75 L383,512 L373,508.25 L365.5,507 L358,509.5 L353,510.75 L345.5,510.75 L343.75,511.25 L340,522.5 L335,527.5 L330,530 L329.4,535 L333.75,537.5 L338.75,541.25 L340,547.5 L345,550 L350,555 L355,560 L358.75,567.5 L360,572.5 L356.25,577.5 L353.75,582.5 L355,587.5 L358,592 L360.5,602 L363,607 L368,604.5 L373,597 L375.5,592 L383,592 L390.5,594.5 L395.5,602 L398,612 L398,622 L403,629.5 L405.5,622 L408,612 L415.5,604.5 L420.5,609.5 L425.5,617 L433,624.5 L438,627 L435.5,619.5 L430.5,609.5 L428,602 L425.5,592 L423,582 L420.5,572 L418,562 L415,552.5 L420,555 L426.25,556.25 L432.5,561.25 L436.25,567.5 L437.5,572.5 L444,569.5 L452,568 L456.5,567 L454,562 L448,559 L444,557 L441,553 L439,549.5 L436.5,544 L434,539.5 L431.5,534 L430,530.5 L433,527 L444,524.5 L451.5,519.5 L461.5,517 L469,519.5 L476.5,522 L480,528 L482,535 L484,542 L486,547.5 L487.5,544 L487.75,537 L486.5,527 L486.5,518 L484,511 L479,506 L475,505 L467.5,502.5 L462.5,498.75 L460,495 L455,492.5 L450,491.25 L445,487.5 L440,483.75 L436.25,481.25 L432.5,478.75 L427.5,476.25 L421.25,473.75 L415,471.25 L408.75,468.75 L403.75,466.25 L408.75,463.75 L413.75,464 L419,463 L424,459 L428,456 L433,452.5 L438,451 L443,450.5 L447.5,447.5 L447.5,445 L446.25,440 L443.75,435 L440,430 L435,425 L430,421.25 L427.5,419 L423.75,411.25 L420,405 L416.25,400 L413.75,393.75 L408.75,388.75 L405,381.25 L405.6,373.75 L406.25,365 L408.75,356.25 L412.5,353.75 L418.75,351.25 L423.75,346.25 L426.25,348.75 L425,352.5 L422.5,356.25 L425,361.25 L430,365 L435,367.5 L441.25,370 L446.25,372.5 L445,380 L446.25,385 L450,391.25 L456.25,392.5 L462.5,393.75 L467.5,395 L465,392.5 L460,390 L455,386.25 L450,380 L448.75,375 L450,372.5 L456,372.5 L463.75,371.25 L466.25,375 L470,378.75 L472.5,382.5 L472.5,387.5 L475,391.25 L480,392.5 L482.5,390 L481.25,385 L477.5,380 L472.5,376.25 L467.5,371.25 L470,367.5 L475,365 L477.5,362.5 L478.75,365 L482.5,367.5 L487.5,370 L492.5,373.75 L496.25,378.75 L500,381.25 L502.5,378.75 L500,375 L495,370 L490,366.25 L485,363.75 L481.25,358.75 L476,356 L473.75,353.75 L476.25,352.5 L475,350 L470,346.25 L467.5,342.5 L466.25,340 L468.75,337.5 L472.5,336.25 L477.5,336.25 L482.5,338.75 L487.5,340 L492.5,337.5 L497.5,333.75 L500,331.25 L502.5,325 L508.75,323.75 L513.75,326.25 L516.25,330 L521.25,330 L527.5,327.5 L532.5,323.75 L537.5,320 L542.5,321.25 L545,325 L550,326.25 L555,327.5 L562.5,330 L570,330.6 L577.5,331.25 L585,332.5 L588.75,333.75 L590,337.5 L591.25,342.5 L592.5,347.5 L598.75,348.1 L605,347.5 L612.5,347.5 L617.5,346.9 L623.75,345 L630,345 L631.25,348.1 L627.5,351.25 L621.25,353.75 L615,357.5 L608.75,361.25 L601.25,365 L598.75,368.75 L600,375 L597.5,381.25 L596.25,386.25 L597.5,390 L595,397.5 L593.75,405 L591.25,425 L602.5,423.75 L617.5,421.25 L635,420 L636.25,425 L630,430 L625,435 L621.25,437.5 L625,442.5 L630,450 L632.5,457.5 L640,462.5 L642.5,467.5 L635,472.5 L630,477.5 L627.5,482.5 L630,487.5 L635,492.5 L647.5,495 L642.5,497.5 L632.5,500 L625,500 L621.25,495 L618.75,488.75 L615,482.5 L610,480 L606.25,482.5 L607.5,490 L612.5,497.5 L610,501.25 L602.5,505 L607.5,510 L615,512.5 L625,512.5 L632.5,517.5 L640,522.5 L650,526.25 L653.75,532.5 L652.5,542.5 L647.5,546.25 L650,555 L652.5,562.5 L660,567.5 L665,570 L670,575 L667.5,582.5 L657.5,583.75 L655,590 L665,592.5 L680,591.25 L695,590 L710,588.75 L700,595 L695,600 L697.5,605 L690,610 L695,612.5 L690,617.5 L695,620 L700,615 L705,607.5 L710,602.5 L717.5,600 L725,605 L730,610 L737.5,612.5 L740,617.5 L742.5,610 L750,612.5 L750,620 L752.5,630 L755,635 L765,640 L775,642.5 L782.5,647.5 L790,645 L800,642.5 L810,640 L820,640 L822.5,635 L825,630 L827.5,622.5 L828.75,610 L832.5,601.25 L840,598.75 L850,600 L856,601.25 L863,602.5 L870.5,605 L878,608.75 L888,613.75 L898,618.75 L905.5,622.5 L910.5,627.5 L914.25,633.75 L918,641 L924,646 L931,652 L945,655 L945,870 L40,870Z" fill="none" stroke="#666" stroke-width="1.35" stroke-linejoin="round"/>
<path d="M727.5,90 L727.5,100 L727.5,110 L723.75,125 L723.75,140 L720,150 L710,148.75 L700,151.25 L692.5,160 L688.75,167.5 L687.5,182.5 L687.5,200 L680,202.5 L675,210 L666.25,215 L665,220 L675,222.5 L680,230 L687.5,240 L692.5,250 L692.5,260 L697.5,272.5 L702.5,280 L715,290 L730,297.5 L745,303.75 L752.5,305 L765,306.25 L780,307.5 L795,308.75 L810,307.5 L815,306.25 L825,310 L840,313.75 L855,313.75 L867.5,310 L873.75,300 L885,295 L900,287.5 L910,281.25 L916,277.5 L931,268 L945,262 L945,90Z" fill="none" stroke="#666" stroke-width="1.35" stroke-linejoin="round"/>
<path d="M596.25,386.25 L601.25,383.75 L606.25,380 L610,376.25 L615,371.25 L620,366.25 L625,361.25 L630,356.25 L635,352.5 L640,350 L645,347.5 L650,345 L655,340 L660,333.75 L665,325 L670,321.25 L680,320 L687.5,322.5 L692.5,318.75 L700,316.25 L708,315.6 L719,320 L739,325 L749,330 L759,335 L779,337.5 L794,337.5 L789,340 L769,342.5 L749,347.5 L739,352.5 L751.5,360 L744,364 L719,362.5 L708,361.9 L698.75,362.5 L690,363.75 L685,365 L680,368.1 L672.5,367.5 L665,367.5 L658.75,365 L656.25,360 L653.75,357.5 L647.5,358.75 L642.5,360 L637.5,361.25 L631.25,361.25 L626.25,363.75 L620,371.25 L613.75,377.5 L608.75,382.5 L602.5,387.5 L597.5,390Z" fill="none" stroke="#666" stroke-width="1.35" stroke-linejoin="round"/>
<path d="M420,438.75 L422.5,435 L427.5,433.75 L431.25,436.25 L436.25,438.75 L438.75,443.75 L440,447.5 L437.5,450.6 L433.75,451.9 L430,453.75 L427.5,455 L426.25,452.5 L423.75,447.5 L421.25,443.75Z" fill="none" stroke="#666" stroke-width="1.35" stroke-linejoin="round"/>
<path d="M30,250 L50,255 L65,255 L70,262.5 L65,270 L57.5,275 L53.75,282.5 L55,287.5 L65,295 L80,302.5 L95,308.75 L110,313.75 L125,320 L137.5,327.5 L150,335 L162.5,345 L172.5,355 L180,362.5 L187.5,372.5 L192.5,380 L190,387.5 L187.5,397.5 L185,402.5 L180,400 L175,397 L170,392 L167,387 L165,382.5 L160,375 L150,370 L140,366 L130,362 L122,357 L112.5,355 L105,360 L100,367.5 L95,377.5 L90,387.5 L87.5,397.5 L87.5,405 L90,410 L97.5,415 L105,422.5 L112.5,427.5 L117.5,433 L119,440 L120,447.5 L122.5,456.25 L118.75,463.75 L112.5,463.75 L106.25,462.5 L100,465 L92.5,470 L88.75,477.5 L90,485 L90,492.5 L87.5,497.5 L81.25,501.25 L75,505 L70,510 L67.5,515 L67.5,522.5 L63.75,527.5 L58.75,529.4 L50,529.4 L30,529.4Z" fill="none" stroke="#666" stroke-width="1.35" stroke-linejoin="round"/>
<path d="M421.25,466.25 L430,461.25 L435,456.25 L442.5,454.4 L447.5,456.25 L450,461.25 L453.75,467.5 L460,472.5 L467.5,476.25 L477.5,478.75 L487.5,480 L490,485 L492.5,490 L492.5,497.5 L493.75,503.75 L495,510 L500,513.75 L507.5,515 L512.5,515 L513.75,520 L511.25,526.25 L506.25,527.5 L501.25,525 L497.5,520 L492.5,515 L488.75,510 L485,505 L480,500 L470,498.75 L463.75,497.5 L461.25,492.5 L457.5,488.75 L452.5,486.25 L447.5,481.25 L443.75,476.25 L438.75,471.25 L433.75,468.1 L428.75,466.9 L421.25,467.5Z" fill="none" stroke="#666" stroke-width="1.35" stroke-linejoin="round"/>
<path d="M457.5,702.5 L460,682.5 L462.5,687.5 L467.5,687.5 L467.5,677.5 L471.25,678.75 L472.5,686.25 L485,687.5 L487.5,682.5 L492.5,683.75 L492.5,690 L496.25,691.25 L497.5,697.5 L510,696.25 L520,693.75 L535,693.75 L537.5,697.5 L550,698.75 L557.5,701.25 L565,698.75 L572.5,698.75 L575,702.5 L573.75,711.25 L580,708.75 L590,705 L597.5,706.25 L602.5,701.25 L605,705 L602.5,715 L595,721.25 L585,721.25 L575,720 L562.5,721.25 L550,723.75 L540,725 L522.5,725 L521.25,717.5 L510,712.5 L500,710 L485,707.5 L472.5,706.25 L460,705Z" fill="none" stroke="#666" stroke-width="1.35" stroke-linejoin="round"/>
<path d="M677.5,647.5 L682.5,640 L692.5,632.5 L702.5,627.5 L706.25,630 L702.5,640 L697.5,650 L692.5,655 L685,660 L680,662.5 L677.5,657.5Z" fill="none" stroke="#666" stroke-width="1.35" stroke-linejoin="round"/>
<path d="M645,682.5 L650,670 L652.5,667.5 L652.5,677.5 L652.5,690 L648.75,695 L645,690Z" fill="none" stroke="#666" stroke-width="1.35" stroke-linejoin="round"/>
<path d="M632.5,696 L637,693.5 L641,694 L637,697.5Z" fill="none" stroke="#666" stroke-width="1.35" stroke-linejoin="round"/>
<path d="M660,610 L675,605 L695,603.75 L697.5,607.5 L682.5,610 L670,613.75 L661.25,613.75Z" fill="none" stroke="#666" stroke-width="1.35" stroke-linejoin="round"/>
<path d="M628,578 L632,577 L636,583 L641,589 L642,594 L638,595 L634,589 L630,584Z" fill="none" stroke="#666" stroke-width="1.35" stroke-linejoin="round"/>
<path d="M601,616 L606,614 L612,617 L610,622 L604,621Z" fill="none" stroke="#666" stroke-width="1.35" stroke-linejoin="round"/>
<path d="M580,440 L587.5,435 L600,432.5 L607.5,433.75 L610,440 L617.5,450 L620,456.25 L615,460 L607.5,458.75 L597.5,455 L590,451.25 L582.5,447.5Z" fill="none" stroke="#666" stroke-width="1.35" stroke-linejoin="round"/>
<path d="M580,487.5 L587.5,485 L595,487.5 L596.25,495 L595,505 L590,512.5 L585,512.5 L581.25,507.5 L582.5,500 L580,492.5Z" fill="none" stroke="#666" stroke-width="1.35" stroke-linejoin="round"/>
<path d="M620,540 L630,537.5 L640,540 L642.5,545 L637.5,548.75 L627.5,548.75 L620,545Z" fill="none" stroke="#666" stroke-width="1.35" stroke-linejoin="round"/>
<path d="M586.7,553.9 L593.75,550 L606.25,546.1 L604.7,550 L596.9,553.9 L587.5,557Z" fill="none" stroke="#666" stroke-width="1.35" stroke-linejoin="round"/>
<path d="M536.2,390 L542.5,389.4 L547.5,390 L551.2,392.5 L557.5,387.5 L558.8,390 L555,395 L553.8,400 L552.5,403.8 L548.8,401.2 L545,402.5 L542.5,401.2 L537.5,400 L536.9,395Z" fill="none" stroke="#666" stroke-width="1.35" stroke-linejoin="round"/>
<path d="M558.8,357.5 L562.5,355 L568.8,355 L572.5,358.1 L570,361.9 L565,362.5 L560,360Z" fill="none" stroke="#666" stroke-width="1.35" stroke-linejoin="round"/>
<path d="M570,380 L573.8,376.2 L580,373.8 L585,373.1 L587.5,376.2 L588.8,379.4 L585,381.2 L577.5,382.5 L571.2,381.9Z" fill="none" stroke="#666" stroke-width="1.35" stroke-linejoin="round"/>
<path d="M586,401 L590,399.5 L592.5,402 L589,405Z" fill="none" stroke="#666" stroke-width="1.35" stroke-linejoin="round"/>
<path d="M508.75,342.5 L512.5,336.25 L518.75,335 L523.75,338.75 L523.75,345 L520,348.75 L515,350 L510,346.25Z" fill="none" stroke="#666" stroke-width="1.35" stroke-linejoin="round"/>
<path d="M505,461.2 L508.8,458.8 L512.5,462.5 L515,467.5 L518.8,471.2 L517.5,473.8 L512.5,473.1 L510,470 L506.2,466.2Z" fill="none" stroke="#666" stroke-width="1.35" stroke-linejoin="round"/>
<path d="M432.5,447.5 L438.8,446.2 L446.2,445 L447.5,450 L442.5,452.5 L433.8,452.5Z" fill="none" stroke="#666" stroke-width="1.35" stroke-linejoin="round"/>
<path d="M450,446.2 L455,443.8 L456.9,446.2 L452.5,449.4Z" fill="none" stroke="#666" stroke-width="1.35" stroke-linejoin="round"/>
<path d="M461.2,445 L465,443.8 L470,448.8 L471.2,452.5 L466.2,453.1Z" fill="none" stroke="#666" stroke-width="1.35" stroke-linejoin="round"/>
<path d="M473.8,445 L477.5,441.2 L481.2,440 L480,443.8 L476.2,448.8Z" fill="none" stroke="#666" stroke-width="1.35" stroke-linejoin="round"/>
<path d="M518,526.6 L523.4,525 L529.7,531.25 L532.8,536 L534.4,542.2 L532.8,545.3 L529.7,542.2 L525,536 L520.3,532.8Z" fill="none" stroke="#666" stroke-width="1.35" stroke-linejoin="round"/>
<path d="M534.4,546.9 L543.75,548.4 L548.4,551.6 L546.9,556.25 L542.2,555.5 L536.7,551.6Z" fill="none" stroke="#666" stroke-width="1.35" stroke-linejoin="round"/>
<path d="M550.8,558.6 L557.8,558.6 L559.4,561.7 L554.7,564 L551.6,562.5Z" fill="none" stroke="#666" stroke-width="1.35" stroke-linejoin="round"/>
<path d="M528.1,557.8 L532,557.8 L533.6,562.5 L531.25,567.2 L528.1,565.6Z" fill="none" stroke="#666" stroke-width="1.35" stroke-linejoin="round"/>
<path d="M496.9,546.9 L501.6,545.3 L503.9,548.4 L500,554.7 L496.9,556.25Z" fill="none" stroke="#666" stroke-width="1.35" stroke-linejoin="round"/>
<path d="M501.6,560.9 L505.5,559.4 L507.8,564 L504.7,568.75 L501.6,570.3Z" fill="none" stroke="#666" stroke-width="1.35" stroke-linejoin="round"/>
<path d="M503.9,578.1 L509.4,577.3 L510.9,582 L506.25,583.6 L503.9,582Z" fill="none" stroke="#666" stroke-width="1.35" stroke-linejoin="round"/>
<path d="M515.6,587.5 L519.5,589 L522.7,593.75 L519.5,597.7 L517.2,593.75Z" fill="none" stroke="#666" stroke-width="1.35" stroke-linejoin="round"/>
<path d="M537.5,589 L543.75,582.8 L550,581.25 L548.4,590.6 L543.75,593 L539,592.2Z" fill="none" stroke="#666" stroke-width="1.35" stroke-linejoin="round"/>
<path d="M553.9,586 L559.4,579.7 L565.6,578.9 L566.4,587.5 L564,593.75 L559.4,596 L556.25,592.2Z" fill="none" stroke="#666" stroke-width="1.35" stroke-linejoin="round"/>
<path d="M499.2,609.4 L506.25,607.8 L510.9,603.1 L515.6,606.25 L515.6,609.4 L509.4,612.5 L500,614Z" fill="none" stroke="#666" stroke-width="1.35" stroke-linejoin="round"/>
<path d="M548.4,606.25 L553.1,606.25 L556.25,611 L553.1,614 L549.2,611Z" fill="none" stroke="#666" stroke-width="1.35" stroke-linejoin="round"/>
<path d="M574.2,604.7 L581.25,600 L587.5,596.1 L591.4,598.4 L586,603.1 L576.6,606.25Z" fill="none" stroke="#666" stroke-width="1.35" stroke-linejoin="round"/>
<path d="M553.9,625.8 L557.8,625 L561,629.7 L559.4,634.4 L554.7,634.4 L557.8,630.5Z" fill="none" stroke="#666" stroke-width="1.35" stroke-linejoin="round"/>
<path d="M527.5,614.5 L530,614 L533.5,617 L531,618Z" fill="none" stroke="#666" stroke-width="1.35" stroke-linejoin="round"/>
<path d="M539,613 L542,609.5 L544.5,610 L541,614Z" fill="none" stroke="#666" stroke-width="1.35" stroke-linejoin="round"/>
<path d="M573,631 L577,630.5 L580,633 L575,634Z" fill="none" stroke="#666" stroke-width="1.35" stroke-linejoin="round"/>
<path d="M575,582.5 L578,582.5 L578,585 L575,585Z" fill="none" stroke="#666" stroke-width="1.35" stroke-linejoin="round"/>
<path d="M451.5,540.6 L459.4,540.6 L456,545.3Z" fill="none" stroke="#666" stroke-width="1.35" stroke-linejoin="round"/>
<path d="M450,522.5 L456.2,521.2 L461.2,522.5 L460,527.5 L455,530 L451.2,528.8Z" fill="none" stroke="#666" stroke-width="1.35" stroke-linejoin="round"/>
<path d="M450,565 L455,563 L460,562 L458,564.5 L452,567Z" fill="none" stroke="#666" stroke-width="1.35" stroke-linejoin="round"/>
<path d="M423.75,632.5 L430,631.25 L433.75,637.5 L431.25,646.25 L427.5,647.5 L423.75,642.5Z" fill="none" stroke="#666" stroke-width="1.35" stroke-linejoin="round"/>
<path d="M443.75,663 L446,662.5 L447.5,666.5 L445,667.5Z" fill="none" stroke="#666" stroke-width="1.35" stroke-linejoin="round"/>
<path d="M485,730 L489,730 L488,733 L485,732.5Z" fill="none" stroke="#666" stroke-width="1.35" stroke-linejoin="round"/>
<path d="M252.5,403.5 L262.5,402.25 L267.5,406 L266.25,413.5 L270,421 L276.25,428.5 L276.25,433.5 L270,431 L265,426 L261.25,418.5 L257.5,412.25 L252.5,408.5Z" fill="none" stroke="#666" stroke-width="1.35" stroke-linejoin="round"/>
<path d="M278,441 L280,441 L281,444 L279,444.5Z" fill="none" stroke="#666" stroke-width="1.35" stroke-linejoin="round"/>
<path d="M300.5,467 L308,467 L311.75,472 L310.5,479.5 L308,484.5 L301.75,485.75 L299.25,482 L301.75,474.5Z" fill="none" stroke="#666" stroke-width="1.35" stroke-linejoin="round"/>
<path d="M290.5,504.5 L298,494.5 L303,497 L305.5,504.5 L308,509.5 L313,514.5 L311.8,519.5 L305.5,519.5 L300.5,517 L295.5,513.2 L289.2,512Z" fill="none" stroke="#666" stroke-width="1.35" stroke-linejoin="round"/>
<path d="M305.5,492 L308,489.5 L310.5,494.5 L309.2,502 L306.8,499.5Z" fill="none" stroke="#666" stroke-width="1.35" stroke-linejoin="round"/>
<path d="M304.2,532 L310.5,529.5 L318,537 L323,544.5 L318,548.2 L313,547 L306.8,539.5Z" fill="none" stroke="#666" stroke-width="1.35" stroke-linejoin="round"/>
<path d="M919,714.5 L931,708 L945,708 L945,745 L931,745 L924,732Z" fill="none" stroke="#666" stroke-width="1.35" stroke-linejoin="round"/>
<path d="M70.6,149.4 L76.9,150 L83.1,152.5 L83.1,155.6 L77.5,153.8 L71.2,151.9Z" fill="none" stroke="#666" stroke-width="1.35" stroke-linejoin="round"/>
<path d="M83.8,152.5 L91.2,151.9 L102.5,153.1 L106.2,156.2 L103.8,160 L92.5,159.4 L85,157.5Z" fill="none" stroke="#666" stroke-width="1.35" stroke-linejoin="round"/>
<path d="M80,165 L87.5,163.1 L95,163.8 L100,166.9 L102.5,168.8 L122.5,169.4 L122.5,171.2 L100,170.6 L91.2,168.8 L82.5,166.9Z" fill="none" stroke="#666" stroke-width="1.35" stroke-linejoin="round"/>
<path d="M62.5,173.8 L68.8,173.1 L73.1,174.4 L71.2,177.5 L65,178.1 L62.5,176.2Z" fill="none" stroke="#666" stroke-width="1.35" stroke-linejoin="round"/>
<path d="M93.8,180 L102.5,179.4 L112.5,178.8 L122.5,182.5 L122.5,185 L112.5,185 L102.5,185 L93.8,184.4Z" fill="none" stroke="#666" stroke-width="1.35" stroke-linejoin="round"/>
<path d="M101.9,195 L107.5,194.8 L109.4,196.9 L106.2,198.8 L102.5,198.1Z" fill="none" stroke="#666" stroke-width="1.35" stroke-linejoin="round"/>
<path d="M130,193.8 L137.5,195 L145,197.5 L151.2,200 L150,201.2 L142.5,200 L131.2,196.2Z" fill="none" stroke="#666" stroke-width="1.35" stroke-linejoin="round"/>
<path d="M71.2,142.5 L77.5,140.6 L83.8,140 L83.8,142.5 L78.8,143.8 L72.5,144.4Z" fill="none" stroke="#666" stroke-width="1.35" stroke-linejoin="round"/>
<path d="M667.5,346.25 L670,344.4 L676.25,343.75 L679.4,345.6 L677.5,348.1 L671.25,348.75Z" fill="none" stroke="#666" stroke-width="1.35" stroke-linejoin="round"/>
<path d="M677.5,355 L683.75,353.1 L692.5,355 L694.4,358.1 L690,361.25 L686.25,364 L682.5,360Z" fill="none" stroke="#666" stroke-width="1.35" stroke-linejoin="round"/>
<path d="M672.5,355.5 L675,355.2 L675.5,358.5 L672.8,358.7Z" fill="none" stroke="#666" stroke-width="1.35" stroke-linejoin="round"/>
<g fill="none" stroke-linejoin="round" stroke-linecap="round">
<path d="M700,366 C700.0,368.1 700.0,373.9 700,378.5 C701.2,383.1 704.2,389.3 707.5,393.5 C710.8,397.7 716.2,401.0 720,403.5 C723.8,406.0 726.2,406.4 730,408.5 C733.8,410.6 738.8,414.3 742.5,416 C746.2,417.7 749.6,418.5 752.5,418.5 C755.4,418.1 757.5,416.8 760,413.5 C762.5,410.2 765.8,401.4 767.5,398.5 C769.2,396.0 767.5,396.4 770,396 C772.9,396.0 782.9,396.0 785,396 C785.0,393.9 782.5,387.7 782.5,383.5 C782.5,379.3 783.3,375.2 785,371 C786.7,366.8 790.8,361.8 792.5,358.5 C794.2,355.2 794.6,352.2 795,351" stroke="#a3a3a3" stroke-width="0.9"/>
<path d="M795,351 C796.7,352.7 801.2,358.9 805,361 C808.8,363.1 813.8,362.7 817.5,363.5 C821.2,364.3 825.0,364.8 827.5,366 C830.0,367.2 830.0,368.9 832.5,371 C835.0,373.1 840.0,375.6 842.5,378.5 C845.0,381.4 846.7,386.8 847.5,388.5" stroke="#a3a3a3" stroke-width="0.9"/>
<path d="M830,378.5 C827.9,380.6 820.8,386.8 817.5,391 C814.2,395.2 812.1,399.3 810,403.5 C807.9,407.7 807.9,413.9 805,416 C802.1,416.0 795.8,416.0 792.5,416 C789.2,414.8 786.9,411.4 785,408.5 C783.1,405.6 781.8,400.2 781.2,398.5" stroke="#a3a3a3" stroke-width="0.9"/>
<path d="M805,416 C806.7,417.7 812.5,421.8 815,426 C817.5,430.2 820.0,437.2 820,441 C820.0,444.8 816.7,445.6 815,448.5 C813.3,451.4 812.5,455.2 810,458.5 C807.5,461.8 802.9,465.6 800,468.5 C797.1,471.4 795.0,471.8 792.5,476 C790.0,480.2 786.2,490.6 785,493.5" stroke="#a3a3a3" stroke-width="0.9"/>
<path d="M742.5,418.5 C741.7,420.6 739.6,426.8 737.5,431 C735.4,435.2 733.8,440.6 730,443.5 C726.2,446.4 719.6,447.2 715,448.5 C710.4,449.8 706.2,451.0 702.5,451 C698.8,450.6 695.4,448.5 692.5,446 C689.6,443.5 687.9,438.1 685,436 C682.1,433.9 676.7,433.9 675,433.5" stroke="#a3a3a3" stroke-width="0.9"/>
<path d="M730,443.5 C731.2,445.2 734.6,449.8 737.5,453.5 C740.4,457.2 746.7,461.8 747.5,466 C747.5,470.2 744.2,474.8 742.5,478.5 C740.8,482.2 737.9,483.9 737.5,488.5 C737.5,493.1 737.9,502.7 740,506 C742.1,508.5 746.2,508.3 750,508.5 C753.8,508.5 757.9,507.6 762.5,507.2 C767.1,506.8 774.2,507.2 777.5,506 C780.8,504.1 780.4,497.7 782.5,496 C784.6,496.0 788.8,496.0 790,496" stroke="#a3a3a3" stroke-width="0.9"/>
<path d="M747.5,473.5 C750.0,473.5 757.9,473.5 762.5,473.5 C767.1,472.7 771.2,469.8 775,468.5 C778.8,467.2 782.1,466.0 785,466 C787.9,466.8 791.2,472.2 792.5,473.5" stroke="#a3a3a3" stroke-width="0.9"/>
<path d="M820,443.5 C821.7,444.8 825.8,450.6 830,451 C834.2,451.0 840.8,447.7 845,446 C849.2,444.3 851.7,441.8 855,441 C858.3,441.0 861.7,441.0 865,441 C868.3,442.2 871.2,446.8 875,448.5 C878.8,450.2 883.8,451.0 887.5,451 C891.2,450.6 895.0,448.5 897.5,446 C900.0,443.5 902.1,440.2 902.5,436 C902.5,431.8 900.8,426.4 900,421 C899.2,415.6 899.2,408.5 897.5,403.5 C895.8,398.5 893.8,393.5 890,391 C886.2,388.5 880.0,389.3 875,388.5 C870.0,387.7 864.6,386.4 860,386 C855.4,386.0 849.6,386.0 847.5,386" stroke="#a3a3a3" stroke-width="0.9"/>
<path d="M887.5,451 C887.5,453.1 887.5,459.3 887.5,463.5 C886.7,467.7 884.6,472.2 882.5,476 C880.4,479.8 877.9,482.7 875,486 C872.1,489.3 865.0,492.7 865,496 C865.0,499.3 872.1,502.2 875,506 C877.9,509.8 882.5,514.8 882.5,518.5 C882.5,522.2 876.7,524.3 875,528.5 C873.3,532.7 872.9,541.0 872.5,543.5" stroke="#a3a3a3" stroke-width="0.9"/>
<path d="M865,496 C863.3,495.2 858.3,491.0 855,491 C851.7,491.4 848.3,496.0 845,498.5 C841.7,501.0 840.0,503.1 835,506 C830.0,508.9 819.2,512.2 815,516 C810.8,519.8 811.7,523.9 810,528.5 C808.3,533.1 805.8,541.0 805,543.5" stroke="#a3a3a3" stroke-width="0.9"/>
<path d="M790,496 C791.7,497.7 799.2,502.2 800,506 C800.0,509.8 797.5,515.2 795,518.5 C792.5,521.8 787.1,523.5 785,526 C782.9,528.5 782.5,530.6 782.5,533.5 C783.3,536.4 788.8,541.8 790,543.5" stroke="#a3a3a3" stroke-width="0.9"/>
<path d="M897.5,446 C899.6,447.2 905.4,451.8 910,453.5 C914.6,455.2 921.2,455.2 925,456 C928.8,456.8 931.2,458.1 932.5,458.5" stroke="#a3a3a3" stroke-width="0.9"/>
<path d="M672.5,493.5 C674.6,494.8 680.4,499.8 685,501 C689.6,501.0 695.0,501.0 700,501 C705.0,501.8 711.7,503.1 715,506 C718.3,508.9 720.0,515.6 720,518.5 C717.9,521.4 707.5,522.2 702.5,523.5 C697.5,524.8 695.0,525.2 690,526 C685.0,526.8 675.4,528.1 672.5,528.5" stroke="#a3a3a3" stroke-width="0.9"/>
<path d="M720,518.5 C722.1,518.5 729.6,518.5 732.5,518.5 C735.4,516.4 736.7,508.1 737.5,506" stroke="#a3a3a3" stroke-width="0.9"/>
<path d="M732.5,518.5 C732.9,520.6 734.6,526.8 735,531 C735.0,535.2 735.0,541.4 735,543.5" stroke="#a3a3a3" stroke-width="0.9"/>
<path d="M832.5,366 C832.9,363.5 833.3,355.2 835,351 C836.7,346.8 840.8,344.3 842.5,341 C844.2,337.7 844.2,334.8 845,331 C845.8,327.2 847.1,320.6 847.5,318.5" stroke="#a3a3a3" stroke-width="0.9"/>
<path d="M845,341 C848.3,341.4 860.0,343.5 865,343.5 C870.0,343.1 872.1,340.6 875,338.5 C877.9,336.4 880.0,333.1 882.5,331 C885.0,328.9 888.8,326.8 890,326" stroke="#a3a3a3" stroke-width="0.9"/>
<path d="M850,368.5 C852.5,368.5 859.6,368.5 865,368.5 C870.4,368.5 876.7,368.5 882.5,368.5 C888.3,368.1 894.2,366.8 900,366 C905.8,365.2 912.9,365.2 917.5,363.5 C922.1,361.8 925.4,358.9 927.5,356 C929.6,353.1 930.0,349.3 930,346 C929.6,342.7 926.7,339.3 925,336 C923.3,332.7 920.8,327.7 920,326" stroke="#a3a3a3" stroke-width="0.9"/>
<path d="M810,318.5 C809.2,321.4 807.5,330.6 805,336 C802.5,341.4 796.7,348.5 795,351" stroke="#a3a3a3" stroke-width="0.9"/>
<path d="M770,338.5 L770,351" stroke="#a3a3a3" stroke-width="0.9"/>
<path d="M747.5,449.5 C747.5,453.7 747.5,469.9 747.5,474.5 C749.2,477.0 752.9,477.0 757.5,477 C762.1,476.6 769.6,473.2 775,472 C780.4,470.8 786.7,469.5 790,469.5 C793.3,470.3 792.9,477.0 795,477 C797.1,476.6 800.0,470.3 802.5,467 C805.0,463.7 808.3,459.9 810,457 C811.7,454.1 812.1,450.8 812.5,449.5" stroke="#a3a3a3" stroke-width="0.9"/>
<path d="M747.5,474.5 C746.2,476.2 741.2,479.9 740,484.5 C740.0,489.1 740.0,497.8 740,502 C740.8,506.2 742.1,507.8 745,509.5 C747.9,511.2 752.5,512.0 757.5,512 C762.5,511.6 770.8,508.7 775,507 C779.2,505.3 779.2,503.7 782.5,502 C785.8,500.3 792.1,497.0 795,497 C797.9,498.2 800.0,505.8 800,509.5 C799.6,513.2 795.4,516.6 792.5,519.5 C789.6,522.4 784.2,524.1 782.5,527 C782.5,529.9 782.5,534.5 782.5,537 C783.8,539.5 787.1,540.8 790,542 C792.9,543.2 798.3,544.1 800,544.5" stroke="#a3a3a3" stroke-width="0.9"/>
<path d="M672.5,494.5 C674.6,495.8 680.4,500.8 685,502 C689.6,502.0 695.4,502.0 700,502 C704.6,502.8 708.8,504.5 712.5,507 C716.2,509.5 719.2,514.9 722.5,517 C725.8,519.1 730.8,519.1 732.5,519.5" stroke="#a3a3a3" stroke-width="0.9"/>
<path d="M672.5,527 C675.4,526.6 684.2,525.3 690,524.5 C695.8,523.7 702.1,522.8 707.5,522 C712.9,521.2 718.3,519.9 722.5,519.5 C726.7,519.5 730.4,519.5 732.5,519.5 C734.6,522.0 734.2,530.3 735,534.5 C735.8,538.7 737.5,541.2 737.5,544.5 C735.8,547.8 727.1,551.6 725,554.5 C725.0,557.4 725.0,558.7 725,562 C726.7,565.3 732.1,571.2 735,574.5 C737.9,577.8 740.0,579.1 742.5,582 C745.0,584.9 747.1,589.9 750,592 C752.9,594.1 757.1,594.5 760,594.5 C762.9,594.5 765.8,594.1 767.5,592 C769.2,589.9 768.8,585.8 770,582 C771.2,578.2 774.2,573.7 775,569.5 C775.0,565.3 775.0,560.8 775,557 C776.2,553.2 779.6,549.5 782.5,547 C785.4,544.5 790.8,542.8 792.5,542" stroke="#a3a3a3" stroke-width="0.9"/>
<path d="M672.5,559.5 C675.4,559.5 684.2,559.5 690,559.5 C695.8,559.1 701.7,557.8 707.5,557 C713.3,556.2 722.1,554.9 725,554.5" stroke="#a3a3a3" stroke-width="0.9"/>
<path d="M800,544.5 C802.5,543.2 810.8,537.4 815,537 C819.2,537.0 822.1,539.9 825,542 C827.9,544.1 830.0,546.6 832.5,549.5 C835.0,552.4 837.5,556.6 840,559.5 C842.5,562.4 843.3,566.2 847.5,567 C851.7,567.0 861.2,565.3 865,564.5 C868.8,563.7 868.8,564.5 870,562 C871.2,559.1 872.1,552.0 872.5,547 C872.5,542.0 872.5,536.2 872.5,532 C874.2,527.8 882.1,525.3 882.5,522 C882.5,518.7 877.9,516.2 875,512 C872.1,507.8 867.9,500.3 865,497 C862.1,493.7 860.8,492.0 857.5,492 C854.2,492.4 849.6,497.0 845,499.5 C840.4,502.0 834.6,504.1 830,507 C825.4,509.9 820.8,513.7 817.5,517 C814.2,520.3 812.5,523.7 810,527 C807.5,530.3 803.8,535.3 802.5,537" stroke="#a3a3a3" stroke-width="0.9"/>
<path d="M865,497 C866.2,495.3 869.6,490.3 872.5,487 C875.4,483.7 880.0,480.3 882.5,477 C885.0,473.7 886.2,471.6 887.5,467 C888.8,462.4 889.6,452.4 890,449.5" stroke="#a3a3a3" stroke-width="0.9"/>
<path d="M870,562 C872.5,563.2 880.0,567.4 885,569.5 C890.0,571.6 895.4,572.0 900,574.5 C904.6,577.0 909.2,580.8 912.5,584.5 C915.8,588.2 917.9,594.1 920,597 C922.1,599.9 924.2,601.2 925,602" stroke="#a3a3a3" stroke-width="0.9"/>
<path d="M847.5,567 C845.4,568.2 838.8,573.2 835,574.5 C831.2,574.5 828.3,574.5 825,574.5 C821.7,574.1 818.3,572.4 815,572 C811.7,572.0 808.3,572.0 805,572 C801.7,572.8 798.3,574.5 795,577 C791.7,579.5 787.5,583.7 785,587 C782.5,590.3 781.7,593.7 780,597 C778.3,600.3 776.7,603.7 775,607 C773.3,610.3 771.7,613.7 770,617 C768.3,620.3 765.8,625.3 765,627" stroke="#a3a3a3" stroke-width="0.9"/>
<path d="M770,592 C771.2,592.8 775.8,595.3 777.5,597 C779.2,598.7 779.6,601.2 780,602" stroke="#a3a3a3" stroke-width="0.9"/>
<path d="M662.5,387.5 C662.1,390.4 661.2,399.6 660,405 C658.8,410.4 657.5,415.8 655,420 C652.5,424.2 648.3,427.1 645,430 C641.7,432.9 637.1,435.8 635,437.5 C632.9,439.2 632.9,439.6 632.5,440" stroke="#a3a3a3" stroke-width="0.9"/>
<path d="M635,440 C637.9,438.8 647.5,434.2 652.5,432.5 C657.5,430.8 659.6,430.0 665,430 C670.4,430.4 679.2,431.7 685,435 C690.8,438.3 695.0,447.5 700,450 C705.0,450.0 710.0,450.0 715,450 C720.0,449.6 726.2,449.2 730,447.5 C733.8,445.8 735.8,443.3 737.5,440 C739.2,436.7 738.8,431.7 740,427.5 C741.2,423.3 745.0,418.8 745,415 C745.0,411.2 742.5,407.5 740,405 C737.5,402.5 734.2,401.7 730,400 C725.8,398.3 718.3,397.1 715,395 C711.7,392.9 710.8,388.8 710,387.5" stroke="#a3a3a3" stroke-width="0.9"/>
<path d="M765,395 C764.2,396.7 763.3,401.2 760,405 C756.7,408.8 747.5,415.4 745,417.5" stroke="#a3a3a3" stroke-width="0.9"/>
<path d="M662.5,432.5 C662.9,434.6 665.0,440.4 665,445 C664.6,449.6 661.7,455.4 660,460 C658.3,464.6 655.0,468.3 655,472.5 C655.0,476.7 657.5,481.2 660,485 C662.5,488.8 665.8,492.5 670,495 C674.2,497.5 680.0,498.8 685,500 C690.0,501.2 695.0,501.2 700,502.5 C705.0,503.8 710.8,505.0 715,507.5 C719.2,510.0 723.3,515.8 725,517.5" stroke="#a3a3a3" stroke-width="0.9"/>
<path d="M725,517.5 C727.5,515.8 735.8,510.0 740,507.5 C744.2,505.0 746.7,502.9 750,502.5 C753.3,502.5 756.7,504.2 760,505 C763.3,505.8 766.7,507.5 770,507.5 C773.3,507.1 776.7,504.6 780,502.5 C783.3,500.4 786.7,496.2 790,495 C793.3,495.0 796.7,495.0 800,495 C803.3,494.2 808.3,490.8 810,490" stroke="#a3a3a3" stroke-width="0.9"/>
<path d="M725,517.5 C726.2,519.6 730.8,526.2 732.5,530 C734.2,533.8 735.0,536.7 735,540 C734.6,543.3 730.8,545.8 730,550 C730.0,554.2 730.0,560.8 730,565 C731.7,569.2 736.7,572.5 740,575 C743.3,577.5 745.8,577.5 750,580 C754.2,582.5 760.8,587.1 765,590 C769.2,592.9 773.3,596.2 775,597.5" stroke="#a3a3a3" stroke-width="0.9"/>
<path d="M655,530 C658.3,529.2 668.3,526.2 675,525 C681.7,523.8 688.3,523.3 695,522.5 C701.7,521.7 710.0,520.8 715,520 C720.0,519.2 723.3,517.9 725,517.5" stroke="#a3a3a3" stroke-width="0.9"/>
<path d="M740,427.5 C741.7,426.2 746.7,421.7 750,420 C753.3,418.3 756.7,417.5 760,417.5 C763.3,417.5 766.7,418.8 770,420 C773.3,421.2 776.7,425.0 780,425 C783.3,425.0 786.7,422.1 790,420 C793.3,417.9 796.7,415.0 800,412.5 C803.3,410.0 808.3,406.2 810,405" stroke="#a3a3a3" stroke-width="0.9"/>
<path d="M665,555 C667.5,554.6 674.2,552.5 680,552.5 C685.8,552.5 694.2,554.6 700,555 C705.8,555.0 710.0,555.0 715,555 C720.0,554.2 727.5,550.8 730,550" stroke="#a3a3a3" stroke-width="0.9"/>
<path d="M775,472.5 C776.7,471.2 782.5,468.8 785,465 C787.5,461.2 787.5,454.2 790,450 C792.5,445.8 796.7,443.3 800,440 C803.3,436.7 808.3,431.7 810,430" stroke="#a3a3a3" stroke-width="0.9"/>
<path d="M792.5,495 C793.8,497.5 797.1,505.8 800,510 C802.9,514.2 807.1,516.7 810,520 C812.9,523.3 816.2,528.3 817.5,530" stroke="#a3a3a3" stroke-width="0.9"/>
<path d="M775,540 C776.7,538.3 780.8,531.7 785,530 C789.2,530.0 795.8,530.0 800,530 C804.2,528.3 808.3,521.7 810,520" stroke="#a3a3a3" stroke-width="0.9"/>
<path d="M765,590 C767.5,587.1 776.7,577.5 780,572.5 C783.3,567.5 785.0,563.8 785,560 C785.0,556.2 780.8,553.3 780,550 C780.0,546.7 780.0,541.7 780,540" stroke="#a3a3a3" stroke-width="0.9"/>
<path d="M655,132.5 C656.7,133.8 661.7,137.5 665,140 C668.3,142.5 670.8,145.0 675,147.5 C679.2,150.0 686.7,152.9 690,155 C693.3,157.1 694.2,159.2 695,160" stroke="#a3a3a3" stroke-width="0.9"/>
<path d="M655,132.5 C655.0,135.4 655.0,144.6 655,150 C654.2,155.4 651.2,160.0 650,165 C648.8,170.0 649.2,177.1 647.5,180 C645.8,182.5 643.3,182.1 640,182.5 C636.7,182.5 631.2,182.5 627.5,182.5 C623.8,182.9 619.6,182.9 617.5,185 C615.4,187.1 615.0,192.1 615,195 C615.4,197.9 617.9,200.8 620,202.5 C622.1,204.2 625.0,202.9 627.5,205 C630.0,207.1 632.9,211.7 635,215 C637.1,218.3 638.8,221.7 640,225 C641.2,228.3 642.1,231.7 642.5,235 C642.5,238.3 642.5,243.3 642.5,245" stroke="#a3a3a3" stroke-width="0.9"/>
<path d="M617.5,185 C615.8,184.2 610.0,181.2 607.5,180 C605.0,178.8 604.2,177.5 602.5,177.5 C600.8,178.3 598.8,182.1 597.5,185 C596.2,187.9 595.4,193.3 595,195" stroke="#a3a3a3" stroke-width="0.9"/>
<path d="M620,202.5 C618.3,203.8 612.9,207.9 610,210 C607.1,212.1 604.6,212.5 602.5,215 C600.4,217.5 598.8,221.7 597.5,225 C596.2,228.3 595.4,231.7 595,235 C595.0,238.3 595.0,243.8 595,245 C593.3,245.0 588.3,243.3 585,242.5 C581.7,241.7 578.3,240.0 575,240 C571.7,240.0 566.7,242.1 565,242.5" stroke="#a3a3a3" stroke-width="0.9"/>
<path d="M627.5,157.5 C626.7,158.8 624.2,162.1 622.5,165 C620.8,167.9 618.3,171.7 617.5,175 C617.5,178.3 617.5,183.3 617.5,185" stroke="#a3a3a3" stroke-width="0.9"/>
<path d="M647.5,180 C649.6,180.8 655.8,183.8 660,185 C664.2,186.2 668.3,187.5 672.5,187.5 C676.7,187.5 682.9,185.4 685,185" stroke="#a3a3a3" stroke-width="0.9"/>
<path d="M642.5,245 C640.4,245.8 634.2,248.3 630,250 C625.8,251.7 620.8,252.9 617.5,255 C614.2,257.1 612.1,260.0 610,262.5 C607.9,265.0 607.5,268.8 605,270 C602.5,270.0 597.5,270.0 595,270 C592.5,270.8 592.9,273.8 590,275 C587.1,276.2 581.7,277.5 577.5,277.5 C573.3,277.5 568.8,276.7 565,275 C561.2,273.3 557.9,269.2 555,267.5 C552.1,265.8 548.8,265.4 547.5,265" stroke="#a3a3a3" stroke-width="0.9"/>
<path d="M595,270 C595.0,273.3 595.0,285.4 595,290 C593.3,294.6 589.2,295.8 585,297.5 C580.8,299.2 575.0,300.0 570,300 C565.0,300.0 558.8,298.3 555,297.5 C551.2,296.7 548.8,295.4 547.5,295" stroke="#a3a3a3" stroke-width="0.9"/>
<path d="M617.5,255 C617.5,257.9 617.5,267.1 617.5,272.5 C617.9,277.9 620.0,282.9 620,287.5 C620.0,292.1 620.0,296.7 617.5,300 C615.0,303.3 608.3,303.8 605,307.5 C601.7,311.2 598.8,320.0 597.5,322.5" stroke="#a3a3a3" stroke-width="0.9"/>
<path d="M632.5,255 C632.5,258.3 632.5,268.3 632.5,275 C632.1,281.7 630.8,288.3 630,295 C629.2,301.7 627.9,311.7 627.5,315" stroke="#a3a3a3" stroke-width="0.9"/>
<path d="M635,297.5 C640.0,297.1 657.5,296.2 665,295 C672.5,293.8 674.2,291.2 680,290 C685.8,288.8 695.8,287.5 700,287.5 C704.2,289.2 704.6,294.2 705,300 C705.0,305.8 702.9,318.8 702.5,322.5" stroke="#a3a3a3" stroke-width="0.9"/>
<path d="M690,110 L690,97.5" stroke="#a3a3a3" stroke-width="0.9"/>
<path d="M322.5,332.5 C325.4,332.5 333.8,332.5 340,332.5 C346.2,332.1 355.8,330.0 360,330 C364.2,331.2 362.9,336.7 365,340 C367.1,343.3 370.0,347.1 372.5,350 C375.0,352.9 378.8,354.2 380,357.5 C380.0,360.8 380.0,366.2 380,370 C380.4,373.8 382.5,376.7 382.5,380 C381.7,383.3 377.9,386.7 375,390 C372.1,393.3 367.9,397.9 365,400 C362.1,402.1 361.7,402.5 357.5,402.5 C353.3,402.5 343.8,400.0 340,400 C336.2,400.4 335.8,404.2 335,405" stroke="#a3a3a3" stroke-width="0.9"/>
<path d="M382.5,380 C385.4,380.8 396.2,383.3 400,385 C403.8,386.7 404.2,389.2 405,390" stroke="#a3a3a3" stroke-width="0.9"/>
<path d="M357.5,402.5 C357.9,404.2 357.5,409.6 360,412.5 C362.9,415.4 370.8,417.9 375,420 C379.2,422.1 381.7,421.7 385,425 C388.3,428.3 391.7,436.2 395,440 C398.3,443.8 400.8,446.7 405,447.5 C409.2,447.5 417.5,445.4 420,445" stroke="#a3a3a3" stroke-width="0.9"/>
<path d="M330,410 C330.4,412.5 330.8,420.8 332.5,425 C334.2,429.2 337.1,432.5 340,435 C342.9,437.5 348.3,439.2 350,440" stroke="#a3a3a3" stroke-width="0.9"/>
<path d="M515,282.5 C516.7,280.4 521.7,273.8 525,270 C528.3,266.2 530.8,262.5 535,260 C539.2,257.5 547.5,255.8 550,255" stroke="#a3a3a3" stroke-width="0.9"/>
<path d="M320,250 C321.7,252.5 326.7,260.8 330,265 C333.3,269.2 336.7,271.7 340,275 C343.3,278.3 347.5,280.8 350,285 C352.5,289.2 355.0,295.4 355,300 C355.0,304.6 350.8,310.4 350,312.5" stroke="#a3a3a3" stroke-width="0.9"/>
<path d="M330,265 C327.5,266.7 318.3,271.2 315,275 C311.7,278.8 310.0,283.3 310,287.5 C310.0,291.7 312.5,297.1 315,300 C317.5,302.9 321.7,302.9 325,305 C328.3,307.1 333.3,311.2 335,312.5" stroke="#a3a3a3" stroke-width="0.9"/>
<path d="M350,285 C353.3,284.6 364.2,283.3 370,282.5 C375.8,281.7 382.5,280.4 385,280" stroke="#a3a3a3" stroke-width="0.9"/>
<path d="M340,275 C340.8,272.5 343.3,264.2 345,260 C346.7,255.8 349.2,251.7 350,250" stroke="#a3a3a3" stroke-width="0.9"/>
<path d="M360,257.5 C359.2,260.0 356.7,267.9 355,272.5 C353.3,277.1 350.8,282.9 350,285" stroke="#a3a3a3" stroke-width="0.9"/>
<path d="M370,282.5 C370.8,285.4 373.3,295.4 375,300 C376.7,304.6 379.2,308.3 380,310" stroke="#a3a3a3" stroke-width="0.9"/>
<path d="M325,305 C327.5,304.2 335.0,300.8 340,300 C345.0,300.0 350.0,300.0 355,300 C360.0,300.8 367.5,304.2 370,305" stroke="#a3a3a3" stroke-width="0.9"/>
<path d="M320,330 C320.8,331.7 324.6,335.8 325,340 C325.0,344.2 324.2,350.8 322.5,355 C320.8,359.2 317.1,360.8 315,365 C312.9,369.2 311.7,375.0 310,380 C308.3,385.0 306.7,390.0 305,395 C303.3,400.0 300.8,407.5 300,410" stroke="#a3a3a3" stroke-width="0.9"/>
<path d="M365,322.5 C365.8,325.4 368.3,334.6 370,340 C371.7,345.4 372.5,350.0 375,355 C377.5,360.0 382.5,365.0 385,370 C387.5,375.0 387.5,380.8 390,385 C392.5,389.2 398.3,393.3 400,395" stroke="#a3a3a3" stroke-width="0.9"/>
<path d="M275,207.5 C276.2,208.8 280.0,212.5 282.5,215 C285.0,217.5 287.1,219.6 290,222.5 C292.9,225.4 298.3,230.8 300,232.5" stroke="#a3a3a3" stroke-width="0.9"/>
<path d="M315,240 C314.2,238.3 311.7,234.2 310,230 C308.3,225.8 306.2,220.4 305,215 C303.8,209.6 302.9,200.4 302.5,197.5" stroke="#a3a3a3" stroke-width="0.9"/>
<path d="M340,242.5 C341.7,240.4 346.7,233.8 350,230 C353.3,226.2 355.8,222.5 360,220 C364.2,217.5 370.0,216.7 375,215 C380.0,213.3 385.0,211.7 390,210 C395.0,208.3 402.5,205.8 405,205" stroke="#a3a3a3" stroke-width="0.9"/>
<path d="M360,220 C360.8,222.5 362.5,230.8 365,235 C367.5,239.2 373.3,240.8 375,245 C375.0,249.2 375.0,257.5 375,260" stroke="#a3a3a3" stroke-width="0.9"/>
<path d="M390,265 C390.8,262.5 393.3,255.0 395,250 C396.7,245.0 397.5,239.2 400,235 C402.5,230.8 406.7,228.3 410,225 C413.3,221.7 418.3,216.7 420,215" stroke="#a3a3a3" stroke-width="0.9"/>
<path d="M132.2,102.5 C132.5,105.6 132.2,116.6 133.75,121.25 C135.6,125.9 140.0,127.5 143.1,130.6 C146.2,133.7 148.8,137.4 152.5,140 C156.2,142.6 160.3,144.2 165,146.25 C169.7,148.3 175.4,150.9 180.6,152.5 C185.8,154.1 193.6,155.1 196.25,155.6" stroke="#a3a3a3" stroke-width="0.9"/>
<path d="M168,104 C168.8,105.6 170.7,111.1 172.8,113.4 C174.9,115.7 176.7,116.7 180.6,118 C184.5,119.3 193.6,120.7 196.25,121.25" stroke="#a3a3a3" stroke-width="0.9"/>
<path d="M537.5,131.2 C540.4,130.2 549.6,127.7 555,125 C560.4,122.3 564.2,118.3 570,115 C575.8,111.7 584.6,107.9 590,105 C595.4,102.1 600.4,98.8 602.5,97.5" stroke="#7a7a7a" stroke-width="1"/>
<path d="M650,97.5 C652.5,98.8 660.0,103.3 665,105 C670.0,106.7 675.8,106.7 680,107.5 C684.2,108.3 686.7,107.9 690,110 C693.3,112.1 695.8,117.5 700,120 C704.2,122.5 710.6,124.2 715,125 C719.4,125.0 724.3,125.0 726.2,125" stroke="#7a7a7a" stroke-width="1"/>
<path d="M642.5,245 C644.2,245.0 649.2,245.0 652.5,245 C655.8,245.8 659.6,247.9 662.5,250 C665.4,252.1 666.7,257.1 670,257.5 C673.3,257.5 678.8,253.3 682.5,252.5 C686.2,252.5 690.8,252.5 692.5,252.5" stroke="#7a7a7a" stroke-width="1"/>
<path d="M395,312.5 C396.7,312.1 400.8,311.2 405,310 C409.2,308.8 415.8,307.0 420,305.5 C424.2,304.0 426.7,302.4 430,301.2 C433.3,299.9 435.8,298.9 440,298 C444.2,297.1 450.0,296.8 455,295.5 C460.0,294.2 465.0,291.8 470,290.5 C475.0,289.2 480.0,288.8 485,287.5 C490.0,286.2 495.8,283.8 500,283 C504.2,282.5 507.1,282.5 510,282.5 C512.9,284.1 514.2,289.6 517.5,292.5 C520.8,295.4 525.8,298.3 530,300 C534.2,301.7 537.9,302.3 542.5,302.5 C547.1,302.5 555.0,301.4 557.5,301.2" stroke="#7a7a7a" stroke-width="1"/>
<path d="M213,232 C213.8,231.0 216.5,228.0 218,226 C219.5,224.0 220.3,221.7 222,220 C223.7,218.3 226.0,217.0 228,216 C230.0,215.0 232.0,215.0 234,214 C236.0,213.0 238.0,210.0 240,210 C242.0,210.0 244.3,212.3 246,214 C247.7,215.7 248.3,218.3 250,220 C251.7,221.7 254.0,223.7 256,224 C258.0,224.0 260.0,222.0 262,222 C264.0,222.3 266.0,224.3 268,226 C270.0,227.7 271.7,230.3 274,232 C276.3,233.7 279.0,235.0 282,236 C285.0,237.0 289.0,237.3 292,238 C295.0,238.7 298.7,239.7 300,240" stroke="#7a7a7a" stroke-width="1"/>
<path d="M196,219 C196.7,217.5 198.5,213.2 200,210 C201.5,206.8 202.7,202.3 205,200 C207.3,197.7 211.2,197.7 214,196 C216.8,194.3 219.0,191.3 222,190 C225.0,188.7 229.0,189.7 232,188 C235.0,186.3 237.7,182.7 240,180 C242.3,177.3 244.0,174.3 246,172 C248.0,169.7 250.0,168.3 252,166 C254.0,163.7 255.7,160.0 258,158 C260.3,156.0 263.7,155.3 266,154 C268.3,152.7 271.0,150.7 272,150" stroke="#7a7a7a" stroke-width="1"/>
<path d="M246,214 C246.7,212.7 248.0,208.3 250,206 C252.0,203.7 256.0,202.3 258,200 C260.0,197.7 261.0,194.7 262,192 C263.0,189.3 264.0,186.7 264,184 C264.0,181.3 263.0,178.7 262,176 C261.0,173.3 258.7,169.3 258,168" stroke="#7a7a7a" stroke-width="1"/>
<path d="M150,191 C151.0,189.5 154.0,185.2 156,182 C158.0,178.8 160.0,175.3 162,172 C164.0,168.7 165.7,164.7 168,162 C170.3,159.3 173.0,158.0 176,156 C179.0,154.0 182.7,151.7 186,150 C189.3,148.3 192.7,147.3 196,146 C199.3,144.7 203.0,143.3 206,142 C209.0,140.7 211.3,139.3 214,138 C216.7,136.7 219.0,135.3 222,134 C225.0,132.7 229.0,131.7 232,130 C235.0,128.3 237.0,125.7 240,124 C243.0,122.3 246.3,121.0 250,120 C253.7,119.0 258.0,118.7 262,118 C266.0,117.3 270.0,116.7 274,116 C278.0,115.3 284.0,114.3 286,114" stroke="#7a7a7a" stroke-width="1"/>
<path d="M262,222 C263.0,220.7 265.7,216.3 268,214 C270.3,211.7 273.3,209.7 276,208 C278.7,206.3 281.3,204.7 284,204 C286.7,204.0 289.3,204.0 292,204 C294.7,204.3 297.3,205.0 300,206 C302.7,207.0 305.3,208.7 308,210 C310.7,211.3 313.0,213.3 316,214 C319.0,214.0 323.0,214.0 326,214 C329.0,214.3 331.3,215.0 334,216 C336.7,217.0 340.7,219.3 342,220" stroke="#7a7a7a" stroke-width="1"/>
<path d="M398,98 C398.0,101.7 398.0,112.6 398,120 C399.7,127.4 404.7,136.7 408,142.5 C411.3,148.3 414.7,150.8 418,155 C421.3,159.2 424.7,163.3 428,167.5 C431.3,171.7 437.2,176.2 438,180 C438.0,183.8 434.7,186.7 433,190 C431.3,193.3 430.5,196.3 428,200 C425.5,203.7 421.8,208.3 418,212 C414.2,215.7 408.3,218.2 405,222 C401.7,225.8 399.7,230.3 398,235 C396.3,239.7 395.2,245.0 395,250 C395.0,255.0 396.6,260.8 397,265 C397.4,269.2 397.4,273.3 397.5,275" stroke="#7a7a7a" stroke-width="1"/>
<path d="M360,242 C360.7,240.3 363.3,235.3 364,232 C364.0,228.7 364.0,225.0 364,222 C363.0,219.0 360.0,215.7 358,214 C356.0,212.3 353.0,212.3 352,212" stroke="#7a7a7a" stroke-width="1"/>
<path d="M295,280 C295.8,277.5 297.9,270.0 300,265 C302.1,260.0 305.0,254.2 307.5,250 C310.0,245.8 311.2,242.1 315,240 C318.8,237.9 325.8,237.5 330,237.5 C334.2,237.9 336.7,240.4 340,242.5 C343.3,244.6 346.7,247.5 350,250 C353.3,252.5 355.8,255.8 360,257.5 C364.2,259.2 370.0,258.8 375,260 C380.0,261.2 386.2,262.5 390,265 C393.8,267.5 396.7,270.8 397.5,275 C397.5,279.2 396.2,285.8 395,290 C393.8,294.2 391.7,296.7 390,300 C388.3,303.3 387.5,307.5 385,310 C382.5,312.5 379.2,313.8 375,315 C370.8,316.2 365.0,315.8 360,317.5 C355.0,319.2 350.0,323.3 345,325 C340.0,326.7 334.2,326.7 330,327.5 C325.8,328.3 323.3,330.0 320,330 C316.7,329.2 312.9,324.6 310,322.5 C307.1,320.4 304.2,320.4 302.5,317.5 C300.8,314.6 300.8,308.8 300,305 C299.2,301.2 298.3,299.2 297.5,295 C296.7,290.8 295.4,282.5 295,280" stroke="#7a7a7a" stroke-width="1"/>
<path d="M257.5,225 C259.6,223.3 267.1,217.9 270,215 C272.9,212.1 272.9,210.4 275,207.5 C277.1,204.6 281.2,199.2 282.5,197.5" stroke="#7a7a7a" stroke-width="1"/>
<path d="M300,232.5 C301.2,231.2 304.6,227.9 307.5,225 C310.4,222.1 313.8,217.9 317.5,215 C321.2,212.1 326.2,210.4 330,207.5 C333.8,204.6 338.3,199.2 340,197.5" stroke="#7a7a7a" stroke-width="1"/>
<path d="M300,232.5 C297.9,232.9 291.7,235.0 287.5,235 C283.3,234.6 278.8,232.1 275,230 C271.2,227.9 267.9,225.0 265,222.5 C262.1,220.0 259.2,217.5 257.5,215 C255.8,212.5 255.4,208.8 255,207.5" stroke="#7a7a7a" stroke-width="1"/>
<path d="M397.5,275 C398.8,273.3 402.5,268.3 405,265 C407.5,261.7 410.0,258.3 412.5,255 C415.0,251.7 417.9,248.3 420,245 C422.1,241.7 423.3,238.3 425,235 C426.7,231.7 427.5,228.3 430,225 C432.5,221.7 436.7,217.9 440,215 C443.3,212.1 448.3,208.8 450,207.5" stroke="#7a7a7a" stroke-width="1"/>
<path d="M320,330 C319.6,333.8 319.2,345.8 317.5,352.5 C315.8,359.2 312.9,365.4 310,370 C307.1,374.6 303.3,376.7 300,380 C296.7,383.3 292.5,386.7 290,390 C287.5,393.3 286.7,395.8 285,400 C283.3,404.2 280.8,412.5 280,415" stroke="#7a7a7a" stroke-width="1"/>
<path d="M75.9,100.9 C77.7,102.5 83.8,107.2 86.9,110.3 C90.0,113.4 91.6,116.3 94.7,119.7 C97.8,123.1 102.2,127.5 105.6,130.6 C109.0,133.7 111.9,136.1 115,138.4 C118.1,140.8 121.8,142.3 124.4,144.7 C127.0,147.0 129.0,149.9 130.6,152.5 C132.2,155.1 132.2,157.2 133.75,160.3 C135.3,163.4 137.9,167.9 140,171.25 C142.1,174.6 145.2,179.0 146.25,180.6" stroke="#7a7a7a" stroke-width="1"/>
<path d="M507,411 C507.3,413.3 508.5,421.3 509,425 C509.5,428.7 509.8,431.7 510,433" stroke="#cfcfcf" stroke-width="1"/>
<path d="M510,433 C511.2,434.2 514.7,437.7 517,440 C519.3,442.3 522.8,445.8 524,447" stroke="#cfcfcf" stroke-width="1"/>
<path d="M510,433 C508.2,435.2 502.5,442.0 499,446 C495.5,450.0 490.7,455.2 489,457" stroke="#cfcfcf" stroke-width="1"/>
<path d="M422.5,626 C424.2,626.7 429.2,628.7 432.5,630 C435.8,631.3 440.8,633.3 442.5,634" stroke="#cfcfcf" stroke-width="1"/>
<path d="M447.5,682.5 C448.4,681.2 451.1,677.8 453,675 C454.9,672.2 457.8,667.5 458.75,666" stroke="#cfcfcf" stroke-width="1"/>
<path d="M615,694 C615.3,695.8 616.2,701.5 617,705 C617.8,708.5 619.5,713.3 620,715" stroke="#cfcfcf" stroke-width="1"/>
<path d="M490,548.75 C490.8,547.7 492.1,544.8 495,542.5 C497.9,540.2 503.8,538.3 507.5,535 C511.2,531.7 515.2,525.6 517.5,522.5 C519.8,519.4 520.6,517.3 521.25,516.25" stroke="#cfcfcf" stroke-width="1"/>
<path d="M488.75,456.25 C490.1,454.9 494.1,450.7 497,448 C499.9,445.3 504.7,441.3 506.25,440" stroke="#cfcfcf" stroke-width="1"/>
<path d="M538.75,470 C539.2,471.2 541.2,474.4 541.25,477.5 C541.0,480.6 538.1,486.9 537.5,488.75" stroke="#cfcfcf" stroke-width="1"/>
<path d="M582.5,532.5 L595,530" stroke="#cfcfcf" stroke-width="1"/>
<path d="M548.75,370.6 L558.75,373.1" stroke="#cfcfcf" stroke-width="1"/>
<path d="M472,512 L476,517" stroke="#cfcfcf" stroke-width="1"/>
</g>
<defs><path id="bolt" d="M1.5,-4.8 L-2.8,0.6 L0.2,0.6 L-1.8,4.8 L3.2,-1.2 L0.4,-1.2 L2.8,-4.8 Z" fill="#f2cf2a" stroke="#e6b52a" stroke-width="0.6" stroke-linejoin="round"/></defs>
<use href="#bolt" x="90.0" y="137.5"/>
<use href="#bolt" x="90.0" y="151.2"/>
<use href="#bolt" x="115.0" y="151.2"/>
<use href="#bolt" x="141.2" y="164.5"/>
<use href="#bolt" x="153.8" y="164.5"/>
<use href="#bolt" x="167.0" y="165.5"/>
<use href="#bolt" x="180.0" y="165.5"/>
<use href="#bolt" x="140.5" y="177.5"/>
<use href="#bolt" x="153.0" y="178.0"/>
<use href="#bolt" x="166.2" y="178.8"/>
<use href="#bolt" x="178.8" y="191.2"/>
<use href="#bolt" x="192.0" y="192.0"/>
<use href="#bolt" x="140.0" y="190.0"/>
<use href="#bolt" x="153.0" y="190.5"/>
<use href="#bolt" x="178.8" y="205.0"/>
<use href="#bolt" x="113.8" y="178.0"/>
<use href="#bolt" x="245.0" y="155.0"/>
<use href="#bolt" x="258.0" y="156.2"/>
<use href="#bolt" x="297.0" y="158.0"/>
<use href="#bolt" x="269.5" y="182.0"/>
<use href="#bolt" x="230.0" y="206.2"/>
<use href="#bolt" x="228.8" y="219.5"/>
<use href="#bolt" x="242.0" y="220.0"/>
<use href="#bolt" x="242.0" y="233.0"/>
<use href="#bolt" x="216.2" y="230.5"/>
<use href="#bolt" x="228.0" y="244.5"/>
<use href="#bolt" x="240.5" y="245.0"/>
<use href="#bolt" x="240.5" y="258.0"/>
<use href="#bolt" x="253.0" y="258.0"/>
<use href="#bolt" x="266.2" y="259.0"/>
<use href="#bolt" x="253.0" y="272.0"/>
<use href="#bolt" x="253.0" y="284.5"/>
<use href="#bolt" x="264.5" y="285.0"/>
<use href="#bolt" x="277.5" y="285.0"/>
<use href="#bolt" x="252.0" y="297.5"/>
<use href="#bolt" x="264.5" y="297.5"/>
<use href="#bolt" x="277.0" y="297.5"/>
<use href="#bolt" x="250.5" y="310.0"/>
<use href="#bolt" x="263.8" y="310.0"/>
<use href="#bolt" x="276.2" y="310.0"/>
<use href="#bolt" x="311.8" y="132.5"/>
<use href="#bolt" x="338.0" y="133.8"/>
<use href="#bolt" x="351.0" y="135.0"/>
<use href="#bolt" x="365.0" y="136.2"/>
<use href="#bolt" x="378.0" y="137.0"/>
<use href="#bolt" x="390.5" y="138.0"/>
<use href="#bolt" x="403.5" y="139.5"/>
<use href="#bolt" x="311.8" y="146.2"/>
<use href="#bolt" x="324.2" y="147.0"/>
<use href="#bolt" x="337.5" y="147.5"/>
<use href="#bolt" x="350.0" y="148.2"/>
<use href="#bolt" x="363.0" y="149.5"/>
<use href="#bolt" x="375.5" y="150.0"/>
<use href="#bolt" x="388.5" y="151.2"/>
<use href="#bolt" x="402.5" y="152.5"/>
<use href="#bolt" x="297.5" y="158.0"/>
<use href="#bolt" x="310.5" y="158.8"/>
<use href="#bolt" x="323.5" y="160.0"/>
<use href="#bolt" x="336.0" y="160.5"/>
<use href="#bolt" x="349.0" y="161.2"/>
<use href="#bolt" x="361.8" y="162.0"/>
<use href="#bolt" x="374.5" y="163.0"/>
<use href="#bolt" x="309.2" y="172.0"/>
<use href="#bolt" x="322.5" y="173.0"/>
<use href="#bolt" x="335.0" y="173.8"/>
<use href="#bolt" x="348.5" y="174.5"/>
<use href="#bolt" x="361.0" y="175.0"/>
<use href="#bolt" x="373.5" y="175.5"/>
<use href="#bolt" x="386.8" y="177.0"/>
<use href="#bolt" x="321.0" y="186.2"/>
<use href="#bolt" x="334.2" y="186.2"/>
<use href="#bolt" x="347.5" y="188.0"/>
<use href="#bolt" x="333.5" y="199.5"/>
<use href="#bolt" x="359.2" y="201.2"/>
<use href="#bolt" x="386.0" y="190.0"/>
<use href="#bolt" x="385.0" y="202.0"/>
<use href="#bolt" x="358.0" y="213.8"/>
<use href="#bolt" x="413.5" y="166.2"/>
<use href="#bolt" x="426.0" y="180.5"/>
<use href="#bolt" x="408.5" y="217.5"/>
<use href="#bolt" x="435.5" y="219.5"/>
<use href="#bolt" x="420.0" y="232.0"/>
<use href="#bolt" x="370.0" y="228.0"/>
<use href="#bolt" x="382.5" y="228.8"/>
<use href="#bolt" x="395.0" y="229.5"/>
<use href="#bolt" x="343.5" y="238.8"/>
<use href="#bolt" x="394.5" y="242.5"/>
<use href="#bolt" x="407.0" y="243.0"/>
<use href="#bolt" x="368.0" y="253.0"/>
<use href="#bolt" x="380.5" y="254.5"/>
<use href="#bolt" x="392.5" y="255.5"/>
<use href="#bolt" x="405.5" y="255.5"/>
<use href="#bolt" x="355.0" y="252.0"/>
<use href="#bolt" x="379.2" y="266.2"/>
<use href="#bolt" x="391.8" y="268.0"/>
<use href="#bolt" x="405.0" y="268.8"/>
<use href="#bolt" x="415.5" y="282.5"/>
<use href="#bolt" x="391.0" y="280.0"/>
<use href="#bolt" x="390.0" y="293.0"/>
<use href="#bolt" x="402.5" y="293.8"/>
<use href="#bolt" x="415.0" y="295.0"/>
<use href="#bolt" x="427.5" y="296.2"/>
<use href="#bolt" x="440.5" y="297.5"/>
<use href="#bolt" x="452.5" y="298.8"/>
<use href="#bolt" x="401.0" y="307.0"/>
<use href="#bolt" x="413.0" y="307.5"/>
<use href="#bolt" x="426.0" y="308.0"/>
<use href="#bolt" x="451.0" y="312.0"/>
<use href="#bolt" x="463.5" y="312.5"/>
<use href="#bolt" x="476.8" y="313.8"/>
<use href="#bolt" x="478.5" y="288.8"/>
<use href="#bolt" x="491.8" y="290.0"/>
<use href="#bolt" x="499.2" y="213.8"/>
<use href="#bolt" x="510.5" y="230.0"/>
<use href="#bolt" x="497.5" y="240.5"/>
<use href="#bolt" x="509.2" y="242.0"/>
<use href="#bolt" x="313.5" y="313.0"/>
<use href="#bolt" x="269.2" y="181.2"/>
<use href="#bolt" x="259.2" y="155.5"/>
<use href="#bolt" x="532.2" y="153.0"/>
<use href="#bolt" x="545.5" y="154.5"/>
<use href="#bolt" x="558.5" y="156.2"/>
<use href="#bolt" x="571.0" y="158.0"/>
<use href="#bolt" x="584.0" y="159.5"/>
<use href="#bolt" x="596.5" y="161.2"/>
<use href="#bolt" x="518.5" y="163.8"/>
<use href="#bolt" x="531.5" y="165.5"/>
<use href="#bolt" x="544.8" y="167.0"/>
<use href="#bolt" x="557.2" y="168.8"/>
<use href="#bolt" x="569.8" y="170.5"/>
<use href="#bolt" x="582.2" y="172.0"/>
<use href="#bolt" x="529.8" y="178.8"/>
<use href="#bolt" x="543.0" y="180.0"/>
<use href="#bolt" x="556.0" y="181.2"/>
<use href="#bolt" x="568.0" y="183.0"/>
<use href="#bolt" x="580.5" y="184.5"/>
<use href="#bolt" x="554.0" y="194.5"/>
<use href="#bolt" x="567.2" y="195.5"/>
<use href="#bolt" x="513.5" y="202.5"/>
<use href="#bolt" x="526.5" y="204.5"/>
<use href="#bolt" x="539.0" y="206.2"/>
<use href="#bolt" x="552.2" y="207.5"/>
<use href="#bolt" x="565.5" y="208.8"/>
<use href="#bolt" x="499.8" y="213.8"/>
<use href="#bolt" x="512.2" y="215.5"/>
<use href="#bolt" x="525.5" y="217.0"/>
<use href="#bolt" x="538.0" y="218.0"/>
<use href="#bolt" x="551.0" y="219.5"/>
<use href="#bolt" x="563.5" y="222.0"/>
<use href="#bolt" x="510.5" y="228.8"/>
<use href="#bolt" x="523.5" y="229.5"/>
<use href="#bolt" x="536.5" y="230.5"/>
<use href="#bolt" x="549.0" y="232.5"/>
<use href="#bolt" x="497.2" y="239.5"/>
<use href="#bolt" x="509.8" y="240.5"/>
<use href="#bolt" x="522.2" y="242.5"/>
<use href="#bolt" x="534.8" y="243.8"/>
<use href="#bolt" x="547.2" y="245.5"/>
<use href="#bolt" x="479.0" y="288.8"/>
<use href="#bolt" x="491.0" y="290.0"/>
<use href="#bolt" x="476.0" y="313.8"/>
<use href="#bolt" x="252.0" y="283.5"/>
<use href="#bolt" x="264.5" y="284.8"/>
<use href="#bolt" x="277.5" y="285.5"/>
<use href="#bolt" x="252.0" y="296.5"/>
<use href="#bolt" x="263.8" y="297.2"/>
<use href="#bolt" x="276.2" y="298.0"/>
<use href="#bolt" x="250.0" y="309.0"/>
<use href="#bolt" x="263.0" y="309.8"/>
<use href="#bolt" x="275.5" y="309.8"/>
<use href="#bolt" x="249.5" y="321.5"/>
<use href="#bolt" x="262.5" y="322.2"/>
<use href="#bolt" x="275.0" y="323.0"/>
<use href="#bolt" x="249.5" y="334.0"/>
<use href="#bolt" x="262.0" y="334.8"/>
<use href="#bolt" x="274.5" y="335.5"/>
<use href="#bolt" x="287.0" y="336.0"/>
<use href="#bolt" x="236.2" y="345.5"/>
<use href="#bolt" x="248.8" y="346.5"/>
<use href="#bolt" x="261.2" y="347.2"/>
<use href="#bolt" x="273.8" y="348.0"/>
<use href="#bolt" x="149.5" y="343.0"/>
<use href="#bolt" x="162.0" y="343.0"/>
<use href="#bolt" x="149.5" y="355.5"/>
<use href="#bolt" x="162.0" y="356.0"/>
<use href="#bolt" x="174.0" y="356.0"/>
<use href="#bolt" x="162.0" y="368.0"/>
<use href="#bolt" x="174.0" y="369.0"/>
<use href="#bolt" x="186.2" y="369.0"/>
<use href="#bolt" x="259.5" y="384.0"/>
<use href="#bolt" x="271.2" y="398.0"/>
<use href="#bolt" x="282.0" y="422.2"/>
<use href="#bolt" x="263.5" y="284.8"/>
<use href="#bolt" x="276.8" y="285.5"/>
<use href="#bolt" x="263.5" y="297.2"/>
<use href="#bolt" x="276.0" y="298.0"/>
<use href="#bolt" x="263.0" y="309.8"/>
<use href="#bolt" x="275.5" y="310.5"/>
<use href="#bolt" x="262.5" y="322.2"/>
<use href="#bolt" x="275.0" y="323.0"/>
<use href="#bolt" x="261.8" y="334.8"/>
<use href="#bolt" x="274.2" y="335.5"/>
<use href="#bolt" x="286.8" y="336.0"/>
<use href="#bolt" x="261.0" y="347.2"/>
<use href="#bolt" x="273.5" y="348.0"/>
<use href="#bolt" x="313.5" y="313.0"/>
<use href="#bolt" x="260.0" y="384.0"/>
<use href="#bolt" x="271.0" y="397.2"/>
<use href="#bolt" x="281.8" y="422.2"/>
<use href="#bolt" x="390.0" y="279.8"/>
<use href="#bolt" x="416.0" y="282.2"/>
<use href="#bolt" x="390.0" y="293.5"/>
<use href="#bolt" x="402.5" y="294.0"/>
<use href="#bolt" x="415.0" y="294.8"/>
<use href="#bolt" x="427.5" y="296.0"/>
<use href="#bolt" x="440.0" y="297.2"/>
<use href="#bolt" x="452.5" y="298.0"/>
<use href="#bolt" x="401.0" y="307.2"/>
<use href="#bolt" x="413.5" y="308.0"/>
<use href="#bolt" x="426.0" y="308.5"/>
<use href="#bolt" x="451.0" y="311.0"/>
<use href="#bolt" x="463.5" y="312.2"/>
<use href="#bolt" x="476.0" y="313.5"/>
<use href="#bolt" x="462.5" y="324.8"/>
<use href="#bolt" x="436.8" y="335.5"/>
<use href="#bolt" x="460.5" y="336.5"/>
<use href="#bolt" x="478.5" y="289.0"/>
<use href="#bolt" x="491.0" y="289.8"/>
<use href="#bolt" x="496.0" y="241.2"/>
<use href="#bolt" x="509.0" y="242.5"/>
<use href="#bolt" x="521.5" y="243.0"/>
<use href="#bolt" x="534.0" y="243.8"/>
<use href="#bolt" x="546.5" y="245.5"/>
<use href="#bolt" x="478.5" y="288.8"/>
<use href="#bolt" x="491.0" y="290.0"/>
<use href="#bolt" x="476.0" y="313.8"/></g></g>
<rect x="50" y="100.3" width="880.8" height="748.2" fill="none" stroke="#777" stroke-width="1.3"/>
</svg>
<svg style="position:absolute;left:0;top:0" width="1024" height="884" viewBox="0 0 1024 884"><rect x="939.6" y="100.40" width="14.8" height="62.64" fill="#6a2b5e"/><rect x="939.6" y="162.74" width="14.8" height="62.64" fill="#290a45"/><rect x="939.6" y="225.08" width="14.8" height="62.64" fill="#0f1f95"/><rect x="939.6" y="287.43" width="14.8" height="62.64" fill="#0c568f"/><rect x="939.6" y="349.77" width="14.8" height="62.64" fill="#0b72b0"/><rect x="939.6" y="412.11" width="14.8" height="62.64" fill="#3a99b5"/><rect x="939.6" y="474.45" width="14.8" height="62.64" fill="#35998c"/><rect x="939.6" y="536.79" width="14.8" height="62.64" fill="#52b19b"/><rect x="939.6" y="599.13" width="14.8" height="62.64" fill="#9de8b3"/><rect x="939.6" y="661.48" width="14.8" height="62.64" fill="#cdf9cd"/><rect x="939.6" y="723.82" width="14.8" height="62.64" fill="#eef7c1"/><rect x="939.6" y="786.16" width="14.8" height="62.64" fill="#ffffff"/><rect x="939.6" y="100.40" width="14.8" height="748.10" fill="none" stroke="#777" stroke-width="1.2"/><line x1="954.5" y1="162.7" x2="958.5" y2="162.7" stroke="#555" stroke-width="1"/><text x="961" y="167.9" class="tk">50.0</text><line x1="954.5" y1="225.1" x2="958.5" y2="225.1" stroke="#555" stroke-width="1"/><text x="961" y="230.3" class="tk">30.0</text><line x1="954.5" y1="287.4" x2="958.5" y2="287.4" stroke="#555" stroke-width="1"/><text x="961" y="292.6" class="tk">20.0</text><line x1="954.5" y1="349.8" x2="958.5" y2="349.8" stroke="#555" stroke-width="1"/><text x="961" y="355.0" class="tk">15.0</text><line x1="954.5" y1="412.1" x2="958.5" y2="412.1" stroke="#555" stroke-width="1"/><text x="961" y="417.3" class="tk">10.0</text><line x1="954.5" y1="474.5" x2="958.5" y2="474.5" stroke="#555" stroke-width="1"/><text x="961" y="479.7" class="tk">5.0</text><line x1="954.5" y1="536.8" x2="958.5" y2="536.8" stroke="#555" stroke-width="1"/><text x="961" y="542.0" class="tk">4.0</text><line x1="954.5" y1="599.1" x2="958.5" y2="599.1" stroke="#555" stroke-width="1"/><text x="961" y="604.3" class="tk">3.0</text><line x1="954.5" y1="661.5" x2="958.5" y2="661.5" stroke="#555" stroke-width="1"/><text x="961" y="666.7" class="tk">2.0</text><line x1="954.5" y1="723.8" x2="958.5" y2="723.8" stroke="#555" stroke-width="1"/><text x="961" y="729.0" class="tk">1.0</text><line x1="954.5" y1="786.2" x2="958.5" y2="786.2" stroke="#555" stroke-width="1"/><text x="961" y="791.4" class="tk">0.1</text><line x1="46" y1="180.2" x2="50" y2="180.2" stroke="#555" stroke-width="1"/><text x="37.5" y="185.4" class="tk" text-anchor="end">43°N</text><line x1="46" y1="321.5" x2="50" y2="321.5" stroke="#555" stroke-width="1"/><text x="37.5" y="326.7" class="tk" text-anchor="end">41°N</text><line x1="46" y1="458.6" x2="50" y2="458.6" stroke="#555" stroke-width="1"/><text x="37.5" y="463.8" class="tk" text-anchor="end">39°N</text><line x1="46" y1="591.9" x2="50" y2="591.9" stroke="#555" stroke-width="1"/><text x="37.5" y="597.1" class="tk" text-anchor="end">37°N</text><line x1="46" y1="721.7" x2="50" y2="721.7" stroke="#555" stroke-width="1"/><text x="37.5" y="726.9" class="tk" text-anchor="end">35°N</text><line x1="112.6" y1="848.5" x2="112.6" y2="852.5" stroke="#555" stroke-width="1"/><text x="112.6" y="869" class="tk" text-anchor="middle">17°E</text><line x1="218.2" y1="848.5" x2="218.2" y2="852.5" stroke="#555" stroke-width="1"/><text x="218.2" y="869" class="tk" text-anchor="middle">19°E</text><line x1="323.8" y1="848.5" x2="323.8" y2="852.5" stroke="#555" stroke-width="1"/><text x="323.8" y="869" class="tk" text-anchor="middle">21°E</text><line x1="429.3" y1="848.5" x2="429.3" y2="852.5" stroke="#555" stroke-width="1"/><text x="429.3" y="869" class="tk" text-anchor="middle">23°E</text><line x1="534.9" y1="848.5" x2="534.9" y2="852.5" stroke="#555" stroke-width="1"/><text x="534.9" y="869" class="tk" text-anchor="middle">25°E</text><line x1="640.5" y1="848.5" x2="640.5" y2="852.5" stroke="#555" stroke-width="1"/><text x="640.5" y="869" class="tk" text-anchor="middle">27°E</text><line x1="746.1" y1="848.5" x2="746.1" y2="852.5" stroke="#555" stroke-width="1"/><text x="746.1" y="869" class="tk" text-anchor="middle">29°E</text><line x1="851.7" y1="848.5" x2="851.7" y2="852.5" stroke="#555" stroke-width="1"/><text x="851.7" y="869" class="tk" text-anchor="middle">31°E</text><text class="tk2" transform="translate(1006,474) rotate(-90)" text-anchor="middle">3-h acc. precip. [ mm ]</text></svg>

<svg style="position:absolute;left:0;top:0" width="1024" height="884" viewBox="0 0 1024 884">
  <path d="M82,790 L96.5,790 L111.5,802.5 L126,790 L141.4,790 L141.4,821.4 L126.6,821.4 L126.6,811.5 L114,820.5 Q111.5,822.5 109,820.5 L96.8,811.5 L96.8,821.4 L82,821.4 Z" fill="#0b13c4"/>
  <circle cx="82.3" cy="789.6" r="10.3" fill="#fbd000"/>
  <text x="148.5" y="801.5" font-size="16" fill="#3b3fc9" font-family="Liberation Sans" letter-spacing="0.7">Meteo</text>
  <text x="149" y="813.5" font-size="8" fill="#5a5dc9" font-family="Liberation Sans" letter-spacing="0.8">Όλα για</text>
  <text x="149" y="822" font-size="8" fill="#5a5dc9" font-family="Liberation Sans" letter-spacing="0.8">τον καιρό</text>
</svg>


<div id="hdr" style="position:absolute;left:48px;top:16px;width:906px;height:78px;border:2px solid #555;box-sizing:border-box;background:#fff"></div>
<div style="position:absolute;left:128px;top:18px;width:644px;height:74px;background:#333"></div>
<div class="ttl" style="position:absolute;left:128px;top:27px;width:644px;text-align:center">Ο υετός που αναμένεται το απόγευμα (15:00 – 18:00)</div>
<div class="ttl" style="position:absolute;left:128px;top:56px;width:644px;text-align:center">της Δευτέρας 27 Μαρτίου 2023</div>
<svg style="position:absolute;left:0;top:0" width="1024" height="100" viewBox="0 0 1024 100">
  <g fill="#849ef8">
    <circle cx="71" cy="42" r="14"/>
    <circle cx="92" cy="35" r="16"/>
    <circle cx="108" cy="47" r="10"/>
    <rect x="62" y="42" width="55" height="16" rx="8"/>
  </g>
  <path d="M73,39 L85,42 L78,53 L83,53 L66,72 L71,58 L63,58 Z" fill="#f8c90a"/>
  <g stroke="#93aaf5" stroke-width="1.6" stroke-linecap="round">
    <line x1="84" y1="60" x2="82" y2="66"/><line x1="91" y1="60" x2="89" y2="66"/><line x1="98" y1="60" x2="96" y2="66"/>
    <line x1="82" y1="70" x2="80" y2="76"/><line x1="89" y1="70" x2="87" y2="76"/><line x1="96" y1="70" x2="94" y2="76"/>
    <line x1="86" y1="78" x2="84" y2="83"/><line x1="93" y1="78" x2="91" y2="83"/>
  </g>
  <path d="M786,31 L807.6,31 L827,48.5 L845.2,31 L867.2,31 L867.2,78.4 L846.3,78.4 L846.3,63.4 L831,76.5 Q827,79.5 823,76.5 L807.6,63.4 L807.6,78.4 L786,78.4 Z" fill="#0b13c4"/>
  <circle cx="786.2" cy="31.7" r="14" fill="#fbd000"/>
</svg>
<div style="position:absolute;left:877.5px;top:27.5px;font-size:22px;color:#3b3fc9;letter-spacing:0.9px">Meteo</div>
<div style="position:absolute;left:878px;top:57.5px;font-size:11px;line-height:10.5px;color:#5558cc;letter-spacing:1.1px">Όλα για<br>τον καιρό</div>

</body></html>
